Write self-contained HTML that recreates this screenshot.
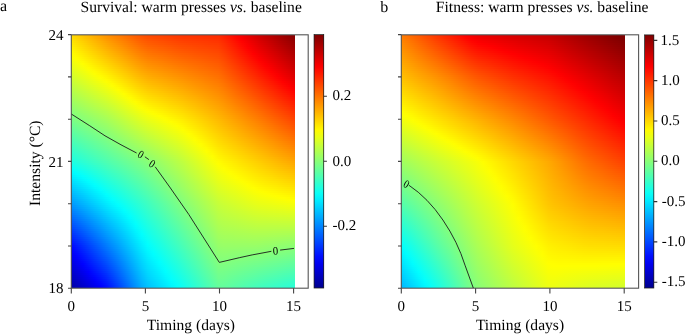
<!DOCTYPE html>
<html><head><meta charset="utf-8">
<style>
html,body{margin:0;padding:0;background:#fff;}
body{width:685px;height:334px;overflow:hidden;position:relative;font-family:"Liberation Serif",serif;}
.hm{position:absolute;overflow:hidden;}
.hm i{display:block;height:2px;}
.cb{position:absolute;background:linear-gradient(180deg,#800000 0.00%,#9f0000 3.12%,#be0000 6.25%,#de0000 9.38%,#fd0000 12.50%,#ff1d00 15.62%,#ff3d00 18.75%,#ff5c00 21.88%,#ff7c00 25.00%,#ff9b00 28.12%,#ffba00 31.25%,#ffda00 34.38%,#fff900 37.50%,#e6ff19 40.62%,#c6ff39 43.75%,#a7ff58 46.88%,#87ff78 50.00%,#68ff97 53.12%,#49ffb6 56.25%,#29ffd6 59.38%,#0afff5 62.50%,#00eaff 65.62%,#00caff 68.75%,#00abff 71.88%,#008bff 75.00%,#006cff 78.12%,#004dff 81.25%,#002dff 84.38%,#000eff 87.50%,#0000ee 90.62%,#0000ce 93.75%,#0000ae 96.88%,#00008f 100.00%);}
svg{position:absolute;left:0;top:0;will-change:transform;}
svg text{font-family:"Liberation Serif",serif;fill:#000;text-rendering:geometricPrecision;}
</style></head><body>
<div class="hm" style="left:71.30px;top:34.50px;width:223.70px;height:253.50px">
<i style="background:linear-gradient(90deg,#ffdc00 0.0%,#ffd000 2.6%,#ffc400 5.3%,#ffb800 7.9%,#ffac00 10.5%,#ffa000 13.2%,#ff9400 15.8%,#ff8800 18.4%,#ff7e00 21.1%,#ff7300 23.7%,#ff6800 26.3%,#ff5e00 28.9%,#ff5300 31.6%,#ff4b00 34.2%,#ff4700 36.8%,#ff4400 39.5%,#ff4000 42.1%,#ff3c00 44.7%,#ff3900 47.4%,#ff3500 50.0%,#ff3300 52.6%,#ff3200 55.3%,#ff3000 57.9%,#ff2e00 60.5%,#ff2d00 63.2%,#ff2b00 65.8%,#ff2000 68.4%,#ff1200 71.1%,#ff0500 73.7%,#f70000 76.3%,#e90000 78.9%,#dc0000 81.6%,#cf0000 84.2%,#c30000 86.8%,#b80000 89.5%,#ac0000 92.1%,#a00000 94.7%,#940000 97.4%,#880000 100.0%)"></i>
<i style="background:linear-gradient(90deg,#ffe000 0.0%,#ffd400 2.6%,#ffc800 5.3%,#ffbc00 7.9%,#ffb000 10.5%,#ffa400 13.2%,#ff9800 15.8%,#ff8d00 18.4%,#ff8300 21.1%,#ff7800 23.7%,#ff6d00 26.3%,#ff6200 28.9%,#ff5800 31.6%,#ff5000 34.2%,#ff4c00 36.8%,#ff4800 39.5%,#ff4500 42.1%,#ff4100 44.7%,#ff3d00 47.4%,#ff3900 50.0%,#ff3800 52.6%,#ff3600 55.3%,#ff3400 57.9%,#ff3200 60.5%,#ff3000 63.2%,#ff2f00 65.8%,#ff2300 68.4%,#ff1600 71.1%,#ff0900 73.7%,#fa0000 76.3%,#ed0000 78.9%,#e00000 81.6%,#d30000 84.2%,#c70000 86.8%,#bc0000 89.5%,#b00000 92.1%,#a40000 94.7%,#980000 97.4%,#8c0000 100.0%)"></i>
<i style="background:linear-gradient(90deg,#ffe400 0.0%,#ffd800 2.6%,#ffcc00 5.3%,#ffc100 7.9%,#ffb500 10.5%,#ffa900 13.2%,#ff9d00 15.8%,#ff9200 18.4%,#ff8700 21.1%,#ff7d00 23.7%,#ff7200 26.3%,#ff6700 28.9%,#ff5d00 31.6%,#ff5500 34.2%,#ff5100 36.8%,#ff4d00 39.5%,#ff4900 42.1%,#ff4500 44.7%,#ff4100 47.4%,#ff3e00 50.0%,#ff3c00 52.6%,#ff3a00 55.3%,#ff3800 57.9%,#ff3600 60.5%,#ff3400 63.2%,#ff3200 65.8%,#ff2700 68.4%,#ff1a00 71.1%,#ff0c00 73.7%,#fe0000 76.3%,#f10000 78.9%,#e40000 81.6%,#d70000 84.2%,#cb0000 86.8%,#c00000 89.5%,#b40000 92.1%,#a80000 94.7%,#9c0000 97.4%,#910000 100.0%)"></i>
<i style="background:linear-gradient(90deg,#ffe800 0.0%,#ffdc00 2.6%,#ffd100 5.3%,#ffc500 7.9%,#ffb900 10.5%,#ffae00 13.2%,#ffa200 15.8%,#ff9700 18.4%,#ff8c00 21.1%,#ff8200 23.7%,#ff7700 26.3%,#ff6c00 28.9%,#ff6100 31.6%,#ff5a00 34.2%,#ff5600 36.8%,#ff5200 39.5%,#ff4e00 42.1%,#ff4a00 44.7%,#ff4600 47.4%,#ff4200 50.0%,#ff4000 52.6%,#ff3e00 55.3%,#ff3c00 57.9%,#ff3a00 60.5%,#ff3700 63.2%,#ff3500 65.8%,#ff2a00 68.4%,#ff1d00 71.1%,#ff1000 73.7%,#ff0300 76.3%,#f50000 78.9%,#e80000 81.6%,#db0000 84.2%,#d00000 86.8%,#c40000 89.5%,#b80000 92.1%,#ac0000 94.7%,#a10000 97.4%,#950000 100.0%)"></i>
<i style="background:linear-gradient(90deg,#ffec00 0.0%,#ffe000 2.6%,#ffd500 5.3%,#ffc900 7.9%,#ffbe00 10.5%,#ffb200 13.2%,#ffa700 15.8%,#ff9c00 18.4%,#ff9100 21.1%,#ff8600 23.7%,#ff7c00 26.3%,#ff7100 28.9%,#ff6600 31.6%,#ff5e00 34.2%,#ff5a00 36.8%,#ff5600 39.5%,#ff5200 42.1%,#ff4e00 44.7%,#ff4a00 47.4%,#ff4700 50.0%,#ff4400 52.6%,#ff4200 55.3%,#ff4000 57.9%,#ff3d00 60.5%,#ff3b00 63.2%,#ff3900 65.8%,#ff2e00 68.4%,#ff2100 71.1%,#ff1400 73.7%,#ff0700 76.3%,#f90000 78.9%,#ec0000 81.6%,#df0000 84.2%,#d40000 86.8%,#c80000 89.5%,#bc0000 92.1%,#b00000 94.7%,#a50000 97.4%,#990000 100.0%)"></i>
<i style="background:linear-gradient(90deg,#fff000 0.0%,#ffe400 2.6%,#ffd900 5.3%,#ffce00 7.9%,#ffc200 10.5%,#ffb700 13.2%,#ffab00 15.8%,#ffa000 18.4%,#ff9600 21.1%,#ff8b00 23.7%,#ff8000 26.3%,#ff7600 28.9%,#ff6b00 31.6%,#ff6300 34.2%,#ff5f00 36.8%,#ff5b00 39.5%,#ff5700 42.1%,#ff5300 44.7%,#ff4f00 47.4%,#ff4b00 50.0%,#ff4900 52.6%,#ff4600 55.3%,#ff4400 57.9%,#ff4100 60.5%,#ff3f00 63.2%,#ff3c00 65.8%,#ff3100 68.4%,#ff2400 71.1%,#ff1700 73.7%,#ff0a00 76.3%,#fc0000 78.9%,#f00000 81.6%,#e30000 84.2%,#d80000 86.8%,#cc0000 89.5%,#c00000 92.1%,#b50000 94.7%,#a90000 97.4%,#9d0000 100.0%)"></i>
<i style="background:linear-gradient(90deg,#fff400 0.0%,#ffe900 2.6%,#ffdd00 5.3%,#ffd200 7.9%,#ffc700 10.5%,#ffbb00 13.2%,#ffb000 15.8%,#ffa500 18.4%,#ff9b00 21.1%,#ff9000 23.7%,#ff8500 26.3%,#ff7b00 28.9%,#ff7000 31.6%,#ff6800 34.2%,#ff6400 36.8%,#ff6000 39.5%,#ff5c00 42.1%,#ff5800 44.7%,#ff5300 47.4%,#ff4f00 50.0%,#ff4d00 52.6%,#ff4a00 55.3%,#ff4700 57.9%,#ff4500 60.5%,#ff4200 63.2%,#ff3f00 65.8%,#ff3400 68.4%,#ff2800 71.1%,#ff1b00 73.7%,#ff0e00 76.3%,#ff0100 78.9%,#f40000 81.6%,#e70000 84.2%,#dc0000 86.8%,#d00000 89.5%,#c40000 92.1%,#b90000 94.7%,#ad0000 97.4%,#a10000 100.0%)"></i>
<i style="background:linear-gradient(90deg,#fff800 0.0%,#ffed00 2.6%,#ffe100 5.3%,#ffd600 7.9%,#ffcb00 10.5%,#ffc000 13.2%,#ffb500 15.8%,#ffaa00 18.4%,#ff9f00 21.1%,#ff9500 23.7%,#ff8a00 26.3%,#ff8000 28.9%,#ff7500 31.6%,#ff6d00 34.2%,#ff6900 36.8%,#ff6400 39.5%,#ff6000 42.1%,#ff5c00 44.7%,#ff5800 47.4%,#ff5400 50.0%,#ff5100 52.6%,#ff4e00 55.3%,#ff4b00 57.9%,#ff4900 60.5%,#ff4600 63.2%,#ff4300 65.8%,#ff3800 68.4%,#ff2b00 71.1%,#ff1f00 73.7%,#ff1200 76.3%,#ff0500 78.9%,#f70000 81.6%,#eb0000 84.2%,#e00000 86.8%,#d40000 89.5%,#c80000 92.1%,#bd0000 94.7%,#b10000 97.4%,#a60000 100.0%)"></i>
<i style="background:linear-gradient(90deg,#fffc00 0.0%,#fff100 2.6%,#ffe600 5.3%,#ffdb00 7.9%,#ffd000 10.5%,#ffc500 13.2%,#ffba00 15.8%,#ffaf00 18.4%,#ffa400 21.1%,#ff9a00 23.7%,#ff8f00 26.3%,#ff8400 28.9%,#ff7a00 31.6%,#ff7200 34.2%,#ff6d00 36.8%,#ff6900 39.5%,#ff6500 42.1%,#ff6100 44.7%,#ff5c00 47.4%,#ff5800 50.0%,#ff5500 52.6%,#ff5200 55.3%,#ff4f00 57.9%,#ff4c00 60.5%,#ff4900 63.2%,#ff4600 65.8%,#ff3b00 68.4%,#ff2f00 71.1%,#ff2200 73.7%,#ff1600 76.3%,#ff0900 78.9%,#fb0000 81.6%,#ef0000 84.2%,#e40000 86.8%,#d80000 89.5%,#cd0000 92.1%,#c10000 94.7%,#b50000 97.4%,#aa0000 100.0%)"></i>
<i style="background:linear-gradient(90deg,#feff01 0.0%,#fff500 2.6%,#ffea00 5.3%,#ffdf00 7.9%,#ffd400 10.5%,#ffc900 13.2%,#ffbe00 15.8%,#ffb400 18.4%,#ffa900 21.1%,#ff9e00 23.7%,#ff9400 26.3%,#ff8900 28.9%,#ff7f00 31.6%,#ff7700 34.2%,#ff7200 36.8%,#ff6e00 39.5%,#ff6a00 42.1%,#ff6500 44.7%,#ff6100 47.4%,#ff5d00 50.0%,#ff5a00 52.6%,#ff5600 55.3%,#ff5300 57.9%,#ff5000 60.5%,#ff4d00 63.2%,#ff4a00 65.8%,#ff3f00 68.4%,#ff3200 71.1%,#ff2600 73.7%,#ff1900 76.3%,#ff0d00 78.9%,#ff0000 81.6%,#f30000 84.2%,#e80000 86.8%,#dc0000 89.5%,#d10000 92.1%,#c50000 94.7%,#b90000 97.4%,#ae0000 100.0%)"></i>
<i style="background:linear-gradient(90deg,#fbff04 0.0%,#fff900 2.6%,#ffee00 5.3%,#ffe300 7.9%,#ffd900 10.5%,#ffce00 13.2%,#ffc300 15.8%,#ffb800 18.4%,#ffae00 21.1%,#ffa300 23.7%,#ff9900 26.3%,#ff8e00 28.9%,#ff8300 31.6%,#ff7b00 34.2%,#ff7700 36.8%,#ff7300 39.5%,#ff6e00 42.1%,#ff6a00 44.7%,#ff6500 47.4%,#ff6100 50.0%,#ff5e00 52.6%,#ff5a00 55.3%,#ff5700 57.9%,#ff5400 60.5%,#ff5000 63.2%,#ff4d00 65.8%,#ff4200 68.4%,#ff3600 71.1%,#ff2900 73.7%,#ff1d00 76.3%,#ff1100 78.9%,#ff0400 81.6%,#f70000 84.2%,#ec0000 86.8%,#e00000 89.5%,#d50000 92.1%,#c90000 94.7%,#be0000 97.4%,#b20000 100.0%)"></i>
<i style="background:linear-gradient(90deg,#f7ff08 0.0%,#fffd00 2.6%,#fff200 5.3%,#ffe800 7.9%,#ffdd00 10.5%,#ffd200 13.2%,#ffc800 15.8%,#ffbd00 18.4%,#ffb300 21.1%,#ffa800 23.7%,#ff9d00 26.3%,#ff9300 28.9%,#ff8800 31.6%,#ff8000 34.2%,#ff7c00 36.8%,#ff7700 39.5%,#ff7300 42.1%,#ff6e00 44.7%,#ff6a00 47.4%,#ff6500 50.0%,#ff6200 52.6%,#ff5e00 55.3%,#ff5b00 57.9%,#ff5700 60.5%,#ff5400 63.2%,#ff5000 65.8%,#ff4600 68.4%,#ff3900 71.1%,#ff2d00 73.7%,#ff2100 76.3%,#ff1500 78.9%,#ff0800 81.6%,#fb0000 84.2%,#f00000 86.8%,#e40000 89.5%,#d90000 92.1%,#cd0000 94.7%,#c20000 97.4%,#b60000 100.0%)"></i>
<i style="background:linear-gradient(90deg,#f3ff0c 0.0%,#fdff02 2.6%,#fff600 5.3%,#ffec00 7.9%,#ffe200 10.5%,#ffd700 13.2%,#ffcd00 15.8%,#ffc200 18.4%,#ffb700 21.1%,#ffad00 23.7%,#ffa200 26.3%,#ff9800 28.9%,#ff8d00 31.6%,#ff8500 34.2%,#ff8000 36.8%,#ff7c00 39.5%,#ff7700 42.1%,#ff7300 44.7%,#ff6e00 47.4%,#ff6a00 50.0%,#ff6600 52.6%,#ff6300 55.3%,#ff5f00 57.9%,#ff5b00 60.5%,#ff5700 63.2%,#ff5400 65.8%,#ff4900 68.4%,#ff3d00 71.1%,#ff3100 73.7%,#ff2500 76.3%,#ff1800 78.9%,#ff0c00 81.6%,#ff0000 84.2%,#f40000 86.8%,#e80000 89.5%,#dd0000 92.1%,#d10000 94.7%,#c60000 97.4%,#ba0000 100.0%)"></i>
<i style="background:linear-gradient(90deg,#efff10 0.0%,#f9ff06 2.6%,#fffb00 5.3%,#fff000 7.9%,#ffe600 10.5%,#ffdc00 13.2%,#ffd100 15.8%,#ffc700 18.4%,#ffbc00 21.1%,#ffb200 23.7%,#ffa700 26.3%,#ff9d00 28.9%,#ff9200 31.6%,#ff8a00 34.2%,#ff8500 36.8%,#ff8100 39.5%,#ff7c00 42.1%,#ff7700 44.7%,#ff7300 47.4%,#ff6e00 50.0%,#ff6a00 52.6%,#ff6700 55.3%,#ff6300 57.9%,#ff5f00 60.5%,#ff5b00 63.2%,#ff5700 65.8%,#ff4d00 68.4%,#ff4000 71.1%,#ff3400 73.7%,#ff2800 76.3%,#ff1c00 78.9%,#ff1000 81.6%,#ff0400 84.2%,#f80000 86.8%,#ec0000 89.5%,#e10000 92.1%,#d60000 94.7%,#ca0000 97.4%,#bf0000 100.0%)"></i>
<i style="background:linear-gradient(90deg,#ebff14 0.0%,#f5ff0a 2.6%,#ffff00 5.3%,#fff500 7.9%,#ffea00 10.5%,#ffe000 13.2%,#ffd600 15.8%,#ffcc00 18.4%,#ffc100 21.1%,#ffb700 23.7%,#ffac00 26.3%,#ffa100 28.9%,#ff9700 31.6%,#ff8f00 34.2%,#ff8a00 36.8%,#ff8500 39.5%,#ff8100 42.1%,#ff7c00 44.7%,#ff7700 47.4%,#ff7300 50.0%,#ff6f00 52.6%,#ff6b00 55.3%,#ff6700 57.9%,#ff6300 60.5%,#ff5f00 63.2%,#ff5b00 65.8%,#ff5000 68.4%,#ff4400 71.1%,#ff3800 73.7%,#ff2c00 76.3%,#ff2000 78.9%,#ff1400 81.6%,#ff0800 84.2%,#fc0000 86.8%,#f10000 89.5%,#e50000 92.1%,#da0000 94.7%,#ce0000 97.4%,#c30000 100.0%)"></i>
<i style="background:linear-gradient(90deg,#e7ff18 0.0%,#f1ff0e 2.6%,#fbff04 5.3%,#fff900 7.9%,#ffef00 10.5%,#ffe500 13.2%,#ffdb00 15.8%,#ffd100 18.4%,#ffc600 21.1%,#ffbb00 23.7%,#ffb100 26.3%,#ffa600 28.9%,#ff9c00 31.6%,#ff9300 34.2%,#ff8f00 36.8%,#ff8a00 39.5%,#ff8500 42.1%,#ff8100 44.7%,#ff7c00 47.4%,#ff7700 50.0%,#ff7300 52.6%,#ff6f00 55.3%,#ff6b00 57.9%,#ff6600 60.5%,#ff6200 63.2%,#ff5e00 65.8%,#ff5300 68.4%,#ff4800 71.1%,#ff3c00 73.7%,#ff3000 76.3%,#ff2400 78.9%,#ff1800 81.6%,#ff0c00 84.2%,#ff0100 86.8%,#f50000 89.5%,#e90000 92.1%,#de0000 94.7%,#d20000 97.4%,#c70000 100.0%)"></i>
<i style="background:linear-gradient(90deg,#e3ff1c 0.0%,#edff12 2.6%,#f7ff08 5.3%,#fffd00 7.9%,#fff300 10.5%,#ffea00 13.2%,#ffe000 15.8%,#ffd500 18.4%,#ffcb00 21.1%,#ffc000 23.7%,#ffb600 26.3%,#ffab00 28.9%,#ffa000 31.6%,#ff9800 34.2%,#ff9300 36.8%,#ff8f00 39.5%,#ff8a00 42.1%,#ff8500 44.7%,#ff8000 47.4%,#ff7c00 50.0%,#ff7700 52.6%,#ff7300 55.3%,#ff6e00 57.9%,#ff6a00 60.5%,#ff6600 63.2%,#ff6100 65.8%,#ff5700 68.4%,#ff4b00 71.1%,#ff3f00 73.7%,#ff3400 76.3%,#ff2800 78.9%,#ff1c00 81.6%,#ff1000 84.2%,#ff0500 86.8%,#f90000 89.5%,#ed0000 92.1%,#e20000 94.7%,#d60000 97.4%,#cb0000 100.0%)"></i>
<i style="background:linear-gradient(90deg,#dfff20 0.0%,#e9ff16 2.6%,#f3ff0c 5.3%,#fcff03 7.9%,#fff800 10.5%,#ffee00 13.2%,#ffe400 15.8%,#ffda00 18.4%,#ffd000 21.1%,#ffc500 23.7%,#ffba00 26.3%,#ffb000 28.9%,#ffa500 31.6%,#ff9d00 34.2%,#ff9800 36.8%,#ff9300 39.5%,#ff8e00 42.1%,#ff8a00 44.7%,#ff8500 47.4%,#ff8000 50.0%,#ff7b00 52.6%,#ff7700 55.3%,#ff7200 57.9%,#ff6e00 60.5%,#ff6900 63.2%,#ff6500 65.8%,#ff5a00 68.4%,#ff4f00 71.1%,#ff4300 73.7%,#ff3700 76.3%,#ff2c00 78.9%,#ff2000 81.6%,#ff1400 84.2%,#ff0900 86.8%,#fd0000 89.5%,#f10000 92.1%,#e60000 94.7%,#db0000 97.4%,#cf0000 100.0%)"></i>
<i style="background:linear-gradient(90deg,#dbff24 0.0%,#e5ff1a 2.6%,#eeff11 5.3%,#f8ff07 7.9%,#fffc00 10.5%,#fff300 13.2%,#ffe900 15.8%,#ffdf00 18.4%,#ffd400 21.1%,#ffca00 23.7%,#ffbf00 26.3%,#ffb500 28.9%,#ffaa00 31.6%,#ffa200 34.2%,#ff9d00 36.8%,#ff9800 39.5%,#ff9300 42.1%,#ff8e00 44.7%,#ff8900 47.4%,#ff8400 50.0%,#ff8000 52.6%,#ff7b00 55.3%,#ff7600 57.9%,#ff7200 60.5%,#ff6d00 63.2%,#ff6800 65.8%,#ff5e00 68.4%,#ff5200 71.1%,#ff4700 73.7%,#ff3b00 76.3%,#ff2f00 78.9%,#ff2400 81.6%,#ff1800 84.2%,#ff0d00 86.8%,#ff0200 89.5%,#f50000 92.1%,#ea0000 94.7%,#df0000 97.4%,#d30000 100.0%)"></i>
<i style="background:linear-gradient(90deg,#d7ff28 0.0%,#e1ff1e 2.6%,#eaff15 5.3%,#f4ff0b 7.9%,#fdff02 10.5%,#fff700 13.2%,#ffee00 15.8%,#ffe400 18.4%,#ffd900 21.1%,#ffcf00 23.7%,#ffc400 26.3%,#ffba00 28.9%,#ffaf00 31.6%,#ffa700 34.2%,#ffa200 36.8%,#ff9d00 39.5%,#ff9800 42.1%,#ff9300 44.7%,#ff8e00 47.4%,#ff8900 50.0%,#ff8400 52.6%,#ff7f00 55.3%,#ff7a00 57.9%,#ff7500 60.5%,#ff7000 63.2%,#ff6c00 65.8%,#ff6100 68.4%,#ff5600 71.1%,#ff4a00 73.7%,#ff3f00 76.3%,#ff3300 78.9%,#ff2800 81.6%,#ff1c00 84.2%,#ff1100 86.8%,#ff0600 89.5%,#fa0000 92.1%,#ee0000 94.7%,#e30000 97.4%,#d80000 100.0%)"></i>
<i style="background:linear-gradient(90deg,#d3ff2c 0.0%,#ddff22 2.6%,#e6ff19 5.3%,#efff10 7.9%,#f9ff06 10.5%,#fffc00 13.2%,#fff300 15.8%,#ffe900 18.4%,#ffde00 21.1%,#ffd300 23.7%,#ffc900 26.3%,#ffbe00 28.9%,#ffb400 31.6%,#ffac00 34.2%,#ffa600 36.8%,#ffa100 39.5%,#ff9c00 42.1%,#ff9700 44.7%,#ff9200 47.4%,#ff8d00 50.0%,#ff8800 52.6%,#ff8300 55.3%,#ff7e00 57.9%,#ff7900 60.5%,#ff7400 63.2%,#ff6f00 65.8%,#ff6500 68.4%,#ff5900 71.1%,#ff4e00 73.7%,#ff4300 76.3%,#ff3700 78.9%,#ff2c00 81.6%,#ff2000 84.2%,#ff1500 86.8%,#ff0a00 89.5%,#fe0000 92.1%,#f20000 94.7%,#e70000 97.4%,#dc0000 100.0%)"></i>
<i style="background:linear-gradient(90deg,#cfff30 0.0%,#d8ff27 2.6%,#e2ff1d 5.3%,#ebff14 7.9%,#f4ff0b 10.5%,#fdff02 13.2%,#fff700 15.8%,#ffed00 18.4%,#ffe300 21.1%,#ffd800 23.7%,#ffce00 26.3%,#ffc300 28.9%,#ffb900 31.6%,#ffb000 34.2%,#ffab00 36.8%,#ffa600 39.5%,#ffa100 42.1%,#ff9c00 44.7%,#ff9700 47.4%,#ff9100 50.0%,#ff8c00 52.6%,#ff8700 55.3%,#ff8200 57.9%,#ff7d00 60.5%,#ff7800 63.2%,#ff7200 65.8%,#ff6800 68.4%,#ff5d00 71.1%,#ff5200 73.7%,#ff4600 76.3%,#ff3b00 78.9%,#ff3000 81.6%,#ff2500 84.2%,#ff1900 86.8%,#ff0e00 89.5%,#ff0300 92.1%,#f70000 94.7%,#eb0000 97.4%,#e00000 100.0%)"></i>
<i style="background:linear-gradient(90deg,#cbff34 0.0%,#d4ff2b 2.6%,#ddff22 5.3%,#e6ff19 7.9%,#f0ff0f 10.5%,#f9ff06 13.2%,#fffc00 15.8%,#fff200 18.4%,#ffe800 21.1%,#ffdd00 23.7%,#ffd300 26.3%,#ffc800 28.9%,#ffbe00 31.6%,#ffb500 34.2%,#ffb000 36.8%,#ffab00 39.5%,#ffa600 42.1%,#ffa000 44.7%,#ff9b00 47.4%,#ff9600 50.0%,#ff9000 52.6%,#ff8b00 55.3%,#ff8600 57.9%,#ff8000 60.5%,#ff7b00 63.2%,#ff7600 65.8%,#ff6c00 68.4%,#ff6000 71.1%,#ff5500 73.7%,#ff4a00 76.3%,#ff3f00 78.9%,#ff3400 81.6%,#ff2900 84.2%,#ff1e00 86.8%,#ff1200 89.5%,#ff0700 92.1%,#fb0000 94.7%,#f00000 97.4%,#e50000 100.0%)"></i>
<i style="background:linear-gradient(90deg,#c7ff38 0.0%,#d0ff2f 2.6%,#d9ff26 5.3%,#e2ff1d 7.9%,#ebff14 10.5%,#f4ff0b 13.2%,#fdff02 15.8%,#fff700 18.4%,#ffec00 21.1%,#ffe200 23.7%,#ffd700 26.3%,#ffcd00 28.9%,#ffc200 31.6%,#ffba00 34.2%,#ffb500 36.8%,#ffaf00 39.5%,#ffaa00 42.1%,#ffa500 44.7%,#ffa000 47.4%,#ff9a00 50.0%,#ff9500 52.6%,#ff8f00 55.3%,#ff8a00 57.9%,#ff8400 60.5%,#ff7f00 63.2%,#ff7900 65.8%,#ff6f00 68.4%,#ff6400 71.1%,#ff5900 73.7%,#ff4e00 76.3%,#ff4300 78.9%,#ff3800 81.6%,#ff2d00 84.2%,#ff2200 86.8%,#ff1700 89.5%,#ff0c00 92.1%,#ff0100 94.7%,#f50000 97.4%,#ea0000 100.0%)"></i>
<i style="background:linear-gradient(90deg,#c3ff3c 0.0%,#ccff33 2.6%,#d5ff2a 5.3%,#deff21 7.9%,#e7ff18 10.5%,#efff10 13.2%,#f8ff07 15.8%,#fffc00 18.4%,#fff100 21.1%,#ffe700 23.7%,#ffdc00 26.3%,#ffd200 28.9%,#ffc700 31.6%,#ffbf00 34.2%,#ffb900 36.8%,#ffb400 39.5%,#ffaf00 42.1%,#ffa900 44.7%,#ffa400 47.4%,#ff9f00 50.0%,#ff9900 52.6%,#ff9300 55.3%,#ff8e00 57.9%,#ff8800 60.5%,#ff8200 63.2%,#ff7d00 65.8%,#ff7300 68.4%,#ff6800 71.1%,#ff5d00 73.7%,#ff5200 76.3%,#ff4700 78.9%,#ff3c00 81.6%,#ff3100 84.2%,#ff2600 86.8%,#ff1b00 89.5%,#ff1000 92.1%,#ff0500 94.7%,#f90000 97.4%,#ee0000 100.0%)"></i>
<i style="background:linear-gradient(90deg,#bfff40 0.0%,#c7ff38 2.6%,#d0ff2f 5.3%,#d9ff26 7.9%,#e2ff1d 10.5%,#ebff14 13.2%,#f4ff0b 15.8%,#feff01 18.4%,#fff600 21.1%,#ffeb00 23.7%,#ffe100 26.3%,#ffd600 28.9%,#ffcc00 31.6%,#ffc400 34.2%,#ffbe00 36.8%,#ffb900 39.5%,#ffb300 42.1%,#ffae00 44.7%,#ffa800 47.4%,#ffa300 50.0%,#ff9d00 52.6%,#ff9700 55.3%,#ff9100 57.9%,#ff8c00 60.5%,#ff8600 63.2%,#ff8000 65.8%,#ff7600 68.4%,#ff6b00 71.1%,#ff6100 73.7%,#ff5600 76.3%,#ff4b00 78.9%,#ff4000 81.6%,#ff3500 84.2%,#ff2a00 86.8%,#ff2000 89.5%,#ff1500 92.1%,#ff0a00 94.7%,#fe0000 97.4%,#f30000 100.0%)"></i>
<i style="background:linear-gradient(90deg,#baff45 0.0%,#c3ff3c 2.6%,#ccff33 5.3%,#d5ff2a 7.9%,#ddff22 10.5%,#e6ff19 13.2%,#efff10 15.8%,#f9ff06 18.4%,#fffb00 21.1%,#fff000 23.7%,#ffe600 26.3%,#ffdb00 28.9%,#ffd100 31.6%,#ffc800 34.2%,#ffc300 36.8%,#ffbd00 39.5%,#ffb800 42.1%,#ffb200 44.7%,#ffad00 47.4%,#ffa700 50.0%,#ffa100 52.6%,#ff9b00 55.3%,#ff9500 57.9%,#ff8f00 60.5%,#ff8900 63.2%,#ff8400 65.8%,#ff7a00 68.4%,#ff6f00 71.1%,#ff6400 73.7%,#ff5a00 76.3%,#ff4f00 78.9%,#ff4400 81.6%,#ff3900 84.2%,#ff2f00 86.8%,#ff2400 89.5%,#ff1900 92.1%,#ff0e00 94.7%,#ff0400 97.4%,#f80000 100.0%)"></i>
<i style="background:linear-gradient(90deg,#b6ff49 0.0%,#bfff40 2.6%,#c8ff37 5.3%,#d0ff2f 7.9%,#d9ff26 10.5%,#e2ff1d 13.2%,#eaff15 15.8%,#f4ff0b 18.4%,#ffff00 21.1%,#fff500 23.7%,#ffeb00 26.3%,#ffe000 28.9%,#ffd600 31.6%,#ffcd00 34.2%,#ffc800 36.8%,#ffc200 39.5%,#ffbc00 42.1%,#ffb700 44.7%,#ffb100 47.4%,#ffac00 50.0%,#ffa500 52.6%,#ff9f00 55.3%,#ff9900 57.9%,#ff9300 60.5%,#ff8d00 63.2%,#ff8700 65.8%,#ff7d00 68.4%,#ff7300 71.1%,#ff6800 73.7%,#ff5d00 76.3%,#ff5300 78.9%,#ff4800 81.6%,#ff3e00 84.2%,#ff3300 86.8%,#ff2800 89.5%,#ff1e00 92.1%,#ff1300 94.7%,#ff0800 97.4%,#fc0000 100.0%)"></i>
<i style="background:linear-gradient(90deg,#b2ff4d 0.0%,#bbff44 2.6%,#c3ff3c 5.3%,#ccff33 7.9%,#d4ff2b 10.5%,#ddff22 13.2%,#e6ff19 15.8%,#efff10 18.4%,#faff05 21.1%,#fffa00 23.7%,#ffef00 26.3%,#ffe500 28.9%,#ffda00 31.6%,#ffd200 34.2%,#ffcc00 36.8%,#ffc700 39.5%,#ffc100 42.1%,#ffbb00 44.7%,#ffb600 47.4%,#ffb000 50.0%,#ffaa00 52.6%,#ffa300 55.3%,#ff9d00 57.9%,#ff9700 60.5%,#ff9100 63.2%,#ff8a00 65.8%,#ff8100 68.4%,#ff7600 71.1%,#ff6c00 73.7%,#ff6100 76.3%,#ff5700 78.9%,#ff4c00 81.6%,#ff4200 84.2%,#ff3700 86.8%,#ff2d00 89.5%,#ff2200 92.1%,#ff1700 94.7%,#ff0d00 97.4%,#ff0200 100.0%)"></i>
<i style="background:linear-gradient(90deg,#aeff51 0.0%,#b6ff49 2.6%,#bfff40 5.3%,#c7ff38 7.9%,#d0ff2f 10.5%,#d8ff27 13.2%,#e1ff1e 15.8%,#ebff14 18.4%,#f5ff0a 21.1%,#ffff00 23.7%,#fff400 26.3%,#ffea00 28.9%,#ffdf00 31.6%,#ffd700 34.2%,#ffd100 36.8%,#ffcb00 39.5%,#ffc600 42.1%,#ffc000 44.7%,#ffba00 47.4%,#ffb400 50.0%,#ffae00 52.6%,#ffa700 55.3%,#ffa100 57.9%,#ff9b00 60.5%,#ff9400 63.2%,#ff8e00 65.8%,#ff8400 68.4%,#ff7a00 71.1%,#ff6f00 73.7%,#ff6500 76.3%,#ff5b00 78.9%,#ff5000 81.6%,#ff4600 84.2%,#ff3b00 86.8%,#ff3100 89.5%,#ff2600 92.1%,#ff1c00 94.7%,#ff1100 97.4%,#ff0700 100.0%)"></i>
<i style="background:linear-gradient(90deg,#aaff55 0.0%,#b2ff4d 2.6%,#bbff44 5.3%,#c3ff3c 7.9%,#cbff34 10.5%,#d4ff2b 13.2%,#dcff23 15.8%,#e6ff19 18.4%,#f0ff0f 21.1%,#fbff04 23.7%,#fff900 26.3%,#ffef00 28.9%,#ffe400 31.6%,#ffdc00 34.2%,#ffd600 36.8%,#ffd000 39.5%,#ffca00 42.1%,#ffc400 44.7%,#ffbf00 47.4%,#ffb900 50.0%,#ffb200 52.6%,#ffac00 55.3%,#ffa500 57.9%,#ff9e00 60.5%,#ff9800 63.2%,#ff9100 65.8%,#ff8800 68.4%,#ff7d00 71.1%,#ff7300 73.7%,#ff6900 76.3%,#ff5f00 78.9%,#ff5400 81.6%,#ff4a00 84.2%,#ff4000 86.8%,#ff3500 89.5%,#ff2b00 92.1%,#ff2000 94.7%,#ff1600 97.4%,#ff0c00 100.0%)"></i>
<i style="background:linear-gradient(90deg,#a6ff59 0.0%,#aeff51 2.6%,#b6ff49 5.3%,#beff41 7.9%,#c7ff38 10.5%,#cfff30 13.2%,#d7ff28 15.8%,#e1ff1e 18.4%,#ecff13 21.1%,#f6ff09 23.7%,#fffe00 26.3%,#fff300 28.9%,#ffe900 31.6%,#ffe000 34.2%,#ffdb00 36.8%,#ffd500 39.5%,#ffcf00 42.1%,#ffc900 44.7%,#ffc300 47.4%,#ffbd00 50.0%,#ffb600 52.6%,#ffb000 55.3%,#ffa900 57.9%,#ffa200 60.5%,#ff9b00 63.2%,#ff9500 65.8%,#ff8b00 68.4%,#ff8100 71.1%,#ff7700 73.7%,#ff6d00 76.3%,#ff6300 78.9%,#ff5900 81.6%,#ff4e00 84.2%,#ff4400 86.8%,#ff3a00 89.5%,#ff2f00 92.1%,#ff2500 94.7%,#ff1b00 97.4%,#ff1000 100.0%)"></i>
<i style="background:linear-gradient(90deg,#a1ff5e 0.0%,#aaff55 2.6%,#b2ff4d 5.3%,#baff45 7.9%,#c2ff3d 10.5%,#caff35 13.2%,#d3ff2c 15.8%,#dcff23 18.4%,#e7ff18 21.1%,#f1ff0e 23.7%,#fbff04 26.3%,#fff800 28.9%,#ffee00 31.6%,#ffe500 34.2%,#ffdf00 36.8%,#ffd900 39.5%,#ffd300 42.1%,#ffcd00 44.7%,#ffc700 47.4%,#ffc100 50.0%,#ffba00 52.6%,#ffb400 55.3%,#ffad00 57.9%,#ffa600 60.5%,#ff9f00 63.2%,#ff9800 65.8%,#ff8f00 68.4%,#ff8500 71.1%,#ff7b00 73.7%,#ff7100 76.3%,#ff6700 78.9%,#ff5d00 81.6%,#ff5200 84.2%,#ff4800 86.8%,#ff3e00 89.5%,#ff3400 92.1%,#ff2900 94.7%,#ff1f00 97.4%,#ff1500 100.0%)"></i>
<i style="background:linear-gradient(90deg,#9dff62 0.0%,#a5ff5a 2.6%,#adff52 5.3%,#b6ff49 7.9%,#beff41 10.5%,#c6ff39 13.2%,#ceff31 15.8%,#d8ff27 18.4%,#e2ff1d 21.1%,#ecff13 23.7%,#f7ff08 26.3%,#fffd00 28.9%,#fff300 31.6%,#ffea00 34.2%,#ffe400 36.8%,#ffde00 39.5%,#ffd800 42.1%,#ffd200 44.7%,#ffcc00 47.4%,#ffc600 50.0%,#ffbf00 52.6%,#ffb800 55.3%,#ffb100 57.9%,#ffaa00 60.5%,#ffa300 63.2%,#ff9c00 65.8%,#ff9200 68.4%,#ff8800 71.1%,#ff7e00 73.7%,#ff7500 76.3%,#ff6b00 78.9%,#ff6100 81.6%,#ff5700 84.2%,#ff4c00 86.8%,#ff4200 89.5%,#ff3800 92.1%,#ff2e00 94.7%,#ff2400 97.4%,#ff1a00 100.0%)"></i>
<i style="background:linear-gradient(90deg,#99ff66 0.0%,#a1ff5e 2.6%,#a9ff56 5.3%,#b1ff4e 7.9%,#b9ff46 10.5%,#c1ff3e 13.2%,#c9ff36 15.8%,#d3ff2c 18.4%,#ddff22 21.1%,#e8ff17 23.7%,#f2ff0d 26.3%,#fcff03 28.9%,#fff700 31.6%,#ffef00 34.2%,#ffe900 36.8%,#ffe300 39.5%,#ffdd00 42.1%,#ffd600 44.7%,#ffd000 47.4%,#ffca00 50.0%,#ffc300 52.6%,#ffbc00 55.3%,#ffb500 57.9%,#ffad00 60.5%,#ffa600 63.2%,#ff9f00 65.8%,#ff9600 68.4%,#ff8c00 71.1%,#ff8200 73.7%,#ff7800 76.3%,#ff6f00 78.9%,#ff6500 81.6%,#ff5b00 84.2%,#ff5100 86.8%,#ff4700 89.5%,#ff3d00 92.1%,#ff3200 94.7%,#ff2800 97.4%,#ff1e00 100.0%)"></i>
<i style="background:linear-gradient(90deg,#95ff6a 0.0%,#9dff62 2.6%,#a5ff5a 5.3%,#adff52 7.9%,#b5ff4a 10.5%,#bdff42 13.2%,#c5ff3a 15.8%,#ceff31 18.4%,#d8ff27 21.1%,#e3ff1c 23.7%,#edff12 26.3%,#f7ff08 28.9%,#fffc00 31.6%,#fff400 34.2%,#ffed00 36.8%,#ffe700 39.5%,#ffe100 42.1%,#ffdb00 44.7%,#ffd500 47.4%,#ffce00 50.0%,#ffc700 52.6%,#ffc000 55.3%,#ffb800 57.9%,#ffb100 60.5%,#ffaa00 63.2%,#ffa300 65.8%,#ff9900 68.4%,#ff9000 71.1%,#ff8600 73.7%,#ff7c00 76.3%,#ff7300 78.9%,#ff6900 81.6%,#ff5f00 84.2%,#ff5500 86.8%,#ff4b00 89.5%,#ff4100 92.1%,#ff3700 94.7%,#ff2d00 97.4%,#ff2300 100.0%)"></i>
<i style="background:linear-gradient(90deg,#91ff6e 0.0%,#99ff66 2.6%,#a0ff5f 5.3%,#a8ff57 7.9%,#b0ff4f 10.5%,#b8ff47 13.2%,#c0ff3f 15.8%,#c9ff36 18.4%,#d4ff2b 21.1%,#deff21 23.7%,#e8ff17 26.3%,#f3ff0c 28.9%,#fdff02 31.6%,#fff900 34.2%,#fff200 36.8%,#ffec00 39.5%,#ffe600 42.1%,#ffdf00 44.7%,#ffd900 47.4%,#ffd300 50.0%,#ffcb00 52.6%,#ffc400 55.3%,#ffbc00 57.9%,#ffb500 60.5%,#ffad00 63.2%,#ffa600 65.8%,#ff9d00 68.4%,#ff9300 71.1%,#ff8a00 73.7%,#ff8000 76.3%,#ff7700 78.9%,#ff6d00 81.6%,#ff6300 84.2%,#ff5900 86.8%,#ff4f00 89.5%,#ff4500 92.1%,#ff3c00 94.7%,#ff3200 97.4%,#ff2800 100.0%)"></i>
<i style="background:linear-gradient(90deg,#8dff72 0.0%,#94ff6b 2.6%,#9cff63 5.3%,#a4ff5b 7.9%,#acff53 10.5%,#b3ff4c 13.2%,#bbff44 15.8%,#c5ff3a 18.4%,#cfff30 21.1%,#d9ff26 23.7%,#e3ff1c 26.3%,#eeff11 28.9%,#f8ff07 31.6%,#fffd00 34.2%,#fff700 36.8%,#fff100 39.5%,#ffea00 42.1%,#ffe400 44.7%,#ffde00 47.4%,#ffd700 50.0%,#ffcf00 52.6%,#ffc800 55.3%,#ffc000 57.9%,#ffb900 60.5%,#ffb100 63.2%,#ffa900 65.8%,#ffa000 68.4%,#ff9700 71.1%,#ff8d00 73.7%,#ff8400 76.3%,#ff7a00 78.9%,#ff7100 81.6%,#ff6700 84.2%,#ff5e00 86.8%,#ff5400 89.5%,#ff4a00 92.1%,#ff4000 94.7%,#ff3600 97.4%,#ff2c00 100.0%)"></i>
<i style="background:linear-gradient(90deg,#88ff77 0.0%,#90ff6f 2.6%,#98ff67 5.3%,#9fff60 7.9%,#a7ff58 10.5%,#afff50 13.2%,#b6ff49 15.8%,#c0ff3f 18.4%,#caff35 21.1%,#d4ff2b 23.7%,#dfff20 26.3%,#e9ff16 28.9%,#f3ff0c 31.6%,#fcff03 34.2%,#fffc00 36.8%,#fff500 39.5%,#ffef00 42.1%,#ffe800 44.7%,#ffe200 47.4%,#ffdb00 50.0%,#ffd400 52.6%,#ffcc00 55.3%,#ffc400 57.9%,#ffbc00 60.5%,#ffb500 63.2%,#ffad00 65.8%,#ffa400 68.4%,#ff9a00 71.1%,#ff9100 73.7%,#ff8800 76.3%,#ff7e00 78.9%,#ff7500 81.6%,#ff6c00 84.2%,#ff6200 86.8%,#ff5800 89.5%,#ff4e00 92.1%,#ff4500 94.7%,#ff3b00 97.4%,#ff3100 100.0%)"></i>
<i style="background:linear-gradient(90deg,#84ff7b 0.0%,#8cff73 2.6%,#93ff6c 5.3%,#9bff64 7.9%,#a2ff5d 10.5%,#aaff55 13.2%,#b2ff4d 15.8%,#bbff44 18.4%,#c5ff3a 21.1%,#d0ff2f 23.7%,#daff25 26.3%,#e4ff1b 28.9%,#eeff11 31.6%,#f7ff08 34.2%,#feff01 36.8%,#fffa00 39.5%,#fff300 42.1%,#ffed00 44.7%,#ffe600 47.4%,#ffe000 50.0%,#ffd800 52.6%,#ffd000 55.3%,#ffc800 57.9%,#ffc000 60.5%,#ffb800 63.2%,#ffb000 65.8%,#ffa700 68.4%,#ff9e00 71.1%,#ff9500 73.7%,#ff8c00 76.3%,#ff8200 78.9%,#ff7900 81.6%,#ff7000 84.2%,#ff6600 86.8%,#ff5c00 89.5%,#ff5300 92.1%,#ff4900 94.7%,#ff3f00 97.4%,#ff3600 100.0%)"></i>
<i style="background:linear-gradient(90deg,#80ff7f 0.0%,#87ff78 2.6%,#8fff70 5.3%,#96ff69 7.9%,#9eff61 10.5%,#a5ff5a 13.2%,#adff52 15.8%,#b6ff49 18.4%,#c1ff3e 21.1%,#cbff34 23.7%,#d5ff2a 26.3%,#dfff20 28.9%,#eaff15 31.6%,#f2ff0d 34.2%,#f9ff06 36.8%,#ffff00 39.5%,#fff800 42.1%,#fff100 44.7%,#ffeb00 47.4%,#ffe400 50.0%,#ffdc00 52.6%,#ffd400 55.3%,#ffcc00 57.9%,#ffc400 60.5%,#ffbc00 63.2%,#ffb400 65.8%,#ffab00 68.4%,#ffa200 71.1%,#ff9900 73.7%,#ff8f00 76.3%,#ff8600 78.9%,#ff7d00 81.6%,#ff7400 84.2%,#ff6a00 86.8%,#ff6100 89.5%,#ff5700 92.1%,#ff4e00 94.7%,#ff4400 97.4%,#ff3b00 100.0%)"></i>
<i style="background:linear-gradient(90deg,#7cff83 0.0%,#83ff7c 2.6%,#8bff74 5.3%,#92ff6d 7.9%,#99ff66 10.5%,#a1ff5e 13.2%,#a8ff57 15.8%,#b2ff4d 18.4%,#bcff43 21.1%,#c6ff39 23.7%,#d0ff2f 26.3%,#daff25 28.9%,#e5ff1a 31.6%,#edff12 34.2%,#f4ff0b 36.8%,#fbff04 39.5%,#fffd00 42.1%,#fff600 44.7%,#ffef00 47.4%,#ffe800 50.0%,#ffe000 52.6%,#ffd800 55.3%,#ffd000 57.9%,#ffc800 60.5%,#ffbf00 63.2%,#ffb700 65.8%,#ffae00 68.4%,#ffa500 71.1%,#ff9c00 73.7%,#ff9300 76.3%,#ff8a00 78.9%,#ff8100 81.6%,#ff7800 84.2%,#ff6f00 86.8%,#ff6500 89.5%,#ff5c00 92.1%,#ff5200 94.7%,#ff4900 97.4%,#ff3f00 100.0%)"></i>
<i style="background:linear-gradient(90deg,#78ff87 0.0%,#7fff80 2.6%,#86ff79 5.3%,#8eff71 7.9%,#95ff6a 10.5%,#9cff63 13.2%,#a4ff5b 15.8%,#adff52 18.4%,#b7ff48 21.1%,#c1ff3e 23.7%,#ccff33 26.3%,#d6ff29 28.9%,#e0ff1f 31.6%,#e9ff16 34.2%,#efff10 36.8%,#f6ff09 39.5%,#fdff02 42.1%,#fffa00 44.7%,#fff400 47.4%,#ffed00 50.0%,#ffe400 52.6%,#ffdc00 55.3%,#ffd400 57.9%,#ffcb00 60.5%,#ffc300 63.2%,#ffbb00 65.8%,#ffb200 68.4%,#ffa900 71.1%,#ffa000 73.7%,#ff9700 76.3%,#ff8e00 78.9%,#ff8500 81.6%,#ff7c00 84.2%,#ff7300 86.8%,#ff6900 89.5%,#ff6000 92.1%,#ff5700 94.7%,#ff4d00 97.4%,#ff4400 100.0%)"></i>
<i style="background:linear-gradient(90deg,#73ff8c 0.0%,#7bff84 2.6%,#82ff7d 5.3%,#89ff76 7.9%,#91ff6e 10.5%,#98ff67 13.2%,#a0ff5f 15.8%,#a9ff56 18.4%,#b3ff4c 21.1%,#bdff42 23.7%,#c7ff38 26.3%,#d1ff2e 28.9%,#dbff24 31.6%,#e4ff1b 34.2%,#ebff14 36.8%,#f2ff0d 39.5%,#f9ff06 42.1%,#fffe00 44.7%,#fff800 47.4%,#fff000 50.0%,#ffe800 52.6%,#ffe000 55.3%,#ffd700 57.9%,#ffcf00 60.5%,#ffc600 63.2%,#ffbe00 65.8%,#ffb500 68.4%,#ffac00 71.1%,#ffa300 73.7%,#ff9b00 76.3%,#ff9200 78.9%,#ff8900 81.6%,#ff8000 84.2%,#ff7700 86.8%,#ff6d00 89.5%,#ff6400 92.1%,#ff5b00 94.7%,#ff5200 97.4%,#ff4900 100.0%)"></i>
<i style="background:linear-gradient(90deg,#6fff90 0.0%,#76ff89 2.6%,#7eff81 5.3%,#85ff7a 7.9%,#8dff72 10.5%,#94ff6b 13.2%,#9bff64 15.8%,#a5ff5a 18.4%,#afff50 21.1%,#b9ff46 23.7%,#c3ff3c 26.3%,#cdff32 28.9%,#d7ff28 31.6%,#dfff20 34.2%,#e6ff19 36.8%,#edff12 39.5%,#f4ff0b 42.1%,#fbff04 44.7%,#fffc00 47.4%,#fff400 50.0%,#ffec00 52.6%,#ffe300 55.3%,#ffdb00 57.9%,#ffd200 60.5%,#ffc900 63.2%,#ffc100 65.8%,#ffb800 68.4%,#ffaf00 71.1%,#ffa700 73.7%,#ff9e00 76.3%,#ff9500 78.9%,#ff8d00 81.6%,#ff8400 84.2%,#ff7b00 86.8%,#ff7200 89.5%,#ff6800 92.1%,#ff5f00 94.7%,#ff5600 97.4%,#ff4d00 100.0%)"></i>
<i style="background:linear-gradient(90deg,#6aff95 0.0%,#72ff8d 2.6%,#79ff86 5.3%,#81ff7e 7.9%,#88ff77 10.5%,#90ff6f 13.2%,#97ff68 15.8%,#a1ff5e 18.4%,#aaff55 21.1%,#b4ff4b 23.7%,#beff41 26.3%,#c8ff37 28.9%,#d2ff2d 31.6%,#dbff24 34.2%,#e2ff1d 36.8%,#e9ff16 39.5%,#f0ff0f 42.1%,#f7ff08 44.7%,#feff01 47.4%,#fff800 50.0%,#ffef00 52.6%,#ffe700 55.3%,#ffde00 57.9%,#ffd500 60.5%,#ffcd00 63.2%,#ffc400 65.8%,#ffbb00 68.4%,#ffb300 71.1%,#ffaa00 73.7%,#ffa200 76.3%,#ff9900 78.9%,#ff9000 81.6%,#ff8800 84.2%,#ff7f00 86.8%,#ff7600 89.5%,#ff6d00 92.1%,#ff6400 94.7%,#ff5b00 97.4%,#ff5200 100.0%)"></i>
<i style="background:linear-gradient(90deg,#66ff99 0.0%,#6dff92 2.6%,#75ff8a 5.3%,#7cff83 7.9%,#84ff7b 10.5%,#8cff73 13.2%,#93ff6c 15.8%,#9cff63 18.4%,#a6ff59 21.1%,#b0ff4f 23.7%,#baff45 26.3%,#c4ff3b 28.9%,#cdff32 31.6%,#d6ff29 34.2%,#ddff22 36.8%,#e5ff1a 39.5%,#ecff13 42.1%,#f3ff0c 44.7%,#faff05 47.4%,#fffc00 50.0%,#fff300 52.6%,#ffea00 55.3%,#ffe200 57.9%,#ffd900 60.5%,#ffd000 63.2%,#ffc700 65.8%,#ffbf00 68.4%,#ffb600 71.1%,#ffae00 73.7%,#ffa500 76.3%,#ff9d00 78.9%,#ff9400 81.6%,#ff8c00 84.2%,#ff8300 86.8%,#ff7a00 89.5%,#ff7100 92.1%,#ff6800 94.7%,#ff5f00 97.4%,#ff5600 100.0%)"></i>
<i style="background:linear-gradient(90deg,#61ff9e 0.0%,#69ff96 2.6%,#71ff8e 5.3%,#78ff87 7.9%,#80ff7f 10.5%,#87ff78 13.2%,#8fff70 15.8%,#98ff67 18.4%,#a2ff5d 21.1%,#acff53 23.7%,#b5ff4a 26.3%,#bfff40 28.9%,#c9ff36 31.6%,#d2ff2d 34.2%,#d9ff26 36.8%,#e0ff1f 39.5%,#e8ff17 42.1%,#efff10 44.7%,#f6ff09 47.4%,#feff01 50.0%,#fff700 52.6%,#ffee00 55.3%,#ffe500 57.9%,#ffdc00 60.5%,#ffd300 63.2%,#ffca00 65.8%,#ffc200 68.4%,#ffb900 71.1%,#ffb100 73.7%,#ffa900 76.3%,#ffa000 78.9%,#ff9800 81.6%,#ff8f00 84.2%,#ff8700 86.8%,#ff7e00 89.5%,#ff7500 92.1%,#ff6c00 94.7%,#ff6400 97.4%,#ff5b00 100.0%)"></i>
<i style="background:linear-gradient(90deg,#5dffa2 0.0%,#65ff9a 2.6%,#6cff93 5.3%,#74ff8b 7.9%,#7cff83 10.5%,#83ff7c 13.2%,#8bff74 15.8%,#94ff6b 18.4%,#9eff61 21.1%,#a7ff58 23.7%,#b1ff4e 26.3%,#baff45 28.9%,#c4ff3b 31.6%,#cdff32 34.2%,#d4ff2b 36.8%,#dcff23 39.5%,#e3ff1c 42.1%,#ebff14 44.7%,#f2ff0d 47.4%,#faff05 50.0%,#fffb00 52.6%,#fff200 55.3%,#ffe900 57.9%,#ffe000 60.5%,#ffd600 63.2%,#ffcd00 65.8%,#ffc500 68.4%,#ffbd00 71.1%,#ffb500 73.7%,#ffac00 76.3%,#ffa400 78.9%,#ff9c00 81.6%,#ff9300 84.2%,#ff8b00 86.8%,#ff8200 89.5%,#ff7900 92.1%,#ff7100 94.7%,#ff6800 97.4%,#ff6000 100.0%)"></i>
<i style="background:linear-gradient(90deg,#58ffa7 0.0%,#60ff9f 2.6%,#68ff97 5.3%,#70ff8f 7.9%,#77ff88 10.5%,#7fff80 13.2%,#87ff78 15.8%,#90ff6f 18.4%,#99ff66 21.1%,#a3ff5c 23.7%,#acff53 26.3%,#b6ff49 28.9%,#bfff40 31.6%,#c8ff37 34.2%,#d0ff2f 36.8%,#d8ff27 39.5%,#dfff20 42.1%,#e7ff18 44.7%,#eeff11 47.4%,#f6ff09 50.0%,#ffff00 52.6%,#fff500 55.3%,#ffec00 57.9%,#ffe300 60.5%,#ffda00 63.2%,#ffd100 65.8%,#ffc800 68.4%,#ffc000 71.1%,#ffb800 73.7%,#ffb000 76.3%,#ffa800 78.9%,#ff9f00 81.6%,#ff9700 84.2%,#ff8f00 86.8%,#ff8600 89.5%,#ff7e00 92.1%,#ff7500 94.7%,#ff6d00 97.4%,#ff6400 100.0%)"></i>
<i style="background:linear-gradient(90deg,#54ffab 0.0%,#5cffa3 2.6%,#64ff9b 5.3%,#6bff94 7.9%,#73ff8c 10.5%,#7bff84 13.2%,#83ff7c 15.8%,#8cff73 18.4%,#95ff6a 21.1%,#9eff61 23.7%,#a8ff57 26.3%,#b1ff4e 28.9%,#bbff44 31.6%,#c4ff3b 34.2%,#cbff34 36.8%,#d3ff2c 39.5%,#dbff24 42.1%,#e3ff1c 44.7%,#eaff15 47.4%,#f2ff0d 50.0%,#fcff03 52.6%,#fff900 55.3%,#fff000 57.9%,#ffe600 60.5%,#ffdd00 63.2%,#ffd400 65.8%,#ffcb00 68.4%,#ffc300 71.1%,#ffbb00 73.7%,#ffb300 76.3%,#ffab00 78.9%,#ffa300 81.6%,#ff9b00 84.2%,#ff9300 86.8%,#ff8a00 89.5%,#ff8200 92.1%,#ff7a00 94.7%,#ff7100 97.4%,#ff6900 100.0%)"></i>
<i style="background:linear-gradient(90deg,#50ffaf 0.0%,#57ffa8 2.6%,#5fffa0 5.3%,#67ff98 7.9%,#6fff90 10.5%,#77ff88 13.2%,#7eff81 15.8%,#87ff78 18.4%,#91ff6e 21.1%,#9aff65 23.7%,#a3ff5c 26.3%,#adff52 28.9%,#b6ff49 31.6%,#bfff40 34.2%,#c7ff38 36.8%,#cfff30 39.5%,#d7ff28 42.1%,#dfff20 44.7%,#e6ff19 47.4%,#efff10 50.0%,#f8ff07 52.6%,#fffd00 55.3%,#fff300 57.9%,#ffea00 60.5%,#ffe000 63.2%,#ffd700 65.8%,#ffcf00 68.4%,#ffc700 71.1%,#ffbf00 73.7%,#ffb700 76.3%,#ffaf00 78.9%,#ffa700 81.6%,#ff9f00 84.2%,#ff9700 86.8%,#ff8e00 89.5%,#ff8600 92.1%,#ff7e00 94.7%,#ff7600 97.4%,#ff6e00 100.0%)"></i>
<i style="background:linear-gradient(90deg,#4bffb4 0.0%,#53ffac 2.6%,#5bffa4 5.3%,#63ff9c 7.9%,#6bff94 10.5%,#72ff8d 13.2%,#7aff85 15.8%,#83ff7c 18.4%,#8cff73 21.1%,#96ff69 23.7%,#9fff60 26.3%,#a8ff57 28.9%,#b2ff4d 31.6%,#baff45 34.2%,#c2ff3d 36.8%,#caff35 39.5%,#d2ff2d 42.1%,#daff25 44.7%,#e2ff1d 47.4%,#ebff14 50.0%,#f4ff0b 52.6%,#feff01 55.3%,#fff700 57.9%,#ffed00 60.5%,#ffe400 63.2%,#ffda00 65.8%,#ffd200 68.4%,#ffca00 71.1%,#ffc200 73.7%,#ffba00 76.3%,#ffb300 78.9%,#ffab00 81.6%,#ffa300 84.2%,#ff9b00 86.8%,#ff9300 89.5%,#ff8a00 92.1%,#ff8200 94.7%,#ff7a00 97.4%,#ff7200 100.0%)"></i>
<i style="background:linear-gradient(90deg,#47ffb8 0.0%,#4fffb0 2.6%,#57ffa8 5.3%,#5effa1 7.9%,#66ff99 10.5%,#6eff91 13.2%,#76ff89 15.8%,#7fff80 18.4%,#88ff77 21.1%,#91ff6e 23.7%,#9bff64 26.3%,#a4ff5b 28.9%,#adff52 31.6%,#b6ff49 34.2%,#beff41 36.8%,#c6ff39 39.5%,#ceff31 42.1%,#d6ff29 44.7%,#deff21 47.4%,#e7ff18 50.0%,#f0ff0f 52.6%,#faff05 55.3%,#fffa00 57.9%,#fff100 60.5%,#ffe700 63.2%,#ffdd00 65.8%,#ffd500 68.4%,#ffcd00 71.1%,#ffc600 73.7%,#ffbe00 76.3%,#ffb600 78.9%,#ffae00 81.6%,#ffa700 84.2%,#ff9f00 86.8%,#ff9700 89.5%,#ff8f00 92.1%,#ff8700 94.7%,#ff7f00 97.4%,#ff7700 100.0%)"></i>
<i style="background:linear-gradient(90deg,#42ffbd 0.0%,#4affb5 2.6%,#52ffad 5.3%,#5affa5 7.9%,#62ff9d 10.5%,#6aff95 13.2%,#72ff8d 15.8%,#7bff84 18.4%,#84ff7b 21.1%,#8dff72 23.7%,#96ff69 26.3%,#9fff60 28.9%,#a8ff57 31.6%,#b1ff4e 34.2%,#b9ff46 36.8%,#c2ff3d 39.5%,#caff35 42.1%,#d2ff2d 44.7%,#daff25 47.4%,#e3ff1c 50.0%,#edff12 52.6%,#f7ff08 55.3%,#fffe00 57.9%,#fff400 60.5%,#ffea00 63.2%,#ffe000 65.8%,#ffd800 68.4%,#ffd100 71.1%,#ffc900 73.7%,#ffc100 76.3%,#ffba00 78.9%,#ffb200 81.6%,#ffaa00 84.2%,#ffa300 86.8%,#ff9b00 89.5%,#ff9300 92.1%,#ff8b00 94.7%,#ff8300 97.4%,#ff7b00 100.0%)"></i>
<i style="background:linear-gradient(90deg,#3effc1 0.0%,#46ffb9 2.6%,#4effb1 5.3%,#56ffa9 7.9%,#5effa1 10.5%,#66ff99 13.2%,#6eff91 15.8%,#77ff88 18.4%,#80ff7f 21.1%,#89ff76 23.7%,#92ff6d 26.3%,#9bff64 28.9%,#a4ff5b 31.6%,#acff53 34.2%,#b5ff4a 36.8%,#bdff42 39.5%,#c6ff39 42.1%,#ceff31 44.7%,#d6ff29 47.4%,#dfff20 50.0%,#e9ff16 52.6%,#f3ff0c 55.3%,#fdff02 57.9%,#fff700 60.5%,#ffed00 63.2%,#ffe300 65.8%,#ffdc00 68.4%,#ffd400 71.1%,#ffcd00 73.7%,#ffc500 76.3%,#ffbd00 78.9%,#ffb600 81.6%,#ffae00 84.2%,#ffa700 86.8%,#ff9f00 89.5%,#ff9700 92.1%,#ff8f00 94.7%,#ff8800 97.4%,#ff8000 100.0%)"></i>
<i style="background:linear-gradient(90deg,#39ffc6 0.0%,#41ffbe 2.6%,#4affb5 5.3%,#52ffad 7.9%,#5affa5 10.5%,#62ff9d 13.2%,#6aff95 15.8%,#72ff8d 18.4%,#7bff84 21.1%,#84ff7b 23.7%,#8dff72 26.3%,#96ff69 28.9%,#9fff60 31.6%,#a8ff57 34.2%,#b0ff4f 36.8%,#b9ff46 39.5%,#c1ff3e 42.1%,#caff35 44.7%,#d2ff2d 47.4%,#dbff24 50.0%,#e5ff1a 52.6%,#efff10 55.3%,#f9ff06 57.9%,#fffb00 60.5%,#fff100 63.2%,#ffe700 65.8%,#ffdf00 68.4%,#ffd700 71.1%,#ffd000 73.7%,#ffc900 76.3%,#ffc100 78.9%,#ffba00 81.6%,#ffb200 84.2%,#ffab00 86.8%,#ffa300 89.5%,#ff9b00 92.1%,#ff9400 94.7%,#ff8c00 97.4%,#ff8500 100.0%)"></i>
<i style="background:linear-gradient(90deg,#35ffca 0.0%,#3dffc2 2.6%,#45ffba 5.3%,#4dffb2 7.9%,#55ffaa 10.5%,#5effa1 13.2%,#66ff99 15.8%,#6eff91 18.4%,#77ff88 21.1%,#80ff7f 23.7%,#89ff76 26.3%,#91ff6e 28.9%,#9aff65 31.6%,#a3ff5c 34.2%,#acff53 36.8%,#b4ff4b 39.5%,#bdff42 42.1%,#c6ff39 44.7%,#ceff31 47.4%,#d7ff28 50.0%,#e1ff1e 52.6%,#ecff13 55.3%,#f6ff09 57.9%,#fffe00 60.5%,#fff400 63.2%,#ffea00 65.8%,#ffe200 68.4%,#ffdb00 71.1%,#ffd300 73.7%,#ffcc00 76.3%,#ffc500 78.9%,#ffbd00 81.6%,#ffb600 84.2%,#ffaf00 86.8%,#ffa700 89.5%,#ffa000 92.1%,#ff9800 94.7%,#ff9100 97.4%,#ff8900 100.0%)"></i>
<i style="background:linear-gradient(90deg,#31ffce 0.0%,#39ffc6 2.6%,#41ffbe 5.3%,#49ffb6 7.9%,#51ffae 10.5%,#59ffa6 13.2%,#61ff9e 15.8%,#6aff95 18.4%,#73ff8c 21.1%,#7bff84 23.7%,#84ff7b 26.3%,#8dff72 28.9%,#96ff69 31.6%,#9eff61 34.2%,#a7ff58 36.8%,#b0ff4f 39.5%,#b9ff46 42.1%,#c2ff3d 44.7%,#caff35 47.4%,#d3ff2c 50.0%,#deff21 52.6%,#e8ff17 55.3%,#f2ff0d 57.9%,#fdff02 60.5%,#fff700 63.2%,#ffed00 65.8%,#ffe500 68.4%,#ffde00 71.1%,#ffd700 73.7%,#ffd000 76.3%,#ffc800 78.9%,#ffc100 81.6%,#ffba00 84.2%,#ffb300 86.8%,#ffab00 89.5%,#ffa400 92.1%,#ff9d00 94.7%,#ff9500 97.4%,#ff8e00 100.0%)"></i>
<i style="background:linear-gradient(90deg,#2cffd3 0.0%,#34ffcb 2.6%,#3cffc3 5.3%,#45ffba 7.9%,#4dffb2 10.5%,#55ffaa 13.2%,#5dffa2 15.8%,#66ff99 18.4%,#6eff91 21.1%,#77ff88 23.7%,#80ff7f 26.3%,#88ff77 28.9%,#91ff6e 31.6%,#9aff65 34.2%,#a3ff5c 36.8%,#acff53 39.5%,#b5ff4a 42.1%,#beff41 44.7%,#c6ff39 47.4%,#d0ff2f 50.0%,#daff25 52.6%,#e4ff1b 55.3%,#efff10 57.9%,#f9ff06 60.5%,#fffa00 63.2%,#fff000 65.8%,#ffe800 68.4%,#ffe100 71.1%,#ffda00 73.7%,#ffd300 76.3%,#ffcc00 78.9%,#ffc500 81.6%,#ffbe00 84.2%,#ffb700 86.8%,#ffaf00 89.5%,#ffa800 92.1%,#ffa100 94.7%,#ff9a00 97.4%,#ff9300 100.0%)"></i>
<i style="background:linear-gradient(90deg,#28ffd7 0.0%,#30ffcf 2.6%,#38ffc7 5.3%,#40ffbf 7.9%,#49ffb6 10.5%,#51ffae 13.2%,#59ffa6 15.8%,#62ff9d 18.4%,#6aff95 21.1%,#73ff8c 23.7%,#7bff84 26.3%,#84ff7b 28.9%,#8cff73 31.6%,#95ff6a 34.2%,#9eff61 36.8%,#a7ff58 39.5%,#b0ff4f 42.1%,#b9ff46 44.7%,#c2ff3d 47.4%,#ccff33 50.0%,#d6ff29 52.6%,#e1ff1e 55.3%,#ebff14 57.9%,#f6ff09 60.5%,#fffe00 63.2%,#fff300 65.8%,#ffec00 68.4%,#ffe500 71.1%,#ffde00 73.7%,#ffd700 76.3%,#ffd000 78.9%,#ffc900 81.6%,#ffc200 84.2%,#ffbb00 86.8%,#ffb300 89.5%,#ffac00 92.1%,#ffa500 94.7%,#ff9e00 97.4%,#ff9700 100.0%)"></i>
<i style="background:linear-gradient(90deg,#23ffdc 0.0%,#2cffd3 2.6%,#34ffcb 5.3%,#3cffc3 7.9%,#44ffbb 10.5%,#4dffb2 13.2%,#55ffaa 15.8%,#5dffa2 18.4%,#66ff99 21.1%,#6eff91 23.7%,#77ff88 26.3%,#7fff80 28.9%,#88ff77 31.6%,#90ff6f 34.2%,#9aff65 36.8%,#a3ff5c 39.5%,#acff53 42.1%,#b5ff4a 44.7%,#beff41 47.4%,#c8ff37 50.0%,#d2ff2d 52.6%,#ddff22 55.3%,#e8ff17 57.9%,#f2ff0d 60.5%,#fdff02 63.2%,#fff600 65.8%,#ffef00 68.4%,#ffe800 71.1%,#ffe100 73.7%,#ffda00 76.3%,#ffd300 78.9%,#ffcc00 81.6%,#ffc500 84.2%,#ffbf00 86.8%,#ffb800 89.5%,#ffb100 92.1%,#ffaa00 94.7%,#ffa300 97.4%,#ff9c00 100.0%)"></i>
<i style="background:linear-gradient(90deg,#1fffe0 0.0%,#27ffd8 2.6%,#2fffd0 5.3%,#38ffc7 7.9%,#40ffbf 10.5%,#49ffb6 13.2%,#51ffae 15.8%,#59ffa6 18.4%,#62ff9d 21.1%,#6aff95 23.7%,#72ff8d 26.3%,#7bff84 28.9%,#83ff7c 31.6%,#8cff73 34.2%,#95ff6a 36.8%,#9eff61 39.5%,#a8ff57 42.1%,#b1ff4e 44.7%,#baff45 47.4%,#c4ff3b 50.0%,#cfff30 52.6%,#d9ff26 55.3%,#e4ff1b 57.9%,#efff10 60.5%,#faff05 63.2%,#fffa00 65.8%,#fff200 68.4%,#ffeb00 71.1%,#ffe500 73.7%,#ffde00 76.3%,#ffd700 78.9%,#ffd000 81.6%,#ffc900 84.2%,#ffc300 86.8%,#ffbc00 89.5%,#ffb500 92.1%,#ffae00 94.7%,#ffa700 97.4%,#ffa000 100.0%)"></i>
<i style="background:linear-gradient(90deg,#1affe5 0.0%,#22ffdd 2.6%,#2bffd4 5.3%,#33ffcc 7.9%,#3cffc3 10.5%,#44ffbb 13.2%,#4dffb2 15.8%,#55ffaa 18.4%,#5dffa2 21.1%,#66ff99 23.7%,#6eff91 26.3%,#76ff89 28.9%,#7fff80 31.6%,#87ff78 34.2%,#91ff6e 36.8%,#9aff65 39.5%,#a4ff5b 42.1%,#adff52 44.7%,#b7ff48 47.4%,#c0ff3f 50.0%,#cbff34 52.6%,#d6ff29 55.3%,#e1ff1e 57.9%,#ecff13 60.5%,#f7ff08 63.2%,#fffd00 65.8%,#fff500 68.4%,#ffef00 71.1%,#ffe800 73.7%,#ffe100 76.3%,#ffda00 78.9%,#ffd400 81.6%,#ffcd00 84.2%,#ffc600 86.8%,#ffc000 89.5%,#ffb900 92.1%,#ffb200 94.7%,#ffac00 97.4%,#ffa500 100.0%)"></i>
<i style="background:linear-gradient(90deg,#14ffeb 0.0%,#1cffe3 2.6%,#25ffda 5.3%,#2effd1 7.9%,#37ffc8 10.5%,#3fffc0 13.2%,#48ffb7 15.8%,#51ffae 18.4%,#59ffa6 21.1%,#62ff9d 23.7%,#6aff95 26.3%,#72ff8d 28.9%,#7bff84 31.6%,#84ff7b 34.2%,#8dff72 36.8%,#97ff68 39.5%,#a1ff5e 42.1%,#aaff55 44.7%,#b4ff4b 47.4%,#bdff42 50.0%,#c8ff37 52.6%,#d3ff2c 55.3%,#deff21 57.9%,#e9ff16 60.5%,#f4ff0b 63.2%,#ffff00 65.8%,#fff800 68.4%,#fff200 71.1%,#ffeb00 73.7%,#ffe400 76.3%,#ffde00 78.9%,#ffd700 81.6%,#ffd100 84.2%,#ffca00 86.8%,#ffc400 89.5%,#ffbd00 92.1%,#ffb700 94.7%,#ffb000 97.4%,#ffaa00 100.0%)"></i>
<i style="background:linear-gradient(90deg,#0efff1 0.0%,#17ffe8 2.6%,#1fffe0 5.3%,#28ffd7 7.9%,#31ffce 10.5%,#3affc5 13.2%,#43ffbc 15.8%,#4cffb3 18.4%,#55ffaa 21.1%,#5dffa2 23.7%,#66ff99 26.3%,#6fff90 28.9%,#77ff88 31.6%,#80ff7f 34.2%,#8aff75 36.8%,#94ff6b 39.5%,#9dff62 42.1%,#a7ff58 44.7%,#b1ff4e 47.4%,#baff45 50.0%,#c5ff3a 52.6%,#d0ff2f 55.3%,#dbff24 57.9%,#e6ff19 60.5%,#f1ff0e 63.2%,#fcff03 65.8%,#fffb00 68.4%,#fff400 71.1%,#ffee00 73.7%,#ffe700 76.3%,#ffe100 78.9%,#ffda00 81.6%,#ffd400 84.2%,#ffce00 86.8%,#ffc700 89.5%,#ffc100 92.1%,#ffbb00 94.7%,#ffb500 97.4%,#ffae00 100.0%)"></i>
<i style="background:linear-gradient(90deg,#07fff8 0.0%,#11ffee 2.6%,#1affe5 5.3%,#23ffdc 7.9%,#2cffd3 10.5%,#35ffca 13.2%,#3fffc0 15.8%,#48ffb7 18.4%,#50ffaf 21.1%,#59ffa6 23.7%,#62ff9d 26.3%,#6bff94 28.9%,#74ff8b 31.6%,#7dff82 34.2%,#87ff78 36.8%,#90ff6f 39.5%,#9aff65 42.1%,#a4ff5b 44.7%,#aeff51 47.4%,#b8ff47 50.0%,#c2ff3d 52.6%,#cdff32 55.3%,#d8ff27 57.9%,#e3ff1c 60.5%,#eeff11 63.2%,#f9ff06 65.8%,#fffe00 68.4%,#fff700 71.1%,#fff100 73.7%,#ffeb00 76.3%,#ffe400 78.9%,#ffde00 81.6%,#ffd700 84.2%,#ffd100 86.8%,#ffcb00 89.5%,#ffc500 92.1%,#ffbf00 94.7%,#ffb900 97.4%,#ffb300 100.0%)"></i>
<i style="background:linear-gradient(90deg,#01fffe 0.0%,#0bfff4 2.6%,#14ffeb 5.3%,#1effe1 7.9%,#27ffd8 10.5%,#30ffcf 13.2%,#3affc5 15.8%,#43ffbc 18.4%,#4cffb3 21.1%,#55ffaa 23.7%,#5effa1 26.3%,#67ff98 28.9%,#70ff8f 31.6%,#79ff86 34.2%,#83ff7c 36.8%,#8dff72 39.5%,#97ff68 42.1%,#a1ff5e 44.7%,#abff54 47.4%,#b5ff4a 50.0%,#c0ff3f 52.6%,#caff35 55.3%,#d5ff2a 57.9%,#e0ff1f 60.5%,#ebff14 63.2%,#f6ff09 65.8%,#fdff02 68.4%,#fffa00 71.1%,#fff400 73.7%,#ffee00 76.3%,#ffe700 78.9%,#ffe100 81.6%,#ffdb00 84.2%,#ffd500 86.8%,#ffcf00 89.5%,#ffc900 92.1%,#ffc300 94.7%,#ffbe00 97.4%,#ffb800 100.0%)"></i>
<i style="background:linear-gradient(90deg,#00faff 0.0%,#05fffa 2.6%,#0efff1 5.3%,#18ffe7 7.9%,#22ffdd 10.5%,#2cffd3 13.2%,#35ffca 15.8%,#3fffc0 18.4%,#48ffb7 21.1%,#51ffae 23.7%,#5affa5 26.3%,#63ff9c 28.9%,#6cff93 31.6%,#76ff89 34.2%,#80ff7f 36.8%,#8aff75 39.5%,#94ff6b 42.1%,#9eff61 44.7%,#a8ff57 47.4%,#b2ff4d 50.0%,#bdff42 52.6%,#c8ff37 55.3%,#d2ff2d 57.9%,#ddff22 60.5%,#e8ff17 63.2%,#f3ff0c 65.8%,#faff05 68.4%,#fffd00 71.1%,#fff700 73.7%,#fff100 76.3%,#ffeb00 78.9%,#ffe400 81.6%,#ffde00 84.2%,#ffd900 86.8%,#ffd300 89.5%,#ffcd00 92.1%,#ffc800 94.7%,#ffc200 97.4%,#ffbc00 100.0%)"></i>
<i style="background:linear-gradient(90deg,#00f4ff 0.0%,#00feff 2.6%,#09fff6 5.3%,#13ffec 7.9%,#1dffe2 10.5%,#27ffd8 13.2%,#31ffce 15.8%,#3affc5 18.4%,#43ffbc 21.1%,#4dffb2 23.7%,#56ffa9 26.3%,#5fffa0 28.9%,#68ff97 31.6%,#72ff8d 34.2%,#7cff83 36.8%,#86ff79 39.5%,#90ff6f 42.1%,#9bff64 44.7%,#a5ff5a 47.4%,#afff50 50.0%,#baff45 52.6%,#c5ff3a 55.3%,#d0ff2f 57.9%,#dbff24 60.5%,#e5ff1a 63.2%,#f0ff0f 65.8%,#f7ff08 68.4%,#feff01 71.1%,#fffa00 73.7%,#fff400 76.3%,#ffee00 78.9%,#ffe800 81.6%,#ffe200 84.2%,#ffdc00 86.8%,#ffd700 89.5%,#ffd100 92.1%,#ffcc00 94.7%,#ffc700 97.4%,#ffc100 100.0%)"></i>
<i style="background:linear-gradient(90deg,#00eeff 0.0%,#00f8ff 2.6%,#03fffc 5.3%,#0dfff2 7.9%,#18ffe7 10.5%,#22ffdd 13.2%,#2cffd3 15.8%,#36ffc9 18.4%,#3fffc0 21.1%,#48ffb7 23.7%,#52ffad 26.3%,#5bffa4 28.9%,#65ff9a 31.6%,#6fff90 34.2%,#79ff86 36.8%,#83ff7c 39.5%,#8dff72 42.1%,#97ff68 44.7%,#a2ff5d 47.4%,#acff53 50.0%,#b7ff48 52.6%,#c2ff3d 55.3%,#cdff32 57.9%,#d8ff27 60.5%,#e3ff1c 63.2%,#edff12 65.8%,#f4ff0b 68.4%,#fbff04 71.1%,#fffd00 73.7%,#fff700 76.3%,#fff100 78.9%,#ffeb00 81.6%,#ffe500 84.2%,#ffe000 86.8%,#ffdb00 89.5%,#ffd500 92.1%,#ffd000 94.7%,#ffcb00 97.4%,#ffc600 100.0%)"></i>
<i style="background:linear-gradient(90deg,#00e8ff 0.0%,#00f2ff 2.6%,#00fcff 5.3%,#08fff7 7.9%,#12ffed 10.5%,#1dffe2 13.2%,#27ffd8 15.8%,#31ffce 18.4%,#3bffc4 21.1%,#44ffbb 23.7%,#4effb1 26.3%,#57ffa8 28.9%,#61ff9e 31.6%,#6bff94 34.2%,#75ff8a 36.8%,#80ff7f 39.5%,#8aff75 42.1%,#94ff6b 44.7%,#9fff60 47.4%,#a9ff56 50.0%,#b4ff4b 52.6%,#bfff40 55.3%,#caff35 57.9%,#d5ff2a 60.5%,#e0ff1f 63.2%,#ebff14 65.8%,#f2ff0d 68.4%,#f8ff07 71.1%,#feff01 73.7%,#fffa00 76.3%,#fff400 78.9%,#ffee00 81.6%,#ffe900 84.2%,#ffe400 86.8%,#ffdf00 89.5%,#ffd900 92.1%,#ffd400 94.7%,#ffcf00 97.4%,#ffca00 100.0%)"></i>
<i style="background:linear-gradient(90deg,#00e1ff 0.0%,#00ecff 2.6%,#00f7ff 5.3%,#02fffd 7.9%,#0dfff2 10.5%,#18ffe7 13.2%,#23ffdc 15.8%,#2dffd2 18.4%,#36ffc9 21.1%,#40ffbf 23.7%,#4affb5 26.3%,#54ffab 28.9%,#5dffa2 31.6%,#67ff98 34.2%,#72ff8d 36.8%,#7cff83 39.5%,#87ff78 42.1%,#91ff6e 44.7%,#9cff63 47.4%,#a6ff59 50.0%,#b1ff4e 52.6%,#bcff43 55.3%,#c7ff38 57.9%,#d2ff2d 60.5%,#ddff22 63.2%,#e8ff17 65.8%,#efff10 68.4%,#f5ff0a 71.1%,#fbff04 73.7%,#fffd00 76.3%,#fff700 78.9%,#fff100 81.6%,#ffec00 84.2%,#ffe700 86.8%,#ffe200 89.5%,#ffde00 92.1%,#ffd900 94.7%,#ffd400 97.4%,#ffcf00 100.0%)"></i>
<i style="background:linear-gradient(90deg,#00dbff 0.0%,#00e6ff 2.6%,#00f1ff 5.3%,#00fcff 7.9%,#08fff7 10.5%,#13ffec 13.2%,#1effe1 15.8%,#28ffd7 18.4%,#32ffcd 21.1%,#3cffc3 23.7%,#46ffb9 26.3%,#50ffaf 28.9%,#5affa5 31.6%,#64ff9b 34.2%,#6eff91 36.8%,#79ff86 39.5%,#84ff7b 42.1%,#8eff71 44.7%,#99ff66 47.4%,#a3ff5c 50.0%,#aeff51 52.6%,#b9ff46 55.3%,#c4ff3b 57.9%,#cfff30 60.5%,#daff25 63.2%,#e5ff1a 65.8%,#ecff13 68.4%,#f2ff0d 71.1%,#f8ff07 73.7%,#fdff02 76.3%,#fffb00 78.9%,#fff500 81.6%,#ffef00 84.2%,#ffeb00 86.8%,#ffe600 89.5%,#ffe200 92.1%,#ffdd00 94.7%,#ffd800 97.4%,#ffd400 100.0%)"></i>
<i style="background:linear-gradient(90deg,#00d5ff 0.0%,#00e0ff 2.6%,#00ebff 5.3%,#00f7ff 7.9%,#03fffc 10.5%,#0efff1 13.2%,#19ffe6 15.8%,#24ffdb 18.4%,#2effd1 21.1%,#38ffc7 23.7%,#42ffbd 26.3%,#4cffb3 28.9%,#56ffa9 31.6%,#60ff9f 34.2%,#6bff94 36.8%,#76ff89 39.5%,#80ff7f 42.1%,#8bff74 44.7%,#96ff69 47.4%,#a0ff5f 50.0%,#abff54 52.6%,#b6ff49 55.3%,#c1ff3e 57.9%,#ccff33 60.5%,#d7ff28 63.2%,#e2ff1d 65.8%,#e9ff16 68.4%,#efff10 71.1%,#f5ff0a 73.7%,#faff05 76.3%,#fffe00 78.9%,#fff800 81.6%,#fff300 84.2%,#ffee00 86.8%,#ffea00 89.5%,#ffe600 92.1%,#ffe100 94.7%,#ffdd00 97.4%,#ffd800 100.0%)"></i>
<i style="background:linear-gradient(90deg,#00cfff 0.0%,#00daff 2.6%,#00e6ff 5.3%,#00f1ff 7.9%,#00fdff 10.5%,#09fff6 13.2%,#15ffea 15.8%,#1fffe0 18.4%,#29ffd6 21.1%,#34ffcb 23.7%,#3effc1 26.3%,#48ffb7 28.9%,#52ffad 31.6%,#5dffa2 34.2%,#68ff97 36.8%,#72ff8d 39.5%,#7dff82 42.1%,#88ff77 44.7%,#93ff6c 47.4%,#9eff61 50.0%,#a9ff56 52.6%,#b3ff4c 55.3%,#beff41 57.9%,#c9ff36 60.5%,#d4ff2b 63.2%,#dfff20 65.8%,#e6ff19 68.4%,#ecff13 71.1%,#f1ff0e 73.7%,#f7ff08 76.3%,#fdff02 78.9%,#fffb00 81.6%,#fff600 84.2%,#fff200 86.8%,#ffee00 89.5%,#ffea00 92.1%,#ffe500 94.7%,#ffe100 97.4%,#ffdd00 100.0%)"></i>
<i style="background:linear-gradient(90deg,#00c9ff 0.0%,#00d4ff 2.6%,#00e0ff 5.3%,#00ecff 7.9%,#00f8ff 10.5%,#04fffb 13.2%,#10ffef 15.8%,#1bffe4 18.4%,#25ffda 21.1%,#2fffd0 23.7%,#3affc5 26.3%,#44ffbb 28.9%,#4fffb0 31.6%,#59ffa6 34.2%,#64ff9b 36.8%,#6fff90 39.5%,#7aff85 42.1%,#85ff7a 44.7%,#90ff6f 47.4%,#9bff64 50.0%,#a6ff59 52.6%,#b1ff4e 55.3%,#bcff43 57.9%,#c6ff39 60.5%,#d1ff2e 63.2%,#dcff23 65.8%,#e3ff1c 68.4%,#e9ff16 71.1%,#eeff11 73.7%,#f4ff0b 76.3%,#faff05 78.9%,#ffff00 81.6%,#fffa00 84.2%,#fff600 86.8%,#fff200 89.5%,#ffee00 92.1%,#ffea00 94.7%,#ffe600 97.4%,#ffe200 100.0%)"></i>
<i style="background:linear-gradient(90deg,#00c3ff 0.0%,#00cfff 2.6%,#00daff 5.3%,#00e6ff 7.9%,#00f2ff 10.5%,#00feff 13.2%,#0bfff4 15.8%,#16ffe9 18.4%,#21ffde 21.1%,#2bffd4 23.7%,#36ffc9 26.3%,#40ffbf 28.9%,#4bffb4 31.6%,#56ffa9 34.2%,#61ff9e 36.8%,#6cff93 39.5%,#77ff88 42.1%,#82ff7d 44.7%,#8dff72 47.4%,#98ff67 50.0%,#a3ff5c 52.6%,#aeff51 55.3%,#b9ff46 57.9%,#c4ff3b 60.5%,#cfff30 63.2%,#daff25 65.8%,#e0ff1f 68.4%,#e6ff19 71.1%,#ebff14 73.7%,#f1ff0e 76.3%,#f7ff08 78.9%,#fcff03 81.6%,#fffd00 84.2%,#fff900 86.8%,#fff600 89.5%,#fff200 92.1%,#ffee00 94.7%,#ffea00 97.4%,#ffe600 100.0%)"></i>
<i style="background:linear-gradient(90deg,#00bcff 0.0%,#00c9ff 2.6%,#00d5ff 5.3%,#00e1ff 7.9%,#00edff 10.5%,#00f9ff 13.2%,#07fff8 15.8%,#12ffed 18.4%,#1cffe3 21.1%,#27ffd8 23.7%,#32ffcd 26.3%,#3cffc3 28.9%,#47ffb8 31.6%,#52ffad 34.2%,#5dffa2 36.8%,#68ff97 39.5%,#73ff8c 42.1%,#7fff80 44.7%,#8aff75 47.4%,#95ff6a 50.0%,#a0ff5f 52.6%,#abff54 55.3%,#b6ff49 57.9%,#c1ff3e 60.5%,#ccff33 63.2%,#d7ff28 65.8%,#ddff22 68.4%,#e3ff1c 71.1%,#e8ff17 73.7%,#eeff11 76.3%,#f3ff0c 78.9%,#f9ff06 81.6%,#fdff02 84.2%,#fffd00 86.8%,#fff900 89.5%,#fff600 92.1%,#fff200 94.7%,#ffef00 97.4%,#ffeb00 100.0%)"></i>
<i style="background:linear-gradient(90deg,#00b6ff 0.0%,#00c3ff 2.6%,#00cfff 5.3%,#00dcff 7.9%,#00e8ff 10.5%,#00f4ff 13.2%,#02fffd 15.8%,#0dfff2 18.4%,#18ffe7 21.1%,#23ffdc 23.7%,#2effd1 26.3%,#39ffc6 28.9%,#44ffbb 31.6%,#4fffb0 34.2%,#5affa5 36.8%,#65ff9a 39.5%,#70ff8f 42.1%,#7cff83 44.7%,#87ff78 47.4%,#92ff6d 50.0%,#9dff62 52.6%,#a8ff57 55.3%,#b3ff4c 57.9%,#beff41 60.5%,#c9ff36 63.2%,#d4ff2b 65.8%,#daff25 68.4%,#e0ff1f 71.1%,#e5ff1a 73.7%,#ebff14 76.3%,#f0ff0f 78.9%,#f6ff09 81.6%,#faff05 84.2%,#fdff02 86.8%,#fffd00 89.5%,#fffa00 92.1%,#fff700 94.7%,#fff300 97.4%,#fff000 100.0%)"></i>
<i style="background:linear-gradient(90deg,#00b0ff 0.0%,#00bdff 2.6%,#00c9ff 5.3%,#00d6ff 7.9%,#00e3ff 10.5%,#00efff 13.2%,#00fcff 15.8%,#09fff6 18.4%,#14ffeb 21.1%,#1fffe0 23.7%,#2affd5 26.3%,#35ffca 28.9%,#40ffbf 31.6%,#4bffb4 34.2%,#56ffa9 36.8%,#62ff9d 39.5%,#6dff92 42.1%,#78ff87 44.7%,#84ff7b 47.4%,#8fff70 50.0%,#9aff65 52.6%,#a5ff5a 55.3%,#b0ff4f 57.9%,#bbff44 60.5%,#c6ff39 63.2%,#d1ff2e 65.8%,#d7ff28 68.4%,#ddff22 71.1%,#e2ff1d 73.7%,#e8ff17 76.3%,#edff12 78.9%,#f2ff0d 81.6%,#f7ff08 84.2%,#faff05 86.8%,#fdff02 89.5%,#fffe00 92.1%,#fffb00 94.7%,#fff800 97.4%,#fff400 100.0%)"></i>
<i style="background:linear-gradient(90deg,#00aaff 0.0%,#00b7ff 2.6%,#00c4ff 5.3%,#00d1ff 7.9%,#00deff 10.5%,#00ebff 13.2%,#00f7ff 15.8%,#04fffb 18.4%,#0ffff0 21.1%,#1bffe4 23.7%,#26ffd9 26.3%,#31ffce 28.9%,#3cffc3 31.6%,#47ffb8 34.2%,#53ffac 36.8%,#5effa1 39.5%,#6aff95 42.1%,#75ff8a 44.7%,#81ff7e 47.4%,#8cff73 50.0%,#97ff68 52.6%,#a2ff5d 55.3%,#adff52 57.9%,#b8ff47 60.5%,#c3ff3c 63.2%,#ceff31 65.8%,#d4ff2b 68.4%,#daff25 71.1%,#dfff20 73.7%,#e4ff1b 76.3%,#eaff15 78.9%,#efff10 81.6%,#f3ff0c 84.2%,#f6ff09 86.8%,#f9ff06 89.5%,#fcff03 92.1%,#ffff00 94.7%,#fffc00 97.4%,#fff900 100.0%)"></i>
<i style="background:linear-gradient(90deg,#00a4ff 0.0%,#00b1ff 2.6%,#00beff 5.3%,#00cbff 7.9%,#00d8ff 10.5%,#00e6ff 13.2%,#00f3ff 15.8%,#00ffff 18.4%,#0bfff4 21.1%,#16ffe9 23.7%,#22ffdd 26.3%,#2dffd2 28.9%,#38ffc7 31.6%,#44ffbb 34.2%,#4fffb0 36.8%,#5bffa4 39.5%,#67ff98 42.1%,#72ff8d 44.7%,#7eff81 47.4%,#89ff76 50.0%,#94ff6b 52.6%,#9fff60 55.3%,#aaff55 57.9%,#b5ff4a 60.5%,#c0ff3f 63.2%,#cbff34 65.8%,#d2ff2d 68.4%,#d7ff28 71.1%,#dcff23 73.7%,#e1ff1e 76.3%,#e7ff18 78.9%,#ecff13 81.6%,#f0ff0f 84.2%,#f2ff0d 86.8%,#f5ff0a 89.5%,#f8ff07 92.1%,#fbff04 94.7%,#fdff02 97.4%,#fffe00 100.0%)"></i>
<i style="background:linear-gradient(90deg,#009eff 0.0%,#00abff 2.6%,#00b8ff 5.3%,#00c6ff 7.9%,#00d3ff 10.5%,#00e1ff 13.2%,#00eeff 15.8%,#00faff 18.4%,#07fff8 21.1%,#12ffed 23.7%,#1effe1 26.3%,#29ffd6 28.9%,#35ffca 31.6%,#40ffbf 34.2%,#4cffb3 36.8%,#58ffa7 39.5%,#63ff9c 42.1%,#6fff90 44.7%,#7bff84 47.4%,#86ff79 50.0%,#91ff6e 52.6%,#9cff63 55.3%,#a7ff58 57.9%,#b2ff4d 60.5%,#bdff42 63.2%,#c8ff37 65.8%,#cfff30 68.4%,#d4ff2b 71.1%,#d9ff26 73.7%,#deff21 76.3%,#e3ff1c 78.9%,#e8ff17 81.6%,#ecff13 84.2%,#efff10 86.8%,#f1ff0e 89.5%,#f4ff0b 92.1%,#f6ff09 94.7%,#f9ff06 97.4%,#fcff03 100.0%)"></i>
<i style="background:linear-gradient(90deg,#0097ff 0.0%,#00a5ff 2.6%,#00b3ff 5.3%,#00c0ff 7.9%,#00ceff 10.5%,#00dcff 13.2%,#00e9ff 15.8%,#00f6ff 18.4%,#02fffd 21.1%,#0efff1 23.7%,#1affe5 26.3%,#25ffda 28.9%,#31ffce 31.6%,#3dffc2 34.2%,#49ffb6 36.8%,#54ffab 39.5%,#60ff9f 42.1%,#6cff93 44.7%,#78ff87 47.4%,#84ff7b 50.0%,#8fff70 52.6%,#9aff65 55.3%,#a5ff5a 57.9%,#b0ff4f 60.5%,#bbff44 63.2%,#c6ff39 65.8%,#ccff33 68.4%,#d1ff2e 71.1%,#d6ff29 73.7%,#dbff24 76.3%,#e0ff1f 78.9%,#e5ff1a 81.6%,#e9ff16 84.2%,#ebff14 86.8%,#edff12 89.5%,#f0ff0f 92.1%,#f2ff0d 94.7%,#f4ff0b 97.4%,#f7ff08 100.0%)"></i>
<i style="background:linear-gradient(90deg,#0090ff 0.0%,#009eff 2.6%,#00acff 5.3%,#00baff 7.9%,#00c8ff 10.5%,#00d6ff 13.2%,#00e4ff 15.8%,#00f1ff 18.4%,#00fdff 21.1%,#0afff5 23.7%,#16ffe9 26.3%,#22ffdd 28.9%,#2effd1 31.6%,#3affc5 34.2%,#46ffb9 36.8%,#52ffad 39.5%,#5dffa2 42.1%,#69ff96 44.7%,#75ff8a 47.4%,#81ff7e 50.0%,#8cff73 52.6%,#97ff68 55.3%,#a2ff5d 57.9%,#adff52 60.5%,#b8ff47 63.2%,#c3ff3c 65.8%,#c9ff36 68.4%,#ceff31 71.1%,#d3ff2c 73.7%,#d8ff27 76.3%,#ddff22 78.9%,#e1ff1e 81.6%,#e5ff1a 84.2%,#e7ff18 86.8%,#e9ff16 89.5%,#ebff14 92.1%,#edff12 94.7%,#f0ff0f 97.4%,#f2ff0d 100.0%)"></i>
<i style="background:linear-gradient(90deg,#008aff 0.0%,#0098ff 2.6%,#00a6ff 5.3%,#00b4ff 7.9%,#00c2ff 10.5%,#00d1ff 13.2%,#00dfff 15.8%,#00ecff 18.4%,#00f8ff 21.1%,#06fff9 23.7%,#12ffed 26.3%,#1effe1 28.9%,#2bffd4 31.6%,#37ffc8 34.2%,#43ffbc 36.8%,#4fffb0 39.5%,#5affa5 42.1%,#66ff99 44.7%,#72ff8d 47.4%,#7eff81 50.0%,#89ff76 52.6%,#94ff6b 55.3%,#a0ff5f 57.9%,#abff54 60.5%,#b6ff49 63.2%,#c1ff3e 65.8%,#c7ff38 68.4%,#cbff34 71.1%,#d0ff2f 73.7%,#d5ff2a 76.3%,#d9ff26 78.9%,#deff21 81.6%,#e1ff1e 84.2%,#e3ff1c 86.8%,#e5ff1a 89.5%,#e7ff18 92.1%,#e9ff16 94.7%,#ebff14 97.4%,#edff12 100.0%)"></i>
<i style="background:linear-gradient(90deg,#0083ff 0.0%,#0091ff 2.6%,#00a0ff 5.3%,#00aeff 7.9%,#00bdff 10.5%,#00cbff 13.2%,#00daff 15.8%,#00e7ff 18.4%,#00f4ff 21.1%,#01fffe 23.7%,#0efff1 26.3%,#1bffe4 28.9%,#27ffd8 31.6%,#34ffcb 34.2%,#40ffbf 36.8%,#4cffb3 39.5%,#58ffa7 42.1%,#64ff9b 44.7%,#6fff90 47.4%,#7bff84 50.0%,#87ff78 52.6%,#92ff6d 55.3%,#9dff62 57.9%,#a8ff57 60.5%,#b4ff4b 63.2%,#bfff40 65.8%,#c4ff3b 68.4%,#c9ff36 71.1%,#cdff32 73.7%,#d1ff2e 76.3%,#d6ff29 78.9%,#daff25 81.6%,#ddff22 84.2%,#dfff20 86.8%,#e1ff1e 89.5%,#e2ff1d 92.1%,#e4ff1b 94.7%,#e6ff19 97.4%,#e8ff17 100.0%)"></i>
<i style="background:linear-gradient(90deg,#007cff 0.0%,#008aff 2.6%,#0099ff 5.3%,#00a8ff 7.9%,#00b7ff 10.5%,#00c5ff 13.2%,#00d4ff 15.8%,#00e2ff 18.4%,#00efff 21.1%,#00fcff 23.7%,#0afff5 26.3%,#17ffe8 28.9%,#24ffdb 31.6%,#31ffce 34.2%,#3dffc2 36.8%,#49ffb6 39.5%,#55ffaa 42.1%,#61ff9e 44.7%,#6dff92 47.4%,#79ff86 50.0%,#84ff7b 52.6%,#8fff70 55.3%,#9bff64 57.9%,#a6ff59 60.5%,#b1ff4e 63.2%,#bcff43 65.8%,#c2ff3d 68.4%,#c6ff39 71.1%,#caff35 73.7%,#ceff31 76.3%,#d2ff2d 78.9%,#d6ff29 81.6%,#d9ff26 84.2%,#dbff24 86.8%,#dcff23 89.5%,#deff21 92.1%,#dfff20 94.7%,#e1ff1e 97.4%,#e2ff1d 100.0%)"></i>
<i style="background:linear-gradient(90deg,#0075ff 0.0%,#0084ff 2.6%,#0093ff 5.3%,#00a2ff 7.9%,#00b1ff 10.5%,#00c0ff 13.2%,#00cfff 15.8%,#00ddff 18.4%,#00eaff 21.1%,#00f8ff 23.7%,#06fff9 26.3%,#14ffeb 28.9%,#21ffde 31.6%,#2effd1 34.2%,#3affc5 36.8%,#46ffb9 39.5%,#52ffad 42.1%,#5effa1 44.7%,#6aff95 47.4%,#76ff89 50.0%,#81ff7e 52.6%,#8dff72 55.3%,#98ff67 57.9%,#a3ff5c 60.5%,#afff50 63.2%,#baff45 65.8%,#bfff40 68.4%,#c3ff3c 71.1%,#c7ff38 73.7%,#cbff34 76.3%,#cfff30 78.9%,#d3ff2c 81.6%,#d5ff2a 84.2%,#d7ff28 86.8%,#d8ff27 89.5%,#d9ff26 92.1%,#dbff24 94.7%,#dcff23 97.4%,#ddff22 100.0%)"></i>
<i style="background:linear-gradient(90deg,#006eff 0.0%,#007dff 2.6%,#008cff 5.3%,#009cff 7.9%,#00abff 10.5%,#00baff 13.2%,#00caff 15.8%,#00d8ff 18.4%,#00e6ff 21.1%,#00f3ff 23.7%,#02fffd 26.3%,#10ffef 28.9%,#1effe1 31.6%,#2bffd4 34.2%,#37ffc8 36.8%,#43ffbc 39.5%,#4fffb0 42.1%,#5bffa4 44.7%,#67ff98 47.4%,#73ff8c 50.0%,#7fff80 52.6%,#8aff75 55.3%,#95ff6a 57.9%,#a1ff5e 60.5%,#acff53 63.2%,#b8ff47 65.8%,#bdff42 68.4%,#c1ff3e 71.1%,#c4ff3b 73.7%,#c8ff37 76.3%,#cbff34 78.9%,#cfff30 81.6%,#d1ff2e 84.2%,#d3ff2c 86.8%,#d4ff2b 89.5%,#d5ff2a 92.1%,#d6ff29 94.7%,#d7ff28 97.4%,#d8ff27 100.0%)"></i>
<i style="background:linear-gradient(90deg,#0067ff 0.0%,#0076ff 2.6%,#0086ff 5.3%,#0096ff 7.9%,#00a5ff 10.5%,#00b5ff 13.2%,#00c4ff 15.8%,#00d3ff 18.4%,#00e1ff 21.1%,#00efff 23.7%,#00fdff 26.3%,#0dfff2 28.9%,#1bffe4 31.6%,#28ffd7 34.2%,#34ffcb 36.8%,#40ffbf 39.5%,#4cffb3 42.1%,#58ffa7 44.7%,#64ff9b 47.4%,#70ff8f 50.0%,#7cff83 52.6%,#87ff78 55.3%,#93ff6c 57.9%,#9fff60 60.5%,#aaff55 63.2%,#b6ff49 65.8%,#baff45 68.4%,#beff41 71.1%,#c1ff3e 73.7%,#c5ff3a 76.3%,#c8ff37 78.9%,#cbff34 81.6%,#cdff32 84.2%,#ceff31 86.8%,#cfff30 89.5%,#d0ff2f 92.1%,#d1ff2e 94.7%,#d2ff2d 97.4%,#d3ff2c 100.0%)"></i>
<i style="background:linear-gradient(90deg,#0060ff 0.0%,#0070ff 2.6%,#0080ff 5.3%,#008fff 7.9%,#009fff 10.5%,#00afff 13.2%,#00bfff 15.8%,#00ceff 18.4%,#00dcff 21.1%,#00ebff 23.7%,#00f9ff 26.3%,#09fff6 28.9%,#17ffe8 31.6%,#25ffda 34.2%,#31ffce 36.8%,#3dffc2 39.5%,#49ffb6 42.1%,#55ffaa 44.7%,#62ff9d 47.4%,#6eff91 50.0%,#79ff86 52.6%,#85ff7a 55.3%,#90ff6f 57.9%,#9cff63 60.5%,#a8ff57 63.2%,#b3ff4c 65.8%,#b8ff47 68.4%,#bbff44 71.1%,#beff41 73.7%,#c1ff3e 76.3%,#c5ff3a 78.9%,#c8ff37 81.6%,#caff35 84.2%,#caff35 86.8%,#cbff34 89.5%,#ccff33 92.1%,#cdff32 94.7%,#cdff32 97.4%,#ceff31 100.0%)"></i>
<i style="background:linear-gradient(90deg,#0059ff 0.0%,#0069ff 2.6%,#0079ff 5.3%,#0089ff 7.9%,#0099ff 10.5%,#00aaff 13.2%,#00baff 15.8%,#00c9ff 18.4%,#00d8ff 21.1%,#00e7ff 23.7%,#00f6ff 26.3%,#05fffa 28.9%,#14ffeb 31.6%,#22ffdd 34.2%,#2effd1 36.8%,#3affc5 39.5%,#46ffb9 42.1%,#53ffac 44.7%,#5fffa0 47.4%,#6bff94 50.0%,#77ff88 52.6%,#82ff7d 55.3%,#8eff71 57.9%,#9aff65 60.5%,#a5ff5a 63.2%,#b1ff4e 65.8%,#b5ff4a 68.4%,#b8ff47 71.1%,#bbff44 73.7%,#beff41 76.3%,#c1ff3e 78.9%,#c4ff3b 81.6%,#c6ff39 84.2%,#c6ff39 86.8%,#c7ff38 89.5%,#c7ff38 92.1%,#c8ff37 94.7%,#c8ff37 97.4%,#c9ff36 100.0%)"></i>
<i style="background:linear-gradient(90deg,#0052ff 0.0%,#0062ff 2.6%,#0073ff 5.3%,#0083ff 7.9%,#0094ff 10.5%,#00a4ff 13.2%,#00b4ff 15.8%,#00c4ff 18.4%,#00d3ff 21.1%,#00e2ff 23.7%,#00f2ff 26.3%,#02fffd 28.9%,#11ffee 31.6%,#1fffe0 34.2%,#2bffd4 36.8%,#37ffc8 39.5%,#44ffbb 42.1%,#50ffaf 44.7%,#5cffa3 47.4%,#68ff97 50.0%,#74ff8b 52.6%,#80ff7f 55.3%,#8bff74 57.9%,#97ff68 60.5%,#a3ff5c 63.2%,#afff50 65.8%,#b3ff4c 68.4%,#b6ff49 71.1%,#b8ff47 73.7%,#bbff44 76.3%,#beff41 78.9%,#c0ff3f 81.6%,#c2ff3d 84.2%,#c2ff3d 86.8%,#c2ff3d 89.5%,#c3ff3c 92.1%,#c3ff3c 94.7%,#c4ff3b 97.4%,#c4ff3b 100.0%)"></i>
<i style="background:linear-gradient(90deg,#004bff 0.0%,#005cff 2.6%,#006cff 5.3%,#007dff 7.9%,#008eff 10.5%,#009eff 13.2%,#00afff 15.8%,#00bfff 18.4%,#00cfff 21.1%,#00deff 23.7%,#00eeff 26.3%,#00fdff 28.9%,#0efff1 31.6%,#1cffe3 34.2%,#28ffd7 36.8%,#35ffca 39.5%,#41ffbe 42.1%,#4dffb2 44.7%,#59ffa6 47.4%,#65ff9a 50.0%,#71ff8e 52.6%,#7dff82 55.3%,#89ff76 57.9%,#95ff6a 60.5%,#a1ff5e 63.2%,#acff53 65.8%,#b1ff4e 68.4%,#b3ff4c 71.1%,#b5ff4a 73.7%,#b8ff47 76.3%,#baff45 78.9%,#bdff42 81.6%,#beff41 84.2%,#beff41 86.8%,#beff41 89.5%,#beff41 92.1%,#bfff40 94.7%,#bfff40 97.4%,#bfff40 100.0%)"></i>
<i style="background:linear-gradient(90deg,#0044ff 0.0%,#0055ff 2.6%,#0066ff 5.3%,#0077ff 7.9%,#0088ff 10.5%,#0099ff 13.2%,#00aaff 15.8%,#00baff 18.4%,#00caff 21.1%,#00daff 23.7%,#00eaff 26.3%,#00faff 28.9%,#0bfff4 31.6%,#19ffe6 34.2%,#25ffda 36.8%,#32ffcd 39.5%,#3effc1 42.1%,#4affb5 44.7%,#56ffa9 47.4%,#63ff9c 50.0%,#6fff90 52.6%,#7aff85 55.3%,#86ff79 57.9%,#92ff6d 60.5%,#9eff61 63.2%,#aaff55 65.8%,#aeff51 68.4%,#b0ff4f 71.1%,#b2ff4d 73.7%,#b5ff4a 76.3%,#b7ff48 78.9%,#b9ff46 81.6%,#baff45 84.2%,#baff45 86.8%,#baff45 89.5%,#baff45 92.1%,#baff45 94.7%,#baff45 97.4%,#baff45 100.0%)"></i>
<i style="background:linear-gradient(90deg,#003dff 0.0%,#004eff 2.6%,#0060ff 5.3%,#0071ff 7.9%,#0082ff 10.5%,#0093ff 13.2%,#00a5ff 15.8%,#00b5ff 18.4%,#00c5ff 21.1%,#00d6ff 23.7%,#00e6ff 26.3%,#00f6ff 28.9%,#07fff8 31.6%,#16ffe9 34.2%,#22ffdd 36.8%,#2fffd0 39.5%,#3bffc4 42.1%,#47ffb8 44.7%,#54ffab 47.4%,#60ff9f 50.0%,#6cff93 52.6%,#78ff87 55.3%,#84ff7b 57.9%,#90ff6f 60.5%,#9cff63 63.2%,#a8ff57 65.8%,#acff53 68.4%,#aeff51 71.1%,#afff50 73.7%,#b1ff4e 76.3%,#b3ff4c 78.9%,#b5ff4a 81.6%,#b6ff49 84.2%,#b6ff49 86.8%,#b6ff49 89.5%,#b5ff4a 92.1%,#b5ff4a 94.7%,#b5ff4a 97.4%,#b5ff4a 100.0%)"></i>
<i style="background:linear-gradient(90deg,#0036ff 0.0%,#0048ff 2.6%,#0059ff 5.3%,#006bff 7.9%,#007cff 10.5%,#008eff 13.2%,#009fff 15.8%,#00b0ff 18.4%,#00c1ff 21.1%,#00d1ff 23.7%,#00e2ff 26.3%,#00f3ff 28.9%,#04fffb 31.6%,#13ffec 34.2%,#1fffe0 36.8%,#2cffd3 39.5%,#38ffc7 42.1%,#45ffba 44.7%,#51ffae 47.4%,#5dffa2 50.0%,#69ff96 52.6%,#75ff8a 55.3%,#81ff7e 57.9%,#8dff72 60.5%,#99ff66 63.2%,#a6ff59 65.8%,#a9ff56 68.4%,#abff54 71.1%,#acff53 73.7%,#aeff51 76.3%,#b0ff4f 78.9%,#b2ff4d 81.6%,#b2ff4d 84.2%,#b2ff4d 86.8%,#b1ff4e 89.5%,#b1ff4e 92.1%,#b0ff4f 94.7%,#b0ff4f 97.4%,#b0ff4f 100.0%)"></i>
<i style="background:linear-gradient(90deg,#002fff 0.0%,#0041ff 2.6%,#0053ff 5.3%,#0065ff 7.9%,#0076ff 10.5%,#0088ff 13.2%,#009aff 15.8%,#00abff 18.4%,#00bcff 21.1%,#00cdff 23.7%,#00deff 26.3%,#00efff 28.9%,#01fffe 31.6%,#10ffef 34.2%,#1dffe2 36.8%,#29ffd6 39.5%,#35ffca 42.1%,#42ffbd 44.7%,#4effb1 47.4%,#5affa5 50.0%,#67ff98 52.6%,#73ff8c 55.3%,#7fff80 57.9%,#8bff74 60.5%,#97ff68 63.2%,#a3ff5c 65.8%,#a7ff58 68.4%,#a8ff57 71.1%,#aaff55 73.7%,#abff54 76.3%,#acff53 78.9%,#aeff51 81.6%,#aeff51 84.2%,#aeff51 86.8%,#adff52 89.5%,#acff53 92.1%,#acff53 94.7%,#abff54 97.4%,#aaff55 100.0%)"></i>
<i style="background:linear-gradient(90deg,#0028ff 0.0%,#003aff 2.6%,#004dff 5.3%,#005fff 7.9%,#0071ff 10.5%,#0083ff 13.2%,#0095ff 15.8%,#00a6ff 18.4%,#00b8ff 21.1%,#00c9ff 23.7%,#00daff 26.3%,#00ecff 28.9%,#00fdff 31.6%,#0dfff2 34.2%,#1affe5 36.8%,#26ffd9 39.5%,#32ffcd 42.1%,#3fffc0 44.7%,#4bffb4 47.4%,#58ffa7 50.0%,#64ff9b 52.6%,#70ff8f 55.3%,#7cff83 57.9%,#89ff76 60.5%,#95ff6a 63.2%,#a1ff5e 65.8%,#a4ff5b 68.4%,#a5ff5a 71.1%,#a7ff58 73.7%,#a8ff57 76.3%,#a9ff56 78.9%,#aaff55 81.6%,#aaff55 84.2%,#aaff55 86.8%,#a9ff56 89.5%,#a8ff57 92.1%,#a7ff58 94.7%,#a6ff59 97.4%,#a5ff5a 100.0%)"></i>
<i style="background:linear-gradient(90deg,#0022ff 0.0%,#0034ff 2.6%,#0046ff 5.3%,#0058ff 7.9%,#006bff 10.5%,#007dff 13.2%,#008fff 15.8%,#00a1ff 18.4%,#00b3ff 21.1%,#00c5ff 23.7%,#00d6ff 26.3%,#00e8ff 28.9%,#00faff 31.6%,#0afff5 34.2%,#17ffe8 36.8%,#23ffdc 39.5%,#30ffcf 42.1%,#3cffc3 44.7%,#48ffb7 47.4%,#55ffaa 50.0%,#61ff9e 52.6%,#6eff91 55.3%,#7aff85 57.9%,#86ff79 60.5%,#92ff6d 63.2%,#9fff60 65.8%,#a2ff5d 68.4%,#a3ff5c 71.1%,#a4ff5b 73.7%,#a5ff5a 76.3%,#a6ff59 78.9%,#a7ff58 81.6%,#a6ff59 84.2%,#a5ff5a 86.8%,#a4ff5b 89.5%,#a3ff5c 92.1%,#a2ff5d 94.7%,#a1ff5e 97.4%,#a0ff5f 100.0%)"></i>
<i style="background:linear-gradient(90deg,#001bff 0.0%,#002dff 2.6%,#0040ff 5.3%,#0052ff 7.9%,#0065ff 10.5%,#0077ff 13.2%,#008aff 15.8%,#009cff 18.4%,#00aeff 21.1%,#00c0ff 23.7%,#00d2ff 26.3%,#00e4ff 28.9%,#00f7ff 31.6%,#07fff8 34.2%,#14ffeb 36.8%,#20ffdf 39.5%,#2dffd2 42.1%,#39ffc6 44.7%,#46ffb9 47.4%,#52ffad 50.0%,#5fffa0 52.6%,#6bff94 55.3%,#77ff88 57.9%,#84ff7b 60.5%,#90ff6f 63.2%,#9cff63 65.8%,#9fff60 68.4%,#a0ff5f 71.1%,#a1ff5e 73.7%,#a1ff5e 76.3%,#a2ff5d 78.9%,#a3ff5c 81.6%,#a3ff5c 84.2%,#a1ff5e 86.8%,#a0ff5f 89.5%,#9fff60 92.1%,#9eff61 94.7%,#9cff63 97.4%,#9bff64 100.0%)"></i>
<i style="background:linear-gradient(90deg,#0014ff 0.0%,#0027ff 2.6%,#0039ff 5.3%,#004cff 7.9%,#005fff 10.5%,#0072ff 13.2%,#0085ff 15.8%,#0097ff 18.4%,#00aaff 21.1%,#00bcff 23.7%,#00cfff 26.3%,#00e1ff 28.9%,#00f3ff 31.6%,#04fffb 34.2%,#11ffee 36.8%,#1dffe2 39.5%,#2affd5 42.1%,#36ffc9 44.7%,#43ffbc 47.4%,#4fffb0 50.0%,#5cffa3 52.6%,#68ff97 55.3%,#75ff8a 57.9%,#81ff7e 60.5%,#8eff71 63.2%,#9aff65 65.8%,#9dff62 68.4%,#9dff62 71.1%,#9eff61 73.7%,#9eff61 76.3%,#9fff60 78.9%,#9fff60 81.6%,#9fff60 84.2%,#9dff62 86.8%,#9cff63 89.5%,#9aff65 92.1%,#99ff66 94.7%,#97ff68 97.4%,#96ff69 100.0%)"></i>
<i style="background:linear-gradient(90deg,#000dff 0.0%,#0020ff 2.6%,#0033ff 5.3%,#0046ff 7.9%,#0059ff 10.5%,#006cff 13.2%,#007fff 15.8%,#0092ff 18.4%,#00a5ff 21.1%,#00b8ff 23.7%,#00cbff 26.3%,#00ddff 28.9%,#00f0ff 31.6%,#01fffe 34.2%,#0efff1 36.8%,#1affe5 39.5%,#27ffd8 42.1%,#34ffcb 44.7%,#40ffbf 47.4%,#4dffb2 50.0%,#59ffa6 52.6%,#66ff99 55.3%,#72ff8d 57.9%,#7fff80 60.5%,#8bff74 63.2%,#98ff67 65.8%,#9aff65 68.4%,#9aff65 71.1%,#9bff64 73.7%,#9bff64 76.3%,#9bff64 78.9%,#9cff63 81.6%,#9bff64 84.2%,#99ff66 86.8%,#98ff67 89.5%,#96ff69 92.1%,#94ff6b 94.7%,#93ff6c 97.4%,#91ff6e 100.0%)"></i>
<i style="background:linear-gradient(90deg,#0006ff 0.0%,#0019ff 2.6%,#002dff 5.3%,#0040ff 7.9%,#0053ff 10.5%,#0067ff 13.2%,#007aff 15.8%,#008dff 18.4%,#00a0ff 21.1%,#00b4ff 23.7%,#00c7ff 26.3%,#00daff 28.9%,#00edff 31.6%,#00fdff 34.2%,#0bfff4 36.8%,#18ffe7 39.5%,#24ffdb 42.1%,#31ffce 44.7%,#3dffc2 47.4%,#4affb5 50.0%,#57ffa8 52.6%,#63ff9c 55.3%,#70ff8f 57.9%,#7cff83 60.5%,#89ff76 63.2%,#96ff69 65.8%,#98ff67 68.4%,#98ff67 71.1%,#98ff67 73.7%,#98ff67 76.3%,#98ff67 78.9%,#98ff67 81.6%,#97ff68 84.2%,#95ff6a 86.8%,#93ff6c 89.5%,#91ff6e 92.1%,#90ff6f 94.7%,#8eff71 97.4%,#8cff73 100.0%)"></i>
<i style="background:linear-gradient(90deg,#0001ff 0.0%,#0014ff 2.6%,#0028ff 5.3%,#003bff 7.9%,#004eff 10.5%,#0062ff 13.2%,#0075ff 15.8%,#0088ff 18.4%,#009cff 21.1%,#00afff 23.7%,#00c3ff 26.3%,#00d6ff 28.9%,#00eaff 31.6%,#00faff 34.2%,#08fff7 36.8%,#15ffea 39.5%,#21ffde 42.1%,#2effd1 44.7%,#3affc5 47.4%,#47ffb8 50.0%,#54ffab 52.6%,#60ff9f 55.3%,#6dff92 57.9%,#7aff85 60.5%,#86ff79 63.2%,#93ff6c 65.8%,#95ff6a 68.4%,#95ff6a 71.1%,#95ff6a 73.7%,#94ff6b 76.3%,#94ff6b 78.9%,#94ff6b 81.6%,#93ff6c 84.2%,#91ff6e 86.8%,#8fff70 89.5%,#8dff72 92.1%,#8bff74 94.7%,#89ff76 97.4%,#87ff78 100.0%)"></i>
<i style="background:linear-gradient(90deg,#0000fb 0.0%,#0010ff 2.6%,#0023ff 5.3%,#0036ff 7.9%,#0049ff 10.5%,#005cff 13.2%,#0070ff 15.8%,#0083ff 18.4%,#0097ff 21.1%,#00abff 23.7%,#00bfff 26.3%,#00d3ff 28.9%,#00e7ff 31.6%,#00f8ff 34.2%,#05fffa 36.8%,#12ffed 39.5%,#1effe1 42.1%,#2bffd4 44.7%,#38ffc7 47.4%,#44ffbb 50.0%,#51ffae 52.6%,#5effa1 55.3%,#6aff95 57.9%,#77ff88 60.5%,#84ff7b 63.2%,#91ff6e 65.8%,#92ff6d 68.4%,#92ff6d 71.1%,#91ff6e 73.7%,#91ff6e 76.3%,#90ff6f 78.9%,#90ff6f 81.6%,#8fff70 84.2%,#8dff72 86.8%,#8bff74 89.5%,#88ff77 92.1%,#86ff79 94.7%,#84ff7b 97.4%,#82ff7d 100.0%)"></i>
<i style="background:linear-gradient(90deg,#0000f7 0.0%,#000bff 2.6%,#001eff 5.3%,#0031ff 7.9%,#0044ff 10.5%,#0057ff 13.2%,#006aff 15.8%,#007eff 18.4%,#0093ff 21.1%,#00a7ff 23.7%,#00bbff 26.3%,#00cfff 28.9%,#00e4ff 31.6%,#00f5ff 34.2%,#02fffd 36.8%,#0ffff0 39.5%,#1bffe4 42.1%,#28ffd7 44.7%,#35ffca 47.4%,#41ffbe 50.0%,#4effb1 52.6%,#5bffa4 55.3%,#68ff97 57.9%,#75ff8a 60.5%,#81ff7e 63.2%,#8eff71 65.8%,#90ff6f 68.4%,#8fff70 71.1%,#8eff71 73.7%,#8eff71 76.3%,#8dff72 78.9%,#8cff73 81.6%,#8bff74 84.2%,#88ff77 86.8%,#86ff79 89.5%,#84ff7b 92.1%,#82ff7d 94.7%,#80ff7f 97.4%,#7dff82 100.0%)"></i>
<i style="background:linear-gradient(90deg,#0000f2 0.0%,#0006ff 2.6%,#0019ff 5.3%,#002cff 7.9%,#003fff 10.5%,#0052ff 13.2%,#0065ff 15.8%,#0079ff 18.4%,#008eff 21.1%,#00a3ff 23.7%,#00b7ff 26.3%,#00ccff 28.9%,#00e0ff 31.6%,#00f2ff 34.2%,#00feff 36.8%,#0cfff3 39.5%,#19ffe6 42.1%,#25ffda 44.7%,#32ffcd 47.4%,#3effc1 50.0%,#4bffb4 52.6%,#58ffa7 55.3%,#65ff9a 57.9%,#72ff8d 60.5%,#7fff80 63.2%,#8cff73 65.8%,#8dff72 68.4%,#8cff73 71.1%,#8bff74 73.7%,#8aff75 76.3%,#89ff76 78.9%,#88ff77 81.6%,#86ff79 84.2%,#84ff7b 86.8%,#82ff7d 89.5%,#7fff80 92.1%,#7dff82 94.7%,#7bff84 97.4%,#79ff86 100.0%)"></i>
<i style="background:linear-gradient(90deg,#0000ee 0.0%,#0002ff 2.6%,#0014ff 5.3%,#0027ff 7.9%,#003aff 10.5%,#004dff 13.2%,#0060ff 15.8%,#0074ff 18.4%,#0089ff 21.1%,#009eff 23.7%,#00b3ff 26.3%,#00c8ff 28.9%,#00ddff 31.6%,#00efff 34.2%,#00fcff 36.8%,#09fff6 39.5%,#16ffe9 42.1%,#22ffdd 44.7%,#2fffd0 47.4%,#3cffc3 50.0%,#49ffb6 52.6%,#55ffaa 55.3%,#62ff9d 57.9%,#6fff90 60.5%,#7cff83 63.2%,#89ff76 65.8%,#8bff74 68.4%,#89ff76 71.1%,#88ff77 73.7%,#87ff78 76.3%,#85ff7a 78.9%,#84ff7b 81.6%,#82ff7d 84.2%,#80ff7f 86.8%,#7dff82 89.5%,#7bff84 92.1%,#79ff86 94.7%,#76ff89 97.4%,#74ff8b 100.0%)"></i>
<i style="background:linear-gradient(90deg,#0000e9 0.0%,#0000fc 2.6%,#0010ff 5.3%,#0022ff 7.9%,#0035ff 10.5%,#0048ff 13.2%,#005aff 15.8%,#006fff 18.4%,#0085ff 21.1%,#009aff 23.7%,#00afff 26.3%,#00c5ff 28.9%,#00daff 31.6%,#00ecff 34.2%,#00f9ff 36.8%,#06fff9 39.5%,#13ffec 42.1%,#1fffe0 44.7%,#2cffd3 47.4%,#39ffc6 50.0%,#46ffb9 52.6%,#53ffac 55.3%,#60ff9f 57.9%,#6dff92 60.5%,#7aff85 63.2%,#87ff78 65.8%,#88ff77 68.4%,#86ff79 71.1%,#85ff7a 73.7%,#83ff7c 76.3%,#82ff7d 78.9%,#80ff7f 81.6%,#7eff81 84.2%,#7cff83 86.8%,#79ff86 89.5%,#77ff88 92.1%,#74ff8b 94.7%,#72ff8d 97.4%,#6fff90 100.0%)"></i>
<i style="background:linear-gradient(90deg,#0000e4 0.0%,#0000f7 2.6%,#000bff 5.3%,#001dff 7.9%,#0030ff 10.5%,#0043ff 13.2%,#0055ff 15.8%,#006aff 18.4%,#0080ff 21.1%,#0096ff 23.7%,#00acff 26.3%,#00c1ff 28.9%,#00d7ff 31.6%,#00e9ff 34.2%,#00f6ff 36.8%,#03fffc 39.5%,#10ffef 42.1%,#1dffe2 44.7%,#29ffd6 47.4%,#36ffc9 50.0%,#43ffbc 52.6%,#50ffaf 55.3%,#5dffa2 57.9%,#6aff95 60.5%,#77ff88 63.2%,#84ff7b 65.8%,#85ff7a 68.4%,#83ff7c 71.1%,#82ff7d 73.7%,#80ff7f 76.3%,#7eff81 78.9%,#7cff83 81.6%,#7aff85 84.2%,#77ff88 86.8%,#75ff8a 89.5%,#72ff8d 92.1%,#6fff90 94.7%,#6dff92 97.4%,#6aff95 100.0%)"></i>
<i style="background:linear-gradient(90deg,#0000e0 0.0%,#0000f2 2.6%,#0006ff 5.3%,#0018ff 7.9%,#002bff 10.5%,#003dff 13.2%,#0050ff 15.8%,#0065ff 18.4%,#007bff 21.1%,#0091ff 23.7%,#00a8ff 26.3%,#00beff 28.9%,#00d4ff 31.6%,#00e6ff 34.2%,#00f3ff 36.8%,#00ffff 39.5%,#0dfff2 42.1%,#1affe5 44.7%,#26ffd9 47.4%,#33ffcc 50.0%,#40ffbf 52.6%,#4dffb2 55.3%,#5affa5 57.9%,#68ff97 60.5%,#75ff8a 63.2%,#82ff7d 65.8%,#83ff7c 68.4%,#81ff7e 71.1%,#7eff81 73.7%,#7cff83 76.3%,#7aff85 78.9%,#78ff87 81.6%,#76ff89 84.2%,#73ff8c 86.8%,#70ff8f 89.5%,#6eff91 92.1%,#6bff94 94.7%,#68ff97 97.4%,#65ff9a 100.0%)"></i>
<i style="background:linear-gradient(90deg,#0000db 0.0%,#0000ee 2.6%,#0001ff 5.3%,#0014ff 7.9%,#0026ff 10.5%,#0038ff 13.2%,#004bff 15.8%,#0060ff 18.4%,#0077ff 21.1%,#008dff 23.7%,#00a4ff 26.3%,#00baff 28.9%,#00d1ff 31.6%,#00e3ff 34.2%,#00f0ff 36.8%,#00fdff 39.5%,#0afff5 42.1%,#17ffe8 44.7%,#23ffdc 47.4%,#30ffcf 50.0%,#3dffc2 52.6%,#4bffb4 55.3%,#58ffa7 57.9%,#65ff9a 60.5%,#72ff8d 63.2%,#80ff7f 65.8%,#80ff7f 68.4%,#7eff81 71.1%,#7bff84 73.7%,#79ff86 76.3%,#77ff88 78.9%,#74ff8b 81.6%,#72ff8d 84.2%,#6fff90 86.8%,#6cff93 89.5%,#69ff96 92.1%,#66ff99 94.7%,#63ff9c 97.4%,#61ff9e 100.0%)"></i>
<i style="background:linear-gradient(90deg,#0000d7 0.0%,#0000e9 2.6%,#0000fb 5.3%,#000fff 7.9%,#0021ff 10.5%,#0033ff 13.2%,#0045ff 15.8%,#005bff 18.4%,#0072ff 21.1%,#0089ff 23.7%,#00a0ff 26.3%,#00b7ff 28.9%,#00ceff 31.6%,#00e0ff 34.2%,#00edff 36.8%,#00faff 39.5%,#07fff8 42.1%,#14ffeb 44.7%,#20ffdf 47.4%,#2dffd2 50.0%,#3bffc4 52.6%,#48ffb7 55.3%,#55ffaa 57.9%,#63ff9c 60.5%,#70ff8f 63.2%,#7dff82 65.8%,#7dff82 68.4%,#7bff84 71.1%,#78ff87 73.7%,#76ff89 76.3%,#73ff8c 78.9%,#70ff8f 81.6%,#6eff91 84.2%,#6bff94 86.8%,#68ff97 89.5%,#65ff9a 92.1%,#62ff9d 94.7%,#5fffa0 97.4%,#5cffa3 100.0%)"></i>
<i style="background:linear-gradient(90deg,#0000d2 0.0%,#0000e4 2.6%,#0000f7 5.3%,#000aff 7.9%,#001cff 10.5%,#002eff 13.2%,#0040ff 15.8%,#0056ff 18.4%,#006dff 21.1%,#0085ff 23.7%,#009cff 26.3%,#00b3ff 28.9%,#00cbff 31.6%,#00deff 34.2%,#00eaff 36.8%,#00f7ff 39.5%,#04fffb 42.1%,#11ffee 44.7%,#1effe1 47.4%,#2affd5 50.0%,#38ffc7 52.6%,#45ffba 55.3%,#53ffac 57.9%,#60ff9f 60.5%,#6dff92 63.2%,#7bff84 65.8%,#7bff84 68.4%,#78ff87 71.1%,#75ff8a 73.7%,#72ff8d 76.3%,#6fff90 78.9%,#6cff93 81.6%,#69ff96 84.2%,#66ff99 86.8%,#63ff9c 89.5%,#60ff9f 92.1%,#5dffa2 94.7%,#5affa5 97.4%,#57ffa8 100.0%)"></i>
<i style="background:linear-gradient(90deg,#0000cd 0.0%,#0000e0 2.6%,#0000f2 5.3%,#0005ff 7.9%,#0017ff 10.5%,#0029ff 13.2%,#003bff 15.8%,#0051ff 18.4%,#0069ff 21.1%,#0080ff 23.7%,#0098ff 26.3%,#00b0ff 28.9%,#00c8ff 31.6%,#00dbff 34.2%,#00e7ff 36.8%,#00f4ff 39.5%,#01fffe 42.1%,#0efff1 44.7%,#1bffe4 47.4%,#27ffd8 50.0%,#35ffca 52.6%,#42ffbd 55.3%,#50ffaf 57.9%,#5dffa2 60.5%,#6bff94 63.2%,#78ff87 65.8%,#78ff87 68.4%,#75ff8a 71.1%,#72ff8d 73.7%,#6fff90 76.3%,#6cff93 78.9%,#68ff97 81.6%,#65ff9a 84.2%,#62ff9d 86.8%,#5fffa0 89.5%,#5cffa3 92.1%,#59ffa6 94.7%,#55ffaa 97.4%,#52ffad 100.0%)"></i>
<i style="background:linear-gradient(90deg,#0000c9 0.0%,#0000db 2.6%,#0000ed 5.3%,#0000ff 7.9%,#0012ff 10.5%,#0024ff 13.2%,#0036ff 15.8%,#004cff 18.4%,#0064ff 21.1%,#007cff 23.7%,#0094ff 26.3%,#00acff 28.9%,#00c4ff 31.6%,#00d8ff 34.2%,#00e4ff 36.8%,#00f1ff 39.5%,#00feff 42.1%,#0bfff4 44.7%,#18ffe7 47.4%,#25ffda 50.0%,#32ffcd 52.6%,#40ffbf 55.3%,#4dffb2 57.9%,#5bffa4 60.5%,#68ff97 63.2%,#76ff89 65.8%,#75ff8a 68.4%,#72ff8d 71.1%,#6fff90 73.7%,#6bff94 76.3%,#68ff97 78.9%,#65ff9a 81.6%,#61ff9e 84.2%,#5effa1 86.8%,#5bffa4 89.5%,#57ffa8 92.1%,#54ffab 94.7%,#51ffae 97.4%,#4dffb2 100.0%)"></i>
<i style="background:linear-gradient(90deg,#0000c4 0.0%,#0000d6 2.6%,#0000e8 5.3%,#0000fa 7.9%,#000dff 10.5%,#001eff 13.2%,#0030ff 15.8%,#0047ff 18.4%,#005fff 21.1%,#0078ff 23.7%,#0090ff 26.3%,#00a9ff 28.9%,#00c1ff 31.6%,#00d5ff 34.2%,#00e2ff 36.8%,#00eeff 39.5%,#00fbff 42.1%,#08fff7 44.7%,#15ffea 47.4%,#22ffdd 50.0%,#2fffd0 52.6%,#3dffc2 55.3%,#4bffb4 57.9%,#58ffa7 60.5%,#66ff99 63.2%,#73ff8c 65.8%,#73ff8c 68.4%,#6fff90 71.1%,#6cff93 73.7%,#68ff97 76.3%,#64ff9b 78.9%,#61ff9e 81.6%,#5dffa2 84.2%,#5affa5 86.8%,#56ffa9 89.5%,#53ffac 92.1%,#4fffb0 94.7%,#4cffb3 97.4%,#49ffb6 100.0%)"></i>
<i style="background:linear-gradient(90deg,#0000c0 0.0%,#0000d1 2.6%,#0000e3 5.3%,#0000f5 7.9%,#0008ff 10.5%,#0019ff 13.2%,#002bff 15.8%,#0042ff 18.4%,#005bff 21.1%,#0074ff 23.7%,#008cff 26.3%,#00a5ff 28.9%,#00beff 31.6%,#00d2ff 34.2%,#00dfff 36.8%,#00ebff 39.5%,#00f8ff 42.1%,#05fffa 44.7%,#12ffed 47.4%,#1fffe0 50.0%,#2cffd3 52.6%,#3affc5 55.3%,#48ffb7 57.9%,#56ffa9 60.5%,#63ff9c 63.2%,#71ff8e 65.8%,#70ff8f 68.4%,#6cff93 71.1%,#68ff97 73.7%,#64ff9b 76.3%,#61ff9e 78.9%,#5dffa2 81.6%,#59ffa6 84.2%,#55ffaa 86.8%,#52ffad 89.5%,#4effb1 92.1%,#4bffb4 94.7%,#47ffb8 97.4%,#44ffbb 100.0%)"></i>
<i style="background:linear-gradient(90deg,#0000bb 0.0%,#0000cd 2.6%,#0000de 5.3%,#0000f0 7.9%,#0003ff 10.5%,#0014ff 13.2%,#0026ff 15.8%,#003dff 18.4%,#0056ff 21.1%,#006fff 23.7%,#0089ff 26.3%,#00a2ff 28.9%,#00bbff 31.6%,#00cfff 34.2%,#00dcff 36.8%,#00e8ff 39.5%,#00f5ff 42.1%,#03fffc 44.7%,#0ffff0 47.4%,#1cffe3 50.0%,#2affd5 52.6%,#37ffc8 55.3%,#45ffba 57.9%,#53ffac 60.5%,#61ff9e 63.2%,#6fff90 65.8%,#6eff91 68.4%,#69ff96 71.1%,#65ff9a 73.7%,#61ff9e 76.3%,#5dffa2 78.9%,#59ffa6 81.6%,#55ffaa 84.2%,#51ffae 86.8%,#4dffb2 89.5%,#4affb5 92.1%,#46ffb9 94.7%,#43ffbc 97.4%,#3fffc0 100.0%)"></i>
<i style="background:linear-gradient(90deg,#0000b7 0.0%,#0000c8 2.6%,#0000da 5.3%,#0000eb 7.9%,#0000fd 10.5%,#000fff 13.2%,#0020ff 15.8%,#0038ff 18.4%,#0051ff 21.1%,#006bff 23.7%,#0085ff 26.3%,#009eff 28.9%,#00b8ff 31.6%,#00ccff 34.2%,#00d9ff 36.8%,#00e5ff 39.5%,#00f2ff 42.1%,#00ffff 44.7%,#0cfff3 47.4%,#19ffe6 50.0%,#27ffd8 52.6%,#35ffca 55.3%,#43ffbc 57.9%,#50ffaf 60.5%,#5effa1 63.2%,#6cff93 65.8%,#6bff94 68.4%,#66ff99 71.1%,#62ff9d 73.7%,#5effa1 76.3%,#59ffa6 78.9%,#55ffaa 81.6%,#51ffae 84.2%,#4dffb2 86.8%,#49ffb6 89.5%,#45ffba 92.1%,#42ffbd 94.7%,#3effc1 97.4%,#3affc5 100.0%)"></i>
<i style="background:linear-gradient(90deg,#0000b2 0.0%,#0000c3 2.6%,#0000d5 5.3%,#0000e6 7.9%,#0000f7 10.5%,#000aff 13.2%,#001bff 15.8%,#0033ff 18.4%,#004dff 21.1%,#0067ff 23.7%,#0081ff 26.3%,#009bff 28.9%,#00b5ff 31.6%,#00c9ff 34.2%,#00d6ff 36.8%,#00e3ff 39.5%,#00efff 42.1%,#00fcff 44.7%,#09fff6 47.4%,#16ffe9 50.0%,#24ffdb 52.6%,#32ffcd 55.3%,#40ffbf 57.9%,#4effb1 60.5%,#5cffa3 63.2%,#6aff95 65.8%,#68ff97 68.4%,#64ff9b 71.1%,#5fffa0 73.7%,#5affa5 76.3%,#55ffaa 78.9%,#51ffae 81.6%,#4dffb2 84.2%,#49ffb6 86.8%,#45ffba 89.5%,#41ffbe 92.1%,#3dffc2 94.7%,#39ffc6 97.4%,#35ffca 100.0%)"></i>
<i style="background:linear-gradient(90deg,#0000ad 0.0%,#0000bf 2.6%,#0000d0 5.3%,#0000e1 7.9%,#0000f2 10.5%,#0005ff 13.2%,#0016ff 15.8%,#002eff 18.4%,#0048ff 21.1%,#0062ff 23.7%,#007dff 26.3%,#0097ff 28.9%,#00b2ff 31.6%,#00c6ff 34.2%,#00d3ff 36.8%,#00e0ff 39.5%,#00ecff 42.1%,#00f9ff 44.7%,#06fff9 47.4%,#13ffec 50.0%,#21ffde 52.6%,#2fffd0 55.3%,#3dffc2 57.9%,#4bffb4 60.5%,#59ffa6 63.2%,#67ff98 65.8%,#66ff99 68.4%,#61ff9e 71.1%,#5cffa3 73.7%,#57ffa8 76.3%,#52ffad 78.9%,#4dffb2 81.6%,#48ffb7 84.2%,#44ffbb 86.8%,#40ffbf 89.5%,#3cffc3 92.1%,#38ffc7 94.7%,#34ffcb 97.4%,#31ffce 100.0%)"></i>
<i style="background:linear-gradient(90deg,#0000a9 0.0%,#0000ba 2.6%,#0000cb 5.3%,#0000dc 7.9%,#0000ed 10.5%,#0000ff 13.2%,#0011ff 15.8%,#0029ff 18.4%,#0043ff 21.1%,#005eff 23.7%,#0079ff 26.3%,#0094ff 28.9%,#00afff 31.6%,#00c4ff 34.2%,#00d0ff 36.8%,#00ddff 39.5%,#00e9ff 42.1%,#00f6ff 44.7%,#04fffb 47.4%,#10ffef 50.0%,#1effe1 52.6%,#2dffd2 55.3%,#3bffc4 57.9%,#49ffb6 60.5%,#57ffa8 63.2%,#65ff9a 65.8%,#63ff9c 68.4%,#5effa1 71.1%,#59ffa6 73.7%,#53ffac 76.3%,#4effb1 78.9%,#49ffb6 81.6%,#44ffbb 84.2%,#40ffbf 86.8%,#3cffc3 89.5%,#38ffc7 92.1%,#34ffcb 94.7%,#30ffcf 97.4%,#2cffd3 100.0%)"></i>
<i style="background:linear-gradient(90deg,#0000a4 0.0%,#0000b5 2.6%,#0000c6 5.3%,#0000d7 7.9%,#0000e8 10.5%,#0000f9 13.2%,#000bff 15.8%,#0024ff 18.4%,#003fff 21.1%,#005aff 23.7%,#0075ff 26.3%,#0090ff 28.9%,#00acff 31.6%,#00c1ff 34.2%,#00cdff 36.8%,#00daff 39.5%,#00e7ff 42.1%,#00f3ff 44.7%,#01fffe 47.4%,#0dfff2 50.0%,#1cffe3 52.6%,#2affd5 55.3%,#38ffc7 57.9%,#46ffb9 60.5%,#54ffab 63.2%,#62ff9d 65.8%,#60ff9f 68.4%,#5bffa4 71.1%,#55ffaa 73.7%,#50ffaf 76.3%,#4affb5 78.9%,#45ffba 81.6%,#40ffbf 84.2%,#3cffc3 86.8%,#38ffc7 89.5%,#33ffcc 92.1%,#2fffd0 94.7%,#2bffd4 97.4%,#27ffd8 100.0%)"></i>
</div>
<div class="hm" style="left:401.30px;top:34.50px;width:224.00px;height:253.50px">
<i style="background:linear-gradient(90deg,#ff7f00 0.0%,#ff7300 2.6%,#ff6700 5.3%,#ff5c00 7.9%,#ff5000 10.5%,#ff4400 13.2%,#ff3900 15.8%,#ff2e00 18.4%,#ff2300 21.1%,#ff1800 23.7%,#ff0d00 26.3%,#ff0200 28.9%,#f70000 31.6%,#ef0000 34.2%,#eb0000 36.8%,#e70000 39.5%,#e40000 42.1%,#e00000 44.7%,#dc0000 47.4%,#d90000 50.0%,#d60000 52.6%,#d30000 55.3%,#d00000 57.9%,#cd0000 60.5%,#ca0000 63.2%,#c70000 65.8%,#c10000 68.4%,#bb0000 71.1%,#b40000 73.7%,#ae0000 76.3%,#a80000 78.9%,#a10000 81.6%,#9b0000 84.2%,#960000 86.8%,#900000 89.5%,#8b0000 92.1%,#850000 94.7%,#800000 97.4%,#800000 100.0%)"></i>
<i style="background:linear-gradient(90deg,#ff8200 0.0%,#ff7600 2.6%,#ff6b00 5.3%,#ff6000 7.9%,#ff5400 10.5%,#ff4900 13.2%,#ff3d00 15.8%,#ff3200 18.4%,#ff2700 21.1%,#ff1d00 23.7%,#ff1200 26.3%,#ff0700 28.9%,#fc0000 31.6%,#f40000 34.2%,#f00000 36.8%,#ec0000 39.5%,#e80000 42.1%,#e50000 44.7%,#e10000 47.4%,#dd0000 50.0%,#da0000 52.6%,#d70000 55.3%,#d40000 57.9%,#d10000 60.5%,#cd0000 63.2%,#ca0000 65.8%,#c50000 68.4%,#be0000 71.1%,#b80000 73.7%,#b20000 76.3%,#ab0000 78.9%,#a50000 81.6%,#9f0000 84.2%,#990000 86.8%,#930000 89.5%,#8e0000 92.1%,#880000 94.7%,#820000 97.4%,#800000 100.0%)"></i>
<i style="background:linear-gradient(90deg,#ff8500 0.0%,#ff7a00 2.6%,#ff6f00 5.3%,#ff6300 7.9%,#ff5800 10.5%,#ff4d00 13.2%,#ff4100 15.8%,#ff3700 18.4%,#ff2c00 21.1%,#ff2100 23.7%,#ff1700 26.3%,#ff0c00 28.9%,#ff0100 31.6%,#f90000 34.2%,#f50000 36.8%,#f10000 39.5%,#ed0000 42.1%,#e90000 44.7%,#e50000 47.4%,#e10000 50.0%,#de0000 52.6%,#db0000 55.3%,#d80000 57.9%,#d40000 60.5%,#d10000 63.2%,#ce0000 65.8%,#c80000 68.4%,#c20000 71.1%,#bb0000 73.7%,#b50000 76.3%,#af0000 78.9%,#a80000 81.6%,#a20000 84.2%,#9d0000 86.8%,#970000 89.5%,#910000 92.1%,#8b0000 94.7%,#860000 97.4%,#800000 100.0%)"></i>
<i style="background:linear-gradient(90deg,#ff8800 0.0%,#ff7d00 2.6%,#ff7200 5.3%,#ff6700 7.9%,#ff5c00 10.5%,#ff5100 13.2%,#ff4600 15.8%,#ff3b00 18.4%,#ff3100 21.1%,#ff2600 23.7%,#ff1c00 26.3%,#ff1100 28.9%,#ff0600 31.6%,#fd0000 34.2%,#f90000 36.8%,#f50000 39.5%,#f10000 42.1%,#ed0000 44.7%,#e90000 47.4%,#e60000 50.0%,#e20000 52.6%,#df0000 55.3%,#dc0000 57.9%,#d80000 60.5%,#d50000 63.2%,#d20000 65.8%,#cc0000 68.4%,#c50000 71.1%,#bf0000 73.7%,#b90000 76.3%,#b20000 78.9%,#ac0000 81.6%,#a60000 84.2%,#a00000 86.8%,#9a0000 89.5%,#940000 92.1%,#8e0000 94.7%,#890000 97.4%,#830000 100.0%)"></i>
<i style="background:linear-gradient(90deg,#ff8c00 0.0%,#ff8100 2.6%,#ff7600 5.3%,#ff6b00 7.9%,#ff6000 10.5%,#ff5500 13.2%,#ff4a00 15.8%,#ff4000 18.4%,#ff3500 21.1%,#ff2b00 23.7%,#ff2000 26.3%,#ff1600 28.9%,#ff0b00 31.6%,#ff0300 34.2%,#fe0000 36.8%,#fa0000 39.5%,#f60000 42.1%,#f20000 44.7%,#ee0000 47.4%,#ea0000 50.0%,#e60000 52.6%,#e30000 55.3%,#df0000 57.9%,#dc0000 60.5%,#d90000 63.2%,#d50000 65.8%,#cf0000 68.4%,#c90000 71.1%,#c20000 73.7%,#bc0000 76.3%,#b60000 78.9%,#af0000 81.6%,#a90000 84.2%,#a30000 86.8%,#9d0000 89.5%,#970000 92.1%,#920000 94.7%,#8c0000 97.4%,#860000 100.0%)"></i>
<i style="background:linear-gradient(90deg,#ff8f00 0.0%,#ff8400 2.6%,#ff7900 5.3%,#ff6f00 7.9%,#ff6400 10.5%,#ff5900 13.2%,#ff4f00 15.8%,#ff4400 18.4%,#ff3a00 21.1%,#ff2f00 23.7%,#ff2500 26.3%,#ff1b00 28.9%,#ff1000 31.6%,#ff0800 34.2%,#ff0400 36.8%,#ff0000 39.5%,#fb0000 42.1%,#f60000 44.7%,#f20000 47.4%,#ee0000 50.0%,#ea0000 52.6%,#e70000 55.3%,#e30000 57.9%,#e00000 60.5%,#dc0000 63.2%,#d90000 65.8%,#d30000 68.4%,#cc0000 71.1%,#c60000 73.7%,#c00000 76.3%,#b90000 78.9%,#b30000 81.6%,#ac0000 84.2%,#a70000 86.8%,#a10000 89.5%,#9b0000 92.1%,#950000 94.7%,#8f0000 97.4%,#890000 100.0%)"></i>
<i style="background:linear-gradient(90deg,#ff9200 0.0%,#ff8700 2.6%,#ff7d00 5.3%,#ff7200 7.9%,#ff6800 10.5%,#ff5d00 13.2%,#ff5300 15.8%,#ff4900 18.4%,#ff3e00 21.1%,#ff3400 23.7%,#ff2a00 26.3%,#ff2000 28.9%,#ff1500 31.6%,#ff0d00 34.2%,#ff0900 36.8%,#ff0500 39.5%,#ff0000 42.1%,#fb0000 44.7%,#f60000 47.4%,#f20000 50.0%,#ee0000 52.6%,#eb0000 55.3%,#e70000 57.9%,#e40000 60.5%,#e00000 63.2%,#dc0000 65.8%,#d60000 68.4%,#d00000 71.1%,#c90000 73.7%,#c30000 76.3%,#bc0000 78.9%,#b60000 81.6%,#b00000 84.2%,#aa0000 86.8%,#a40000 89.5%,#9e0000 92.1%,#980000 94.7%,#920000 97.4%,#8c0000 100.0%)"></i>
<i style="background:linear-gradient(90deg,#ff9500 0.0%,#ff8b00 2.6%,#ff8100 5.3%,#ff7600 7.9%,#ff6c00 10.5%,#ff6200 13.2%,#ff5700 15.8%,#ff4d00 18.4%,#ff4300 21.1%,#ff3900 23.7%,#ff2f00 26.3%,#ff2400 28.9%,#ff1a00 31.6%,#ff1200 34.2%,#ff0e00 36.8%,#ff0900 39.5%,#ff0500 42.1%,#ff0000 44.7%,#fb0000 47.4%,#f60000 50.0%,#f30000 52.6%,#ef0000 55.3%,#eb0000 57.9%,#e70000 60.5%,#e40000 63.2%,#e00000 65.8%,#da0000 68.4%,#d30000 71.1%,#cd0000 73.7%,#c60000 76.3%,#c00000 78.9%,#b90000 81.6%,#b30000 84.2%,#ad0000 86.8%,#a70000 89.5%,#a10000 92.1%,#9b0000 94.7%,#950000 97.4%,#8f0000 100.0%)"></i>
<i style="background:linear-gradient(90deg,#ff9800 0.0%,#ff8e00 2.6%,#ff8400 5.3%,#ff7a00 7.9%,#ff7000 10.5%,#ff6600 13.2%,#ff5c00 15.8%,#ff5200 18.4%,#ff4800 21.1%,#ff3d00 23.7%,#ff3300 26.3%,#ff2900 28.9%,#ff1f00 31.6%,#ff1700 34.2%,#ff1300 36.8%,#ff0e00 39.5%,#ff0900 42.1%,#ff0500 44.7%,#ff0000 47.4%,#fb0000 50.0%,#f70000 52.6%,#f30000 55.3%,#ef0000 57.9%,#eb0000 60.5%,#e70000 63.2%,#e40000 65.8%,#de0000 68.4%,#d70000 71.1%,#d00000 73.7%,#ca0000 76.3%,#c30000 78.9%,#bd0000 81.6%,#b70000 84.2%,#b10000 86.8%,#aa0000 89.5%,#a40000 92.1%,#9e0000 94.7%,#980000 97.4%,#920000 100.0%)"></i>
<i style="background:linear-gradient(90deg,#ff9c00 0.0%,#ff9200 2.6%,#ff8800 5.3%,#ff7e00 7.9%,#ff7400 10.5%,#ff6a00 13.2%,#ff6000 15.8%,#ff5600 18.4%,#ff4c00 21.1%,#ff4200 23.7%,#ff3800 26.3%,#ff2e00 28.9%,#ff2400 31.6%,#ff1c00 34.2%,#ff1700 36.8%,#ff1300 39.5%,#ff0e00 42.1%,#ff0900 44.7%,#ff0400 47.4%,#ff0000 50.0%,#fb0000 52.6%,#f70000 55.3%,#f30000 57.9%,#ef0000 60.5%,#eb0000 63.2%,#e70000 65.8%,#e10000 68.4%,#db0000 71.1%,#d40000 73.7%,#cd0000 76.3%,#c70000 78.9%,#c00000 81.6%,#ba0000 84.2%,#b40000 86.8%,#ae0000 89.5%,#a80000 92.1%,#a20000 94.7%,#9b0000 97.4%,#950000 100.0%)"></i>
<i style="background:linear-gradient(90deg,#ff9f00 0.0%,#ff9500 2.6%,#ff8b00 5.3%,#ff8200 7.9%,#ff7800 10.5%,#ff6e00 13.2%,#ff6400 15.8%,#ff5b00 18.4%,#ff5100 21.1%,#ff4700 23.7%,#ff3d00 26.3%,#ff3300 28.9%,#ff2900 31.6%,#ff2100 34.2%,#ff1c00 36.8%,#ff1700 39.5%,#ff1300 42.1%,#ff0e00 44.7%,#ff0900 47.4%,#ff0400 50.0%,#ff0000 52.6%,#fb0000 55.3%,#f70000 57.9%,#f30000 60.5%,#ef0000 63.2%,#eb0000 65.8%,#e50000 68.4%,#de0000 71.1%,#d70000 73.7%,#d10000 76.3%,#ca0000 78.9%,#c40000 81.6%,#bd0000 84.2%,#b70000 86.8%,#b10000 89.5%,#ab0000 92.1%,#a50000 94.7%,#9f0000 97.4%,#980000 100.0%)"></i>
<i style="background:linear-gradient(90deg,#ffa200 0.0%,#ff9800 2.6%,#ff8f00 5.3%,#ff8500 7.9%,#ff7c00 10.5%,#ff7200 13.2%,#ff6900 15.8%,#ff5f00 18.4%,#ff5500 21.1%,#ff4b00 23.7%,#ff4200 26.3%,#ff3800 28.9%,#ff2e00 31.6%,#ff2600 34.2%,#ff2100 36.8%,#ff1c00 39.5%,#ff1700 42.1%,#ff1200 44.7%,#ff0d00 47.4%,#ff0800 50.0%,#ff0400 52.6%,#ff0000 55.3%,#fb0000 57.9%,#f70000 60.5%,#f20000 63.2%,#ee0000 65.8%,#e80000 68.4%,#e20000 71.1%,#db0000 73.7%,#d40000 76.3%,#ce0000 78.9%,#c70000 81.6%,#c10000 84.2%,#ba0000 86.8%,#b40000 89.5%,#ae0000 92.1%,#a80000 94.7%,#a20000 97.4%,#9b0000 100.0%)"></i>
<i style="background:linear-gradient(90deg,#ffa500 0.0%,#ff9c00 2.6%,#ff9200 5.3%,#ff8900 7.9%,#ff8000 10.5%,#ff7600 13.2%,#ff6d00 15.8%,#ff6400 18.4%,#ff5a00 21.1%,#ff5000 23.7%,#ff4600 26.3%,#ff3d00 28.9%,#ff3300 31.6%,#ff2b00 34.2%,#ff2600 36.8%,#ff2100 39.5%,#ff1c00 42.1%,#ff1700 44.7%,#ff1100 47.4%,#ff0c00 50.0%,#ff0800 52.6%,#ff0400 55.3%,#ff0000 57.9%,#fa0000 60.5%,#f60000 63.2%,#f20000 65.8%,#ec0000 68.4%,#e50000 71.1%,#de0000 73.7%,#d80000 76.3%,#d10000 78.9%,#cb0000 81.6%,#c40000 84.2%,#be0000 86.8%,#b80000 89.5%,#b10000 92.1%,#ab0000 94.7%,#a50000 97.4%,#9e0000 100.0%)"></i>
<i style="background:linear-gradient(90deg,#ffa800 0.0%,#ff9f00 2.6%,#ff9600 5.3%,#ff8d00 7.9%,#ff8400 10.5%,#ff7b00 13.2%,#ff7200 15.8%,#ff6800 18.4%,#ff5e00 21.1%,#ff5500 23.7%,#ff4b00 26.3%,#ff4200 28.9%,#ff3800 31.6%,#ff3000 34.2%,#ff2b00 36.8%,#ff2600 39.5%,#ff2000 42.1%,#ff1b00 44.7%,#ff1600 47.4%,#ff1100 50.0%,#ff0c00 52.6%,#ff0800 55.3%,#ff0400 57.9%,#fe0000 60.5%,#fa0000 63.2%,#f50000 65.8%,#ef0000 68.4%,#e90000 71.1%,#e20000 73.7%,#db0000 76.3%,#d50000 78.9%,#ce0000 81.6%,#c70000 84.2%,#c10000 86.8%,#bb0000 89.5%,#b50000 92.1%,#ae0000 94.7%,#a80000 97.4%,#a20000 100.0%)"></i>
<i style="background:linear-gradient(90deg,#ffab00 0.0%,#ffa300 2.6%,#ff9a00 5.3%,#ff9100 7.9%,#ff8800 10.5%,#ff7f00 13.2%,#ff7600 15.8%,#ff6d00 18.4%,#ff6300 21.1%,#ff5900 23.7%,#ff5000 26.3%,#ff4600 28.9%,#ff3d00 31.6%,#ff3500 34.2%,#ff3000 36.8%,#ff2a00 39.5%,#ff2500 42.1%,#ff1f00 44.7%,#ff1a00 47.4%,#ff1500 50.0%,#ff1000 52.6%,#ff0c00 55.3%,#ff0700 57.9%,#ff0300 60.5%,#fe0000 63.2%,#f90000 65.8%,#f30000 68.4%,#ec0000 71.1%,#e50000 73.7%,#df0000 76.3%,#d80000 78.9%,#d10000 81.6%,#cb0000 84.2%,#c40000 86.8%,#be0000 89.5%,#b80000 92.1%,#b10000 94.7%,#ab0000 97.4%,#a50000 100.0%)"></i>
<i style="background:linear-gradient(90deg,#ffaf00 0.0%,#ffa600 2.6%,#ff9d00 5.3%,#ff9400 7.9%,#ff8c00 10.5%,#ff8300 13.2%,#ff7a00 15.8%,#ff7100 18.4%,#ff6800 21.1%,#ff5e00 23.7%,#ff5500 26.3%,#ff4b00 28.9%,#ff4200 31.6%,#ff3a00 34.2%,#ff3400 36.8%,#ff2f00 39.5%,#ff2900 42.1%,#ff2400 44.7%,#ff1e00 47.4%,#ff1900 50.0%,#ff1400 52.6%,#ff1000 55.3%,#ff0b00 57.9%,#ff0700 60.5%,#ff0200 63.2%,#fd0000 65.8%,#f60000 68.4%,#f00000 71.1%,#e90000 73.7%,#e20000 76.3%,#dc0000 78.9%,#d50000 81.6%,#ce0000 84.2%,#c80000 86.8%,#c10000 89.5%,#bb0000 92.1%,#b50000 94.7%,#ae0000 97.4%,#a80000 100.0%)"></i>
<i style="background:linear-gradient(90deg,#ffb200 0.0%,#ffa900 2.6%,#ffa100 5.3%,#ff9800 7.9%,#ff9000 10.5%,#ff8700 13.2%,#ff7f00 15.8%,#ff7600 18.4%,#ff6c00 21.1%,#ff6300 23.7%,#ff5a00 26.3%,#ff5000 28.9%,#ff4700 31.6%,#ff3f00 34.2%,#ff3900 36.8%,#ff3400 39.5%,#ff2e00 42.1%,#ff2800 44.7%,#ff2300 47.4%,#ff1d00 50.0%,#ff1800 52.6%,#ff1400 55.3%,#ff0f00 57.9%,#ff0b00 60.5%,#ff0600 63.2%,#ff0100 65.8%,#fa0000 68.4%,#f30000 71.1%,#ec0000 73.7%,#e60000 76.3%,#df0000 78.9%,#d80000 81.6%,#d20000 84.2%,#cb0000 86.8%,#c50000 89.5%,#be0000 92.1%,#b80000 94.7%,#b10000 97.4%,#ab0000 100.0%)"></i>
<i style="background:linear-gradient(90deg,#ffb500 0.0%,#ffad00 2.6%,#ffa400 5.3%,#ff9c00 7.9%,#ff9400 10.5%,#ff8b00 13.2%,#ff8300 15.8%,#ff7a00 18.4%,#ff7100 21.1%,#ff6800 23.7%,#ff5e00 26.3%,#ff5500 28.9%,#ff4c00 31.6%,#ff4400 34.2%,#ff3e00 36.8%,#ff3800 39.5%,#ff3300 42.1%,#ff2d00 44.7%,#ff2700 47.4%,#ff2100 50.0%,#ff1d00 52.6%,#ff1800 55.3%,#ff1300 57.9%,#ff0e00 60.5%,#ff0a00 63.2%,#ff0500 65.8%,#fd0000 68.4%,#f70000 71.1%,#f00000 73.7%,#e90000 76.3%,#e20000 78.9%,#dc0000 81.6%,#d50000 84.2%,#ce0000 86.8%,#c80000 89.5%,#c10000 92.1%,#bb0000 94.7%,#b40000 97.4%,#ae0000 100.0%)"></i>
<i style="background:linear-gradient(90deg,#ffb800 0.0%,#ffb000 2.6%,#ffa800 5.3%,#ffa000 7.9%,#ff9800 10.5%,#ff8f00 13.2%,#ff8700 15.8%,#ff7e00 18.4%,#ff7500 21.1%,#ff6c00 23.7%,#ff6300 26.3%,#ff5a00 28.9%,#ff5100 31.6%,#ff4900 34.2%,#ff4300 36.8%,#ff3d00 39.5%,#ff3700 42.1%,#ff3100 44.7%,#ff2b00 47.4%,#ff2600 50.0%,#ff2100 52.6%,#ff1c00 55.3%,#ff1700 57.9%,#ff1200 60.5%,#ff0d00 63.2%,#ff0800 65.8%,#ff0200 68.4%,#fa0000 71.1%,#f30000 73.7%,#ed0000 76.3%,#e60000 78.9%,#df0000 81.6%,#d80000 84.2%,#d20000 86.8%,#cb0000 89.5%,#c50000 92.1%,#be0000 94.7%,#b70000 97.4%,#b10000 100.0%)"></i>
<i style="background:linear-gradient(90deg,#ffbb00 0.0%,#ffb400 2.6%,#ffac00 5.3%,#ffa400 7.9%,#ff9c00 10.5%,#ff9400 13.2%,#ff8c00 15.8%,#ff8300 18.4%,#ff7a00 21.1%,#ff7100 23.7%,#ff6800 26.3%,#ff5f00 28.9%,#ff5600 31.6%,#ff4e00 34.2%,#ff4800 36.8%,#ff4200 39.5%,#ff3c00 42.1%,#ff3600 44.7%,#ff3000 47.4%,#ff2a00 50.0%,#ff2500 52.6%,#ff2000 55.3%,#ff1b00 57.9%,#ff1600 60.5%,#ff1100 63.2%,#ff0c00 65.8%,#ff0600 68.4%,#fe0000 71.1%,#f70000 73.7%,#f00000 76.3%,#e90000 78.9%,#e30000 81.6%,#dc0000 84.2%,#d50000 86.8%,#cf0000 89.5%,#c80000 92.1%,#c10000 94.7%,#bb0000 97.4%,#b40000 100.0%)"></i>
<i style="background:linear-gradient(90deg,#ffbf00 0.0%,#ffb700 2.6%,#ffaf00 5.3%,#ffa700 7.9%,#ffa000 10.5%,#ff9800 13.2%,#ff9000 15.8%,#ff8700 18.4%,#ff7f00 21.1%,#ff7600 23.7%,#ff6d00 26.3%,#ff6400 28.9%,#ff5b00 31.6%,#ff5300 34.2%,#ff4d00 36.8%,#ff4600 39.5%,#ff4000 42.1%,#ff3a00 44.7%,#ff3400 47.4%,#ff2e00 50.0%,#ff2900 52.6%,#ff2400 55.3%,#ff1f00 57.9%,#ff1a00 60.5%,#ff1500 63.2%,#ff1000 65.8%,#ff0900 68.4%,#ff0200 71.1%,#fa0000 73.7%,#f40000 76.3%,#ed0000 78.9%,#e60000 81.6%,#df0000 84.2%,#d80000 86.8%,#d20000 89.5%,#cb0000 92.1%,#c40000 94.7%,#be0000 97.4%,#b70000 100.0%)"></i>
<i style="background:linear-gradient(90deg,#ffc200 0.0%,#ffba00 2.6%,#ffb300 5.3%,#ffab00 7.9%,#ffa300 10.5%,#ff9c00 13.2%,#ff9400 15.8%,#ff8c00 18.4%,#ff8300 21.1%,#ff7a00 23.7%,#ff7100 26.3%,#ff6800 28.9%,#ff5f00 31.6%,#ff5700 34.2%,#ff5100 36.8%,#ff4b00 39.5%,#ff4500 42.1%,#ff3e00 44.7%,#ff3800 47.4%,#ff3200 50.0%,#ff2d00 52.6%,#ff2800 55.3%,#ff2300 57.9%,#ff1d00 60.5%,#ff1800 63.2%,#ff1300 65.8%,#ff0d00 68.4%,#ff0600 71.1%,#fe0000 73.7%,#f70000 76.3%,#f00000 78.9%,#e90000 81.6%,#e20000 84.2%,#dc0000 86.8%,#d50000 89.5%,#ce0000 92.1%,#c70000 94.7%,#c10000 97.4%,#ba0000 100.0%)"></i>
<i style="background:linear-gradient(90deg,#ffc600 0.0%,#ffbe00 2.6%,#ffb600 5.3%,#ffaf00 7.9%,#ffa700 10.5%,#ffa000 13.2%,#ff9800 15.8%,#ff8f00 18.4%,#ff8700 21.1%,#ff7e00 23.7%,#ff7500 26.3%,#ff6c00 28.9%,#ff6400 31.6%,#ff5c00 34.2%,#ff5500 36.8%,#ff4f00 39.5%,#ff4900 42.1%,#ff4300 44.7%,#ff3c00 47.4%,#ff3600 50.0%,#ff3100 52.6%,#ff2c00 55.3%,#ff2600 57.9%,#ff2100 60.5%,#ff1c00 63.2%,#ff1600 65.8%,#ff1000 68.4%,#ff0900 71.1%,#ff0200 73.7%,#fa0000 76.3%,#f30000 78.9%,#ec0000 81.6%,#e60000 84.2%,#df0000 86.8%,#d80000 89.5%,#d10000 92.1%,#ca0000 94.7%,#c40000 97.4%,#bd0000 100.0%)"></i>
<i style="background:linear-gradient(90deg,#ffc900 0.0%,#ffc200 2.6%,#ffba00 5.3%,#ffb200 7.9%,#ffab00 10.5%,#ffa300 13.2%,#ff9c00 15.8%,#ff9300 18.4%,#ff8b00 21.1%,#ff8200 23.7%,#ff7900 26.3%,#ff7100 28.9%,#ff6800 31.6%,#ff6000 34.2%,#ff5a00 36.8%,#ff5300 39.5%,#ff4d00 42.1%,#ff4700 44.7%,#ff4100 47.4%,#ff3a00 50.0%,#ff3500 52.6%,#ff3000 55.3%,#ff2a00 57.9%,#ff2500 60.5%,#ff1f00 63.2%,#ff1a00 65.8%,#ff1300 68.4%,#ff0c00 71.1%,#ff0500 73.7%,#fd0000 76.3%,#f70000 78.9%,#f00000 81.6%,#e90000 84.2%,#e20000 86.8%,#db0000 89.5%,#d40000 92.1%,#cd0000 94.7%,#c70000 97.4%,#c00000 100.0%)"></i>
<i style="background:linear-gradient(90deg,#ffcd00 0.0%,#ffc500 2.6%,#ffbe00 5.3%,#ffb600 7.9%,#ffaf00 10.5%,#ffa700 13.2%,#ff9f00 15.8%,#ff9700 18.4%,#ff8f00 21.1%,#ff8600 23.7%,#ff7d00 26.3%,#ff7500 28.9%,#ff6c00 31.6%,#ff6400 34.2%,#ff5e00 36.8%,#ff5800 39.5%,#ff5100 42.1%,#ff4b00 44.7%,#ff4500 47.4%,#ff3e00 50.0%,#ff3900 52.6%,#ff3300 55.3%,#ff2e00 57.9%,#ff2800 60.5%,#ff2300 63.2%,#ff1d00 65.8%,#ff1700 68.4%,#ff1000 71.1%,#ff0900 73.7%,#ff0200 76.3%,#fa0000 78.9%,#f30000 81.6%,#ec0000 84.2%,#e50000 86.8%,#de0000 89.5%,#d70000 92.1%,#d00000 94.7%,#ca0000 97.4%,#c30000 100.0%)"></i>
<i style="background:linear-gradient(90deg,#ffd000 0.0%,#ffc900 2.6%,#ffc100 5.3%,#ffba00 7.9%,#ffb200 10.5%,#ffab00 13.2%,#ffa300 15.8%,#ff9b00 18.4%,#ff9300 21.1%,#ff8a00 23.7%,#ff8100 26.3%,#ff7900 28.9%,#ff7000 31.6%,#ff6900 34.2%,#ff6200 36.8%,#ff5c00 39.5%,#ff5600 42.1%,#ff4f00 44.7%,#ff4900 47.4%,#ff4300 50.0%,#ff3d00 52.6%,#ff3700 55.3%,#ff3200 57.9%,#ff2c00 60.5%,#ff2600 63.2%,#ff2100 65.8%,#ff1a00 68.4%,#ff1300 71.1%,#ff0c00 73.7%,#ff0500 76.3%,#fd0000 78.9%,#f60000 81.6%,#ef0000 84.2%,#e80000 86.8%,#e10000 89.5%,#da0000 92.1%,#d30000 94.7%,#cd0000 97.4%,#c60000 100.0%)"></i>
<i style="background:linear-gradient(90deg,#ffd400 0.0%,#ffcd00 2.6%,#ffc500 5.3%,#ffbe00 7.9%,#ffb600 10.5%,#ffaf00 13.2%,#ffa700 15.8%,#ff9f00 18.4%,#ff9600 21.1%,#ff8e00 23.7%,#ff8600 26.3%,#ff7d00 28.9%,#ff7500 31.6%,#ff6d00 34.2%,#ff6700 36.8%,#ff6000 39.5%,#ff5a00 42.1%,#ff5300 44.7%,#ff4d00 47.4%,#ff4700 50.0%,#ff4100 52.6%,#ff3b00 55.3%,#ff3500 57.9%,#ff3000 60.5%,#ff2a00 63.2%,#ff2400 65.8%,#ff1d00 68.4%,#ff1600 71.1%,#ff0f00 73.7%,#ff0800 76.3%,#ff0100 78.9%,#f90000 81.6%,#f20000 84.2%,#eb0000 86.8%,#e40000 89.5%,#dd0000 92.1%,#d60000 94.7%,#d00000 97.4%,#c90000 100.0%)"></i>
<i style="background:linear-gradient(90deg,#ffd800 0.0%,#ffd000 2.6%,#ffc900 5.3%,#ffc100 7.9%,#ffba00 10.5%,#ffb200 13.2%,#ffab00 15.8%,#ffa300 18.4%,#ff9a00 21.1%,#ff9200 23.7%,#ff8a00 26.3%,#ff8100 28.9%,#ff7900 31.6%,#ff7200 34.2%,#ff6b00 36.8%,#ff6500 39.5%,#ff5e00 42.1%,#ff5800 44.7%,#ff5100 47.4%,#ff4b00 50.0%,#ff4500 52.6%,#ff3f00 55.3%,#ff3900 57.9%,#ff3300 60.5%,#ff2d00 63.2%,#ff2700 65.8%,#ff2100 68.4%,#ff1a00 71.1%,#ff1300 73.7%,#ff0c00 76.3%,#ff0400 78.9%,#fc0000 81.6%,#f50000 84.2%,#ee0000 86.8%,#e70000 89.5%,#e00000 92.1%,#d90000 94.7%,#d20000 97.4%,#cb0000 100.0%)"></i>
<i style="background:linear-gradient(90deg,#ffdb00 0.0%,#ffd400 2.6%,#ffcc00 5.3%,#ffc500 7.9%,#ffbd00 10.5%,#ffb600 13.2%,#ffaf00 15.8%,#ffa700 18.4%,#ff9e00 21.1%,#ff9600 23.7%,#ff8e00 26.3%,#ff8600 28.9%,#ff7d00 31.6%,#ff7600 34.2%,#ff6f00 36.8%,#ff6900 39.5%,#ff6200 42.1%,#ff5c00 44.7%,#ff5500 47.4%,#ff4f00 50.0%,#ff4900 52.6%,#ff4300 55.3%,#ff3d00 57.9%,#ff3700 60.5%,#ff3100 63.2%,#ff2b00 65.8%,#ff2400 68.4%,#ff1d00 71.1%,#ff1600 73.7%,#ff0f00 76.3%,#ff0800 78.9%,#ff0100 81.6%,#f90000 84.2%,#f20000 86.8%,#eb0000 89.5%,#e30000 92.1%,#dc0000 94.7%,#d50000 97.4%,#ce0000 100.0%)"></i>
<i style="background:linear-gradient(90deg,#ffdf00 0.0%,#ffd700 2.6%,#ffd000 5.3%,#ffc900 7.9%,#ffc100 10.5%,#ffba00 13.2%,#ffb200 15.8%,#ffaa00 18.4%,#ffa200 21.1%,#ff9a00 23.7%,#ff9200 26.3%,#ff8a00 28.9%,#ff8200 31.6%,#ff7a00 34.2%,#ff7400 36.8%,#ff6d00 39.5%,#ff6700 42.1%,#ff6000 44.7%,#ff5a00 47.4%,#ff5300 50.0%,#ff4d00 52.6%,#ff4700 55.3%,#ff4100 57.9%,#ff3b00 60.5%,#ff3400 63.2%,#ff2e00 65.8%,#ff2700 68.4%,#ff2000 71.1%,#ff1900 73.7%,#ff1200 76.3%,#ff0b00 78.9%,#ff0400 81.6%,#fc0000 84.2%,#f50000 86.8%,#ee0000 89.5%,#e70000 92.1%,#df0000 94.7%,#d80000 97.4%,#d10000 100.0%)"></i>
<i style="background:linear-gradient(90deg,#ffe200 0.0%,#ffdb00 2.6%,#ffd400 5.3%,#ffcc00 7.9%,#ffc500 10.5%,#ffbe00 13.2%,#ffb600 15.8%,#ffae00 18.4%,#ffa600 21.1%,#ff9e00 23.7%,#ff9600 26.3%,#ff8e00 28.9%,#ff8600 31.6%,#ff7f00 34.2%,#ff7800 36.8%,#ff7100 39.5%,#ff6b00 42.1%,#ff6400 44.7%,#ff5e00 47.4%,#ff5700 50.0%,#ff5100 52.6%,#ff4b00 55.3%,#ff4400 57.9%,#ff3e00 60.5%,#ff3800 63.2%,#ff3200 65.8%,#ff2b00 68.4%,#ff2400 71.1%,#ff1c00 73.7%,#ff1500 76.3%,#ff0e00 78.9%,#ff0700 81.6%,#ff0000 84.2%,#f80000 86.8%,#f10000 89.5%,#ea0000 92.1%,#e20000 94.7%,#db0000 97.4%,#d40000 100.0%)"></i>
<i style="background:linear-gradient(90deg,#ffe600 0.0%,#ffdf00 2.6%,#ffd700 5.3%,#ffd000 7.9%,#ffc900 10.5%,#ffc100 13.2%,#ffba00 15.8%,#ffb200 18.4%,#ffaa00 21.1%,#ffa200 23.7%,#ff9a00 26.3%,#ff9200 28.9%,#ff8a00 31.6%,#ff8300 34.2%,#ff7c00 36.8%,#ff7600 39.5%,#ff6f00 42.1%,#ff6800 44.7%,#ff6200 47.4%,#ff5b00 50.0%,#ff5500 52.6%,#ff4f00 55.3%,#ff4800 57.9%,#ff4200 60.5%,#ff3b00 63.2%,#ff3500 65.8%,#ff2e00 68.4%,#ff2700 71.1%,#ff2000 73.7%,#ff1900 76.3%,#ff1100 78.9%,#ff0a00 81.6%,#ff0300 84.2%,#fb0000 86.8%,#f40000 89.5%,#ed0000 92.1%,#e50000 94.7%,#de0000 97.4%,#d70000 100.0%)"></i>
<i style="background:linear-gradient(90deg,#ffea00 0.0%,#ffe200 2.6%,#ffdb00 5.3%,#ffd400 7.9%,#ffcc00 10.5%,#ffc500 13.2%,#ffbe00 15.8%,#ffb600 18.4%,#ffae00 21.1%,#ffa600 23.7%,#ff9e00 26.3%,#ff9700 28.9%,#ff8f00 31.6%,#ff8700 34.2%,#ff8100 36.8%,#ff7a00 39.5%,#ff7300 42.1%,#ff6d00 44.7%,#ff6600 47.4%,#ff5f00 50.0%,#ff5900 52.6%,#ff5200 55.3%,#ff4c00 57.9%,#ff4500 60.5%,#ff3f00 63.2%,#ff3800 65.8%,#ff3100 68.4%,#ff2a00 71.1%,#ff2300 73.7%,#ff1c00 76.3%,#ff1500 78.9%,#ff0d00 81.6%,#ff0600 84.2%,#fe0000 86.8%,#f70000 89.5%,#f00000 92.1%,#e80000 94.7%,#e10000 97.4%,#da0000 100.0%)"></i>
<i style="background:linear-gradient(90deg,#ffed00 0.0%,#ffe600 2.6%,#ffdf00 5.3%,#ffd700 7.9%,#ffd000 10.5%,#ffc900 13.2%,#ffc200 15.8%,#ffba00 18.4%,#ffb200 21.1%,#ffaa00 23.7%,#ffa300 26.3%,#ff9b00 28.9%,#ff9300 31.6%,#ff8c00 34.2%,#ff8500 36.8%,#ff7e00 39.5%,#ff7800 42.1%,#ff7100 44.7%,#ff6a00 47.4%,#ff6300 50.0%,#ff5d00 52.6%,#ff5600 55.3%,#ff5000 57.9%,#ff4900 60.5%,#ff4200 63.2%,#ff3c00 65.8%,#ff3500 68.4%,#ff2d00 71.1%,#ff2600 73.7%,#ff1f00 76.3%,#ff1800 78.9%,#ff1100 81.6%,#ff0900 84.2%,#ff0200 86.8%,#fa0000 89.5%,#f30000 92.1%,#eb0000 94.7%,#e40000 97.4%,#dd0000 100.0%)"></i>
<i style="background:linear-gradient(90deg,#fff100 0.0%,#ffe900 2.6%,#ffe200 5.3%,#ffdb00 7.9%,#ffd400 10.5%,#ffcd00 13.2%,#ffc500 15.8%,#ffbe00 18.4%,#ffb600 21.1%,#ffae00 23.7%,#ffa700 26.3%,#ff9f00 28.9%,#ff9700 31.6%,#ff9000 34.2%,#ff8900 36.8%,#ff8300 39.5%,#ff7c00 42.1%,#ff7500 44.7%,#ff6e00 47.4%,#ff6800 50.0%,#ff6100 52.6%,#ff5a00 55.3%,#ff5300 57.9%,#ff4d00 60.5%,#ff4600 63.2%,#ff3f00 65.8%,#ff3800 68.4%,#ff3100 71.1%,#ff2a00 73.7%,#ff2200 76.3%,#ff1b00 78.9%,#ff1400 81.6%,#ff0d00 84.2%,#ff0500 86.8%,#fd0000 89.5%,#f60000 92.1%,#ee0000 94.7%,#e70000 97.4%,#e00000 100.0%)"></i>
<i style="background:linear-gradient(90deg,#fff400 0.0%,#ffed00 2.6%,#ffe600 5.3%,#ffdf00 7.9%,#ffd700 10.5%,#ffd000 13.2%,#ffc900 15.8%,#ffc200 18.4%,#ffba00 21.1%,#ffb200 23.7%,#ffab00 26.3%,#ffa300 28.9%,#ff9c00 31.6%,#ff9400 34.2%,#ff8e00 36.8%,#ff8700 39.5%,#ff8000 42.1%,#ff7900 44.7%,#ff7200 47.4%,#ff6c00 50.0%,#ff6500 52.6%,#ff5e00 55.3%,#ff5700 57.9%,#ff5000 60.5%,#ff4900 63.2%,#ff4300 65.8%,#ff3b00 68.4%,#ff3400 71.1%,#ff2d00 73.7%,#ff2600 76.3%,#ff1e00 78.9%,#ff1700 81.6%,#ff1000 84.2%,#ff0800 86.8%,#ff0100 89.5%,#f90000 92.1%,#f10000 94.7%,#ea0000 97.4%,#e30000 100.0%)"></i>
<i style="background:linear-gradient(90deg,#fff800 0.0%,#fff100 2.6%,#ffea00 5.3%,#ffe200 7.9%,#ffdb00 10.5%,#ffd400 13.2%,#ffcd00 15.8%,#ffc500 18.4%,#ffbe00 21.1%,#ffb600 23.7%,#ffaf00 26.3%,#ffa700 28.9%,#ffa000 31.6%,#ff9900 34.2%,#ff9200 36.8%,#ff8b00 39.5%,#ff8400 42.1%,#ff7d00 44.7%,#ff7700 47.4%,#ff7000 50.0%,#ff6900 52.6%,#ff6200 55.3%,#ff5b00 57.9%,#ff5400 60.5%,#ff4d00 63.2%,#ff4600 65.8%,#ff3f00 68.4%,#ff3700 71.1%,#ff3000 73.7%,#ff2900 76.3%,#ff2100 78.9%,#ff1a00 81.6%,#ff1300 84.2%,#ff0b00 86.8%,#ff0400 89.5%,#fc0000 92.1%,#f40000 94.7%,#ed0000 97.4%,#e60000 100.0%)"></i>
<i style="background:linear-gradient(90deg,#fffb00 0.0%,#fff400 2.6%,#ffed00 5.3%,#ffe600 7.9%,#ffdf00 10.5%,#ffd800 13.2%,#ffd100 15.8%,#ffc900 18.4%,#ffc200 21.1%,#ffba00 23.7%,#ffb300 26.3%,#ffac00 28.9%,#ffa400 31.6%,#ff9d00 34.2%,#ff9600 36.8%,#ff8f00 39.5%,#ff8800 42.1%,#ff8200 44.7%,#ff7b00 47.4%,#ff7400 50.0%,#ff6d00 52.6%,#ff6600 55.3%,#ff5f00 57.9%,#ff5800 60.5%,#ff5000 63.2%,#ff4900 65.8%,#ff4200 68.4%,#ff3b00 71.1%,#ff3300 73.7%,#ff2c00 76.3%,#ff2500 78.9%,#ff1d00 81.6%,#ff1600 84.2%,#ff0f00 86.8%,#ff0700 89.5%,#ff0000 92.1%,#f70000 94.7%,#f00000 97.4%,#e90000 100.0%)"></i>
<i style="background:linear-gradient(90deg,#ffff00 0.0%,#fff800 2.6%,#fff100 5.3%,#ffea00 7.9%,#ffe300 10.5%,#ffdc00 13.2%,#ffd400 15.8%,#ffcd00 18.4%,#ffc600 21.1%,#ffbf00 23.7%,#ffb700 26.3%,#ffb000 28.9%,#ffa900 31.6%,#ffa100 34.2%,#ff9a00 36.8%,#ff9400 39.5%,#ff8d00 42.1%,#ff8600 44.7%,#ff7f00 47.4%,#ff7800 50.0%,#ff7100 52.6%,#ff6a00 55.3%,#ff6200 57.9%,#ff5b00 60.5%,#ff5400 63.2%,#ff4d00 65.8%,#ff4500 68.4%,#ff3e00 71.1%,#ff3700 73.7%,#ff2f00 76.3%,#ff2800 78.9%,#ff2100 81.6%,#ff1900 84.2%,#ff1200 86.8%,#ff0a00 89.5%,#ff0300 92.1%,#fa0000 94.7%,#f30000 97.4%,#ec0000 100.0%)"></i>
<i style="background:linear-gradient(90deg,#fbff04 0.0%,#fffc00 2.6%,#fff500 5.3%,#ffed00 7.9%,#ffe600 10.5%,#ffdf00 13.2%,#ffd800 15.8%,#ffd100 18.4%,#ffca00 21.1%,#ffc300 23.7%,#ffbb00 26.3%,#ffb400 28.9%,#ffad00 31.6%,#ffa600 34.2%,#ff9f00 36.8%,#ff9800 39.5%,#ff9100 42.1%,#ff8a00 44.7%,#ff8300 47.4%,#ff7c00 50.0%,#ff7500 52.6%,#ff6e00 55.3%,#ff6600 57.9%,#ff5f00 60.5%,#ff5800 63.2%,#ff5000 65.8%,#ff4900 68.4%,#ff4100 71.1%,#ff3a00 73.7%,#ff3300 76.3%,#ff2b00 78.9%,#ff2400 81.6%,#ff1c00 84.2%,#ff1500 86.8%,#ff0d00 89.5%,#ff0600 92.1%,#fd0000 94.7%,#f60000 97.4%,#ef0000 100.0%)"></i>
<i style="background:linear-gradient(90deg,#f8ff07 0.0%,#ffff00 2.6%,#fff800 5.3%,#fff100 7.9%,#ffea00 10.5%,#ffe300 13.2%,#ffdc00 15.8%,#ffd500 18.4%,#ffce00 21.1%,#ffc700 23.7%,#ffbf00 26.3%,#ffb800 28.9%,#ffb100 31.6%,#ffaa00 34.2%,#ffa300 36.8%,#ff9c00 39.5%,#ff9500 42.1%,#ff8e00 44.7%,#ff8700 47.4%,#ff8000 50.0%,#ff7900 52.6%,#ff7100 55.3%,#ff6a00 57.9%,#ff6200 60.5%,#ff5b00 63.2%,#ff5400 65.8%,#ff4c00 68.4%,#ff4500 71.1%,#ff3d00 73.7%,#ff3600 76.3%,#ff2e00 78.9%,#ff2700 81.6%,#ff1f00 84.2%,#ff1800 86.8%,#ff1000 89.5%,#ff0900 92.1%,#ff0100 94.7%,#f90000 97.4%,#f10000 100.0%)"></i>
<i style="background:linear-gradient(90deg,#f4ff0b 0.0%,#fbff04 2.6%,#fffc00 5.3%,#fff500 7.9%,#ffee00 10.5%,#ffe700 13.2%,#ffe000 15.8%,#ffd900 18.4%,#ffd200 21.1%,#ffcb00 23.7%,#ffc400 26.3%,#ffbd00 28.9%,#ffb500 31.6%,#ffae00 34.2%,#ffa700 36.8%,#ffa000 39.5%,#ff9900 42.1%,#ff9200 44.7%,#ff8b00 47.4%,#ff8400 50.0%,#ff7d00 52.6%,#ff7500 55.3%,#ff6e00 57.9%,#ff6600 60.5%,#ff5f00 63.2%,#ff5700 65.8%,#ff4f00 68.4%,#ff4800 71.1%,#ff4100 73.7%,#ff3900 76.3%,#ff3200 78.9%,#ff2a00 81.6%,#ff2300 84.2%,#ff1b00 86.8%,#ff1400 89.5%,#ff0c00 92.1%,#ff0400 94.7%,#fc0000 97.4%,#f40000 100.0%)"></i>
<i style="background:linear-gradient(90deg,#f0ff0f 0.0%,#f7ff08 2.6%,#feff01 5.3%,#fff900 7.9%,#fff200 10.5%,#ffeb00 13.2%,#ffe400 15.8%,#ffdd00 18.4%,#ffd600 21.1%,#ffcf00 23.7%,#ffc800 26.3%,#ffc100 28.9%,#ffba00 31.6%,#ffb300 34.2%,#ffac00 36.8%,#ffa500 39.5%,#ff9e00 42.1%,#ff9700 44.7%,#ff8f00 47.4%,#ff8800 50.0%,#ff8100 52.6%,#ff7900 55.3%,#ff7100 57.9%,#ff6a00 60.5%,#ff6200 63.2%,#ff5b00 65.8%,#ff5300 68.4%,#ff4b00 71.1%,#ff4400 73.7%,#ff3c00 76.3%,#ff3500 78.9%,#ff2d00 81.6%,#ff2600 84.2%,#ff1e00 86.8%,#ff1700 89.5%,#ff0f00 92.1%,#ff0800 94.7%,#ff0000 97.4%,#f80000 100.0%)"></i>
<i style="background:linear-gradient(90deg,#edff12 0.0%,#f4ff0b 2.6%,#fbff04 5.3%,#fffc00 7.9%,#fff500 10.5%,#ffef00 13.2%,#ffe800 15.8%,#ffe100 18.4%,#ffda00 21.1%,#ffd300 23.7%,#ffcc00 26.3%,#ffc500 28.9%,#ffbe00 31.6%,#ffb700 34.2%,#ffb000 36.8%,#ffa800 39.5%,#ffa100 42.1%,#ff9a00 44.7%,#ff9300 47.4%,#ff8c00 50.0%,#ff8500 52.6%,#ff7d00 55.3%,#ff7500 57.9%,#ff6e00 60.5%,#ff6600 63.2%,#ff5e00 65.8%,#ff5700 68.4%,#ff4f00 71.1%,#ff4700 73.7%,#ff4000 76.3%,#ff3800 78.9%,#ff3100 81.6%,#ff2900 84.2%,#ff2100 86.8%,#ff1a00 89.5%,#ff1200 92.1%,#ff0b00 94.7%,#ff0300 97.4%,#fb0000 100.0%)"></i>
<i style="background:linear-gradient(90deg,#e9ff16 0.0%,#f0ff0f 2.6%,#f7ff08 5.3%,#feff01 7.9%,#fff900 10.5%,#fff200 13.2%,#ffeb00 15.8%,#ffe400 18.4%,#ffdd00 21.1%,#ffd600 23.7%,#ffd000 26.3%,#ffc900 28.9%,#ffc200 31.6%,#ffbb00 34.2%,#ffb300 36.8%,#ffac00 39.5%,#ffa500 42.1%,#ff9e00 44.7%,#ff9700 47.4%,#ff9000 50.0%,#ff8800 52.6%,#ff8100 55.3%,#ff7900 57.9%,#ff7100 60.5%,#ff6a00 63.2%,#ff6200 65.8%,#ff5a00 68.4%,#ff5300 71.1%,#ff4b00 73.7%,#ff4300 76.3%,#ff3c00 78.9%,#ff3400 81.6%,#ff2c00 84.2%,#ff2500 86.8%,#ff1d00 89.5%,#ff1600 92.1%,#ff0e00 94.7%,#ff0700 97.4%,#fe0000 100.0%)"></i>
<i style="background:linear-gradient(90deg,#e5ff1a 0.0%,#ecff13 2.6%,#f3ff0c 5.3%,#faff05 7.9%,#fffd00 10.5%,#fff600 13.2%,#ffef00 15.8%,#ffe800 18.4%,#ffe100 21.1%,#ffda00 23.7%,#ffd300 26.3%,#ffcc00 28.9%,#ffc600 31.6%,#ffbf00 34.2%,#ffb700 36.8%,#ffb000 39.5%,#ffa900 42.1%,#ffa200 44.7%,#ff9b00 47.4%,#ff9400 50.0%,#ff8c00 52.6%,#ff8400 55.3%,#ff7d00 57.9%,#ff7500 60.5%,#ff6e00 63.2%,#ff6600 65.8%,#ff5e00 68.4%,#ff5600 71.1%,#ff4e00 73.7%,#ff4700 76.3%,#ff3f00 78.9%,#ff3700 81.6%,#ff2f00 84.2%,#ff2800 86.8%,#ff2100 89.5%,#ff1900 92.1%,#ff1200 94.7%,#ff0a00 97.4%,#ff0300 100.0%)"></i>
<i style="background:linear-gradient(90deg,#e1ff1e 0.0%,#e8ff17 2.6%,#efff10 5.3%,#f6ff09 7.9%,#fdff02 10.5%,#fffa00 13.2%,#fff300 15.8%,#ffec00 18.4%,#ffe500 21.1%,#ffde00 23.7%,#ffd700 26.3%,#ffd000 28.9%,#ffca00 31.6%,#ffc200 34.2%,#ffbb00 36.8%,#ffb400 39.5%,#ffad00 42.1%,#ffa600 44.7%,#ff9f00 47.4%,#ff9800 50.0%,#ff9000 52.6%,#ff8800 55.3%,#ff8100 57.9%,#ff7900 60.5%,#ff7100 63.2%,#ff6a00 65.8%,#ff6200 68.4%,#ff5a00 71.1%,#ff5200 73.7%,#ff4a00 76.3%,#ff4200 78.9%,#ff3a00 81.6%,#ff3300 84.2%,#ff2b00 86.8%,#ff2400 89.5%,#ff1c00 92.1%,#ff1500 94.7%,#ff0e00 97.4%,#ff0600 100.0%)"></i>
<i style="background:linear-gradient(90deg,#ddff22 0.0%,#e4ff1b 2.6%,#ebff14 5.3%,#f2ff0d 7.9%,#f9ff06 10.5%,#fffe00 13.2%,#fff700 15.8%,#fff000 18.4%,#ffe900 21.1%,#ffe200 23.7%,#ffdb00 26.3%,#ffd400 28.9%,#ffcd00 31.6%,#ffc600 34.2%,#ffbf00 36.8%,#ffb800 39.5%,#ffb100 42.1%,#ffaa00 44.7%,#ffa300 47.4%,#ff9b00 50.0%,#ff9400 52.6%,#ff8c00 55.3%,#ff8400 57.9%,#ff7d00 60.5%,#ff7500 63.2%,#ff6d00 65.8%,#ff6600 68.4%,#ff5e00 71.1%,#ff5600 73.7%,#ff4e00 76.3%,#ff4500 78.9%,#ff3d00 81.6%,#ff3600 84.2%,#ff2e00 86.8%,#ff2700 89.5%,#ff2000 92.1%,#ff1800 94.7%,#ff1100 97.4%,#ff0a00 100.0%)"></i>
<i style="background:linear-gradient(90deg,#d9ff26 0.0%,#e0ff1f 2.6%,#e7ff18 5.3%,#eeff11 7.9%,#f5ff0a 10.5%,#fcff03 13.2%,#fffb00 15.8%,#fff400 18.4%,#ffed00 21.1%,#ffe600 23.7%,#ffdf00 26.3%,#ffd800 28.9%,#ffd100 31.6%,#ffca00 34.2%,#ffc300 36.8%,#ffbc00 39.5%,#ffb500 42.1%,#ffae00 44.7%,#ffa600 47.4%,#ff9f00 50.0%,#ff9800 52.6%,#ff9000 55.3%,#ff8800 57.9%,#ff8100 60.5%,#ff7900 63.2%,#ff7100 65.8%,#ff6900 68.4%,#ff6100 71.1%,#ff5900 73.7%,#ff5100 76.3%,#ff4900 78.9%,#ff4100 81.6%,#ff3900 84.2%,#ff3200 86.8%,#ff2a00 89.5%,#ff2300 92.1%,#ff1c00 94.7%,#ff1400 97.4%,#ff0d00 100.0%)"></i>
<i style="background:linear-gradient(90deg,#d5ff2a 0.0%,#dcff23 2.6%,#e3ff1c 5.3%,#eaff15 7.9%,#f1ff0e 10.5%,#f8ff07 13.2%,#ffff00 15.8%,#fff800 18.4%,#fff100 21.1%,#ffea00 23.7%,#ffe300 26.3%,#ffdc00 28.9%,#ffd500 31.6%,#ffce00 34.2%,#ffc700 36.8%,#ffc000 39.5%,#ffb900 42.1%,#ffb100 44.7%,#ffaa00 47.4%,#ffa300 50.0%,#ff9b00 52.6%,#ff9400 55.3%,#ff8c00 57.9%,#ff8400 60.5%,#ff7d00 63.2%,#ff7500 65.8%,#ff6d00 68.4%,#ff6500 71.1%,#ff5d00 73.7%,#ff5400 76.3%,#ff4c00 78.9%,#ff4400 81.6%,#ff3c00 84.2%,#ff3500 86.8%,#ff2e00 89.5%,#ff2600 92.1%,#ff1f00 94.7%,#ff1800 97.4%,#ff1100 100.0%)"></i>
<i style="background:linear-gradient(90deg,#d1ff2e 0.0%,#d8ff27 2.6%,#dfff20 5.3%,#e6ff19 7.9%,#edff12 10.5%,#f4ff0b 13.2%,#fbff04 15.8%,#fffc00 18.4%,#fff500 21.1%,#ffee00 23.7%,#ffe700 26.3%,#ffe000 28.9%,#ffd900 31.6%,#ffd200 34.2%,#ffcb00 36.8%,#ffc400 39.5%,#ffbd00 42.1%,#ffb500 44.7%,#ffae00 47.4%,#ffa700 50.0%,#ff9f00 52.6%,#ff9700 55.3%,#ff9000 57.9%,#ff8800 60.5%,#ff8100 63.2%,#ff7900 65.8%,#ff7100 68.4%,#ff6800 71.1%,#ff6000 73.7%,#ff5800 76.3%,#ff4f00 78.9%,#ff4700 81.6%,#ff3f00 84.2%,#ff3800 86.8%,#ff3100 89.5%,#ff2a00 92.1%,#ff2200 94.7%,#ff1b00 97.4%,#ff1400 100.0%)"></i>
<i style="background:linear-gradient(90deg,#cdff32 0.0%,#d4ff2b 2.6%,#dbff24 5.3%,#e2ff1d 7.9%,#e9ff16 10.5%,#f0ff0f 13.2%,#f7ff08 15.8%,#feff01 18.4%,#fff900 21.1%,#fff200 23.7%,#ffeb00 26.3%,#ffe400 28.9%,#ffdd00 31.6%,#ffd600 34.2%,#ffcf00 36.8%,#ffc800 39.5%,#ffc000 42.1%,#ffb900 44.7%,#ffb200 47.4%,#ffab00 50.0%,#ffa300 52.6%,#ff9b00 55.3%,#ff9400 57.9%,#ff8c00 60.5%,#ff8400 63.2%,#ff7d00 65.8%,#ff7400 68.4%,#ff6c00 71.1%,#ff6400 73.7%,#ff5b00 76.3%,#ff5300 78.9%,#ff4a00 81.6%,#ff4300 84.2%,#ff3b00 86.8%,#ff3400 89.5%,#ff2d00 92.1%,#ff2600 94.7%,#ff1f00 97.4%,#ff1700 100.0%)"></i>
<i style="background:linear-gradient(90deg,#caff35 0.0%,#d1ff2e 2.6%,#d8ff27 5.3%,#dfff20 7.9%,#e5ff1a 10.5%,#ecff13 13.2%,#f3ff0c 15.8%,#faff05 18.4%,#fffd00 21.1%,#fff600 23.7%,#ffef00 26.3%,#ffe800 28.9%,#ffe100 31.6%,#ffda00 34.2%,#ffd300 36.8%,#ffcc00 39.5%,#ffc400 42.1%,#ffbd00 44.7%,#ffb600 47.4%,#ffae00 50.0%,#ffa700 52.6%,#ff9f00 55.3%,#ff9700 57.9%,#ff9000 60.5%,#ff8800 63.2%,#ff8000 65.8%,#ff7800 68.4%,#ff7000 71.1%,#ff6700 73.7%,#ff5f00 76.3%,#ff5600 78.9%,#ff4e00 81.6%,#ff4600 84.2%,#ff3f00 86.8%,#ff3700 89.5%,#ff3000 92.1%,#ff2900 94.7%,#ff2200 97.4%,#ff1b00 100.0%)"></i>
<i style="background:linear-gradient(90deg,#c6ff39 0.0%,#cdff32 2.6%,#d4ff2b 5.3%,#dbff24 7.9%,#e2ff1d 10.5%,#e9ff16 13.2%,#f0ff0f 15.8%,#f6ff09 18.4%,#fdff02 21.1%,#fffa00 23.7%,#fff300 26.3%,#ffec00 28.9%,#ffe500 31.6%,#ffde00 34.2%,#ffd700 36.8%,#ffd000 39.5%,#ffc800 42.1%,#ffc100 44.7%,#ffba00 47.4%,#ffb200 50.0%,#ffab00 52.6%,#ffa300 55.3%,#ff9b00 57.9%,#ff9400 60.5%,#ff8c00 63.2%,#ff8400 65.8%,#ff7c00 68.4%,#ff7300 71.1%,#ff6b00 73.7%,#ff6200 76.3%,#ff5900 78.9%,#ff5100 81.6%,#ff4900 84.2%,#ff4200 86.8%,#ff3b00 89.5%,#ff3400 92.1%,#ff2d00 94.7%,#ff2500 97.4%,#ff1e00 100.0%)"></i>
<i style="background:linear-gradient(90deg,#c2ff3d 0.0%,#c9ff36 2.6%,#d0ff2f 5.3%,#d7ff28 7.9%,#deff21 10.5%,#e5ff1a 13.2%,#ecff13 15.8%,#f3ff0c 18.4%,#f9ff06 21.1%,#fffe00 23.7%,#fff700 26.3%,#fff000 28.9%,#ffe900 31.6%,#ffe200 34.2%,#ffdb00 36.8%,#ffd400 39.5%,#ffcc00 42.1%,#ffc500 44.7%,#ffbd00 47.4%,#ffb600 50.0%,#ffae00 52.6%,#ffa700 55.3%,#ff9f00 57.9%,#ff9700 60.5%,#ff9000 63.2%,#ff8800 65.8%,#ff8000 68.4%,#ff7700 71.1%,#ff6e00 73.7%,#ff6500 76.3%,#ff5d00 78.9%,#ff5400 81.6%,#ff4c00 84.2%,#ff4500 86.8%,#ff3e00 89.5%,#ff3700 92.1%,#ff3000 94.7%,#ff2900 97.4%,#ff2200 100.0%)"></i>
<i style="background:linear-gradient(90deg,#beff41 0.0%,#c5ff3a 2.6%,#ccff33 5.3%,#d3ff2c 7.9%,#daff25 10.5%,#e1ff1e 13.2%,#e8ff17 15.8%,#efff10 18.4%,#f5ff0a 21.1%,#fcff03 23.7%,#fffb00 26.3%,#fff400 28.9%,#ffed00 31.6%,#ffe600 34.2%,#ffdf00 36.8%,#ffd700 39.5%,#ffd000 42.1%,#ffc900 44.7%,#ffc100 47.4%,#ffba00 50.0%,#ffb200 52.6%,#ffaa00 55.3%,#ffa300 57.9%,#ff9b00 60.5%,#ff9400 63.2%,#ff8c00 65.8%,#ff8300 68.4%,#ff7b00 71.1%,#ff7200 73.7%,#ff6900 76.3%,#ff6000 78.9%,#ff5700 81.6%,#ff4f00 84.2%,#ff4800 86.8%,#ff4100 89.5%,#ff3a00 92.1%,#ff3300 94.7%,#ff2c00 97.4%,#ff2500 100.0%)"></i>
<i style="background:linear-gradient(90deg,#baff45 0.0%,#c1ff3e 2.6%,#c8ff37 5.3%,#cfff30 7.9%,#d6ff29 10.5%,#ddff22 13.2%,#e4ff1b 15.8%,#ebff14 18.4%,#f2ff0d 21.1%,#f8ff07 23.7%,#ffff00 26.3%,#fff800 28.9%,#fff100 31.6%,#ffea00 34.2%,#ffe300 36.8%,#ffdb00 39.5%,#ffd400 42.1%,#ffcc00 44.7%,#ffc500 47.4%,#ffbe00 50.0%,#ffb600 52.6%,#ffae00 55.3%,#ffa700 57.9%,#ff9f00 60.5%,#ff9700 63.2%,#ff9000 65.8%,#ff8700 68.4%,#ff7e00 71.1%,#ff7500 73.7%,#ff6c00 76.3%,#ff6300 78.9%,#ff5b00 81.6%,#ff5300 84.2%,#ff4c00 86.8%,#ff4500 89.5%,#ff3e00 92.1%,#ff3700 94.7%,#ff3000 97.4%,#ff2900 100.0%)"></i>
<i style="background:linear-gradient(90deg,#b6ff49 0.0%,#bdff42 2.6%,#c4ff3b 5.3%,#cbff34 7.9%,#d2ff2d 10.5%,#d9ff26 13.2%,#e0ff1f 15.8%,#e7ff18 18.4%,#eeff11 21.1%,#f4ff0b 23.7%,#fbff04 26.3%,#fffc00 28.9%,#fff500 31.6%,#ffee00 34.2%,#ffe700 36.8%,#ffdf00 39.5%,#ffd800 42.1%,#ffd000 44.7%,#ffc900 47.4%,#ffc100 50.0%,#ffba00 52.6%,#ffb200 55.3%,#ffaa00 57.9%,#ffa300 60.5%,#ff9b00 63.2%,#ff9300 65.8%,#ff8b00 68.4%,#ff8200 71.1%,#ff7900 73.7%,#ff7000 76.3%,#ff6700 78.9%,#ff5e00 81.6%,#ff5600 84.2%,#ff4f00 86.8%,#ff4800 89.5%,#ff4100 92.1%,#ff3a00 94.7%,#ff3300 97.4%,#ff2c00 100.0%)"></i>
<i style="background:linear-gradient(90deg,#b2ff4d 0.0%,#b9ff46 2.6%,#c0ff3f 5.3%,#c7ff38 7.9%,#ceff31 10.5%,#d5ff2a 13.2%,#dcff23 15.8%,#e3ff1c 18.4%,#eaff15 21.1%,#f0ff0f 23.7%,#f7ff08 26.3%,#feff01 28.9%,#fff900 31.6%,#fff200 34.2%,#ffeb00 36.8%,#ffe300 39.5%,#ffdc00 42.1%,#ffd400 44.7%,#ffcd00 47.4%,#ffc500 50.0%,#ffbd00 52.6%,#ffb600 55.3%,#ffae00 57.9%,#ffa700 60.5%,#ff9f00 63.2%,#ff9700 65.8%,#ff8e00 68.4%,#ff8500 71.1%,#ff7c00 73.7%,#ff7300 76.3%,#ff6a00 78.9%,#ff6100 81.6%,#ff5900 84.2%,#ff5200 86.8%,#ff4b00 89.5%,#ff4400 92.1%,#ff3d00 94.7%,#ff3600 97.4%,#ff2f00 100.0%)"></i>
<i style="background:linear-gradient(90deg,#aeff51 0.0%,#b5ff4a 2.6%,#bcff43 5.3%,#c3ff3c 7.9%,#caff35 10.5%,#d1ff2e 13.2%,#d8ff27 15.8%,#dfff20 18.4%,#e6ff19 21.1%,#edff12 23.7%,#f3ff0c 26.3%,#faff05 28.9%,#fffd00 31.6%,#fff600 34.2%,#ffef00 36.8%,#ffe700 39.5%,#ffe000 42.1%,#ffd800 44.7%,#ffd000 47.4%,#ffc900 50.0%,#ffc100 52.6%,#ffba00 55.3%,#ffb200 57.9%,#ffaa00 60.5%,#ffa300 63.2%,#ff9b00 65.8%,#ff9200 68.4%,#ff8900 71.1%,#ff8000 73.7%,#ff7700 76.3%,#ff6d00 78.9%,#ff6400 81.6%,#ff5c00 84.2%,#ff5500 86.8%,#ff4e00 89.5%,#ff4800 92.1%,#ff4100 94.7%,#ff3a00 97.4%,#ff3300 100.0%)"></i>
<i style="background:linear-gradient(90deg,#aaff55 0.0%,#b1ff4e 2.6%,#b8ff47 5.3%,#bfff40 7.9%,#c6ff39 10.5%,#cdff32 13.2%,#d4ff2b 15.8%,#dbff24 18.4%,#e2ff1d 21.1%,#e9ff16 23.7%,#efff10 26.3%,#f6ff09 28.9%,#fdff02 31.6%,#fffa00 34.2%,#fff300 36.8%,#ffeb00 39.5%,#ffe300 42.1%,#ffdc00 44.7%,#ffd400 47.4%,#ffcd00 50.0%,#ffc500 52.6%,#ffbd00 55.3%,#ffb600 57.9%,#ffae00 60.5%,#ffa600 63.2%,#ff9f00 65.8%,#ff9600 68.4%,#ff8d00 71.1%,#ff8300 73.7%,#ff7a00 76.3%,#ff7100 78.9%,#ff6700 81.6%,#ff5f00 84.2%,#ff5900 86.8%,#ff5200 89.5%,#ff4b00 92.1%,#ff4400 94.7%,#ff3d00 97.4%,#ff3600 100.0%)"></i>
<i style="background:linear-gradient(90deg,#a7ff58 0.0%,#aeff51 2.6%,#b5ff4a 5.3%,#bbff44 7.9%,#c2ff3d 10.5%,#c9ff36 13.2%,#d0ff2f 15.8%,#d7ff28 18.4%,#deff21 21.1%,#e5ff1a 23.7%,#ebff14 26.3%,#f2ff0d 28.9%,#f9ff06 31.6%,#fffe00 34.2%,#fff600 36.8%,#ffef00 39.5%,#ffe700 42.1%,#ffe000 44.7%,#ffd800 47.4%,#ffd100 50.0%,#ffc900 52.6%,#ffc100 55.3%,#ffba00 57.9%,#ffb200 60.5%,#ffaa00 63.2%,#ffa300 65.8%,#ff9a00 68.4%,#ff9000 71.1%,#ff8700 73.7%,#ff7d00 76.3%,#ff7400 78.9%,#ff6b00 81.6%,#ff6300 84.2%,#ff5c00 86.8%,#ff5500 89.5%,#ff4e00 92.1%,#ff4700 94.7%,#ff4100 97.4%,#ff3a00 100.0%)"></i>
<i style="background:linear-gradient(90deg,#a3ff5c 0.0%,#aaff55 2.6%,#b1ff4e 5.3%,#b8ff47 7.9%,#bfff40 10.5%,#c6ff39 13.2%,#cdff32 15.8%,#d3ff2c 18.4%,#daff25 21.1%,#e1ff1e 23.7%,#e7ff18 26.3%,#eeff11 28.9%,#f5ff0a 31.6%,#fcff03 34.2%,#fffa00 36.8%,#fff300 39.5%,#ffeb00 42.1%,#ffe400 44.7%,#ffdc00 47.4%,#ffd400 50.0%,#ffcd00 52.6%,#ffc500 55.3%,#ffbd00 57.9%,#ffb600 60.5%,#ffae00 63.2%,#ffa600 65.8%,#ff9d00 68.4%,#ff9400 71.1%,#ff8a00 73.7%,#ff8100 76.3%,#ff7700 78.9%,#ff6e00 81.6%,#ff6600 84.2%,#ff5f00 86.8%,#ff5800 89.5%,#ff5100 92.1%,#ff4b00 94.7%,#ff4400 97.4%,#ff3d00 100.0%)"></i>
<i style="background:linear-gradient(90deg,#9fff60 0.0%,#a6ff59 2.6%,#adff52 5.3%,#b4ff4b 7.9%,#bbff44 10.5%,#c2ff3d 13.2%,#c9ff36 15.8%,#d0ff2f 18.4%,#d6ff29 21.1%,#ddff22 23.7%,#e4ff1b 26.3%,#ebff14 28.9%,#f1ff0e 31.6%,#f8ff07 34.2%,#fffe00 36.8%,#fff600 39.5%,#ffef00 42.1%,#ffe700 44.7%,#ffdf00 47.4%,#ffd800 50.0%,#ffd000 52.6%,#ffc800 55.3%,#ffc100 57.9%,#ffb900 60.5%,#ffb100 63.2%,#ffaa00 65.8%,#ffa000 68.4%,#ff9700 71.1%,#ff8d00 73.7%,#ff8400 76.3%,#ff7a00 78.9%,#ff7100 81.6%,#ff6900 84.2%,#ff6200 86.8%,#ff5b00 89.5%,#ff5500 92.1%,#ff4e00 94.7%,#ff4700 97.4%,#ff4100 100.0%)"></i>
<i style="background:linear-gradient(90deg,#9bff64 0.0%,#a2ff5d 2.6%,#a9ff56 5.3%,#b1ff4e 7.9%,#b8ff47 10.5%,#bfff40 13.2%,#c6ff39 15.8%,#cdff32 18.4%,#d4ff2b 21.1%,#dbff24 23.7%,#e2ff1d 26.3%,#e8ff17 28.9%,#efff10 31.6%,#f6ff09 34.2%,#feff01 36.8%,#fff800 39.5%,#fff100 42.1%,#ffe900 44.7%,#ffe100 47.4%,#ffd900 50.0%,#ffd200 52.6%,#ffca00 55.3%,#ffc200 57.9%,#ffba00 60.5%,#ffb300 63.2%,#ffab00 65.8%,#ffa200 68.4%,#ff9900 71.1%,#ff8f00 73.7%,#ff8600 76.3%,#ff7d00 78.9%,#ff7400 81.6%,#ff6c00 84.2%,#ff6500 86.8%,#ff5f00 89.5%,#ff5800 92.1%,#ff5100 94.7%,#ff4b00 97.4%,#ff4400 100.0%)"></i>
<i style="background:linear-gradient(90deg,#98ff67 0.0%,#9fff60 2.6%,#a6ff59 5.3%,#adff52 7.9%,#b5ff4a 10.5%,#bcff43 13.2%,#c3ff3c 15.8%,#caff35 18.4%,#d1ff2e 21.1%,#d8ff27 23.7%,#dfff20 26.3%,#e6ff19 28.9%,#edff12 31.6%,#f4ff0b 34.2%,#fcff03 36.8%,#fffa00 39.5%,#fff200 42.1%,#ffeb00 44.7%,#ffe300 47.4%,#ffdb00 50.0%,#ffd300 52.6%,#ffcc00 55.3%,#ffc400 57.9%,#ffbc00 60.5%,#ffb400 63.2%,#ffac00 65.8%,#ffa300 68.4%,#ff9a00 71.1%,#ff9100 73.7%,#ff8800 76.3%,#ff7f00 78.9%,#ff7600 81.6%,#ff6e00 84.2%,#ff6800 86.8%,#ff6200 89.5%,#ff5b00 92.1%,#ff5500 94.7%,#ff4e00 97.4%,#ff4800 100.0%)"></i>
<i style="background:linear-gradient(90deg,#94ff6b 0.0%,#9bff64 2.6%,#a3ff5c 5.3%,#aaff55 7.9%,#b1ff4e 10.5%,#b9ff46 13.2%,#c0ff3f 15.8%,#c7ff38 18.4%,#cfff30 21.1%,#d6ff29 23.7%,#ddff22 26.3%,#e4ff1b 28.9%,#ebff14 31.6%,#f3ff0c 34.2%,#faff05 36.8%,#fffc00 39.5%,#fff400 42.1%,#ffed00 44.7%,#ffe500 47.4%,#ffdd00 50.0%,#ffd500 52.6%,#ffcd00 55.3%,#ffc500 57.9%,#ffbd00 60.5%,#ffb600 63.2%,#ffae00 65.8%,#ffa500 68.4%,#ff9c00 71.1%,#ff9300 73.7%,#ff8a00 76.3%,#ff8100 78.9%,#ff7900 81.6%,#ff7100 84.2%,#ff6b00 86.8%,#ff6500 89.5%,#ff5e00 92.1%,#ff5800 94.7%,#ff5200 97.4%,#ff4c00 100.0%)"></i>
<i style="background:linear-gradient(90deg,#90ff6f 0.0%,#98ff67 2.6%,#9fff60 5.3%,#a7ff58 7.9%,#aeff51 10.5%,#b6ff49 13.2%,#bdff42 15.8%,#c5ff3a 18.4%,#ccff33 21.1%,#d3ff2c 23.7%,#dbff24 26.3%,#e2ff1d 28.9%,#e9ff16 31.6%,#f1ff0e 34.2%,#f8ff07 36.8%,#fffe00 39.5%,#fff600 42.1%,#ffef00 44.7%,#ffe700 47.4%,#ffdf00 50.0%,#ffd700 52.6%,#ffcf00 55.3%,#ffc700 57.9%,#ffbf00 60.5%,#ffb700 63.2%,#ffaf00 65.8%,#ffa600 68.4%,#ff9e00 71.1%,#ff9500 73.7%,#ff8c00 76.3%,#ff8400 78.9%,#ff7b00 81.6%,#ff7400 84.2%,#ff6e00 86.8%,#ff6800 89.5%,#ff6200 92.1%,#ff5c00 94.7%,#ff5600 97.4%,#ff4f00 100.0%)"></i>
<i style="background:linear-gradient(90deg,#8dff72 0.0%,#94ff6b 2.6%,#9cff63 5.3%,#a4ff5b 7.9%,#abff54 10.5%,#b3ff4c 13.2%,#bbff44 15.8%,#c2ff3d 18.4%,#c9ff36 21.1%,#d1ff2e 23.7%,#d8ff27 26.3%,#e0ff1f 28.9%,#e7ff18 31.6%,#efff10 34.2%,#f6ff09 36.8%,#feff01 39.5%,#fff800 42.1%,#fff000 44.7%,#ffe900 47.4%,#ffe100 50.0%,#ffd900 52.6%,#ffd100 55.3%,#ffc900 57.9%,#ffc100 60.5%,#ffb800 63.2%,#ffb000 65.8%,#ffa800 68.4%,#ffa000 71.1%,#ff9700 73.7%,#ff8f00 76.3%,#ff8600 78.9%,#ff7e00 81.6%,#ff7700 84.2%,#ff7100 86.8%,#ff6b00 89.5%,#ff6500 92.1%,#ff5f00 94.7%,#ff5900 97.4%,#ff5300 100.0%)"></i>
<i style="background:linear-gradient(90deg,#89ff76 0.0%,#91ff6e 2.6%,#99ff66 5.3%,#a0ff5f 7.9%,#a8ff57 10.5%,#b0ff4f 13.2%,#b8ff47 15.8%,#bfff40 18.4%,#c7ff38 21.1%,#ceff31 23.7%,#d6ff29 26.3%,#ddff22 28.9%,#e5ff1a 31.6%,#edff12 34.2%,#f4ff0b 36.8%,#fcff03 39.5%,#fffa00 42.1%,#fff200 44.7%,#ffeb00 47.4%,#ffe300 50.0%,#ffdb00 52.6%,#ffd200 55.3%,#ffca00 57.9%,#ffc200 60.5%,#ffba00 63.2%,#ffb200 65.8%,#ffa900 68.4%,#ffa100 71.1%,#ff9900 73.7%,#ff9100 76.3%,#ff8800 78.9%,#ff8000 81.6%,#ff7900 84.2%,#ff7400 86.8%,#ff6e00 89.5%,#ff6800 92.1%,#ff6200 94.7%,#ff5d00 97.4%,#ff5700 100.0%)"></i>
<i style="background:linear-gradient(90deg,#85ff7a 0.0%,#8dff72 2.6%,#95ff6a 5.3%,#9dff62 7.9%,#a5ff5a 10.5%,#adff52 13.2%,#b5ff4a 15.8%,#bcff43 18.4%,#c4ff3b 21.1%,#ccff33 23.7%,#d3ff2c 26.3%,#dbff24 28.9%,#e3ff1c 31.6%,#ebff14 34.2%,#f2ff0d 36.8%,#faff05 39.5%,#fffc00 42.1%,#fff400 44.7%,#ffec00 47.4%,#ffe500 50.0%,#ffdc00 52.6%,#ffd400 55.3%,#ffcc00 57.9%,#ffc400 60.5%,#ffbb00 63.2%,#ffb300 65.8%,#ffab00 68.4%,#ffa300 71.1%,#ff9b00 73.7%,#ff9300 76.3%,#ff8b00 78.9%,#ff8300 81.6%,#ff7c00 84.2%,#ff7600 86.8%,#ff7100 89.5%,#ff6b00 92.1%,#ff6600 94.7%,#ff6000 97.4%,#ff5b00 100.0%)"></i>
<i style="background:linear-gradient(90deg,#82ff7d 0.0%,#8aff75 2.6%,#92ff6d 5.3%,#9aff65 7.9%,#a2ff5d 10.5%,#aaff55 13.2%,#b2ff4d 15.8%,#baff45 18.4%,#c2ff3d 21.1%,#c9ff36 23.7%,#d1ff2e 26.3%,#d9ff26 28.9%,#e1ff1e 31.6%,#e9ff16 34.2%,#f0ff0f 36.8%,#f8ff07 39.5%,#fffe00 42.1%,#fff600 44.7%,#ffee00 47.4%,#ffe600 50.0%,#ffde00 52.6%,#ffd600 55.3%,#ffcd00 57.9%,#ffc500 60.5%,#ffbd00 63.2%,#ffb400 65.8%,#ffac00 68.4%,#ffa500 71.1%,#ff9d00 73.7%,#ff9500 76.3%,#ff8d00 78.9%,#ff8500 81.6%,#ff7f00 84.2%,#ff7900 86.8%,#ff7400 89.5%,#ff6e00 92.1%,#ff6900 94.7%,#ff6400 97.4%,#ff5e00 100.0%)"></i>
<i style="background:linear-gradient(90deg,#7eff81 0.0%,#86ff79 2.6%,#8eff71 5.3%,#97ff68 7.9%,#9fff60 10.5%,#a7ff58 13.2%,#afff50 15.8%,#b7ff48 18.4%,#bfff40 21.1%,#c7ff38 23.7%,#cfff30 26.3%,#d7ff28 28.9%,#dfff20 31.6%,#e7ff18 34.2%,#eeff11 36.8%,#f6ff09 39.5%,#feff01 42.1%,#fff800 44.7%,#fff000 47.4%,#ffe800 50.0%,#ffe000 52.6%,#ffd700 55.3%,#ffcf00 57.9%,#ffc700 60.5%,#ffbe00 63.2%,#ffb600 65.8%,#ffae00 68.4%,#ffa600 71.1%,#ff9f00 73.7%,#ff9700 76.3%,#ff9000 78.9%,#ff8800 81.6%,#ff8100 84.2%,#ff7c00 86.8%,#ff7700 89.5%,#ff7200 92.1%,#ff6c00 94.7%,#ff6700 97.4%,#ff6200 100.0%)"></i>
<i style="background:linear-gradient(90deg,#7bff84 0.0%,#83ff7c 2.6%,#8bff74 5.3%,#93ff6c 7.9%,#9cff63 10.5%,#a4ff5b 13.2%,#acff53 15.8%,#b4ff4b 18.4%,#bcff43 21.1%,#c4ff3b 23.7%,#ccff33 26.3%,#d5ff2a 28.9%,#ddff22 31.6%,#e5ff1a 34.2%,#ecff13 36.8%,#f4ff0b 39.5%,#fcff03 42.1%,#fffa00 44.7%,#fff200 47.4%,#ffea00 50.0%,#ffe200 52.6%,#ffd900 55.3%,#ffd100 57.9%,#ffc800 60.5%,#ffc000 63.2%,#ffb700 65.8%,#ffaf00 68.4%,#ffa800 71.1%,#ffa100 73.7%,#ff9900 76.3%,#ff9200 78.9%,#ff8a00 81.6%,#ff8400 84.2%,#ff7f00 86.8%,#ff7a00 89.5%,#ff7500 92.1%,#ff7000 94.7%,#ff6b00 97.4%,#ff6600 100.0%)"></i>
<i style="background:linear-gradient(90deg,#77ff88 0.0%,#7fff80 2.6%,#88ff77 5.3%,#90ff6f 7.9%,#98ff67 10.5%,#a1ff5e 13.2%,#a9ff56 15.8%,#b1ff4e 18.4%,#baff45 21.1%,#c2ff3d 23.7%,#caff35 26.3%,#d2ff2d 28.9%,#dbff24 31.6%,#e3ff1c 34.2%,#ebff14 36.8%,#f2ff0d 39.5%,#faff05 42.1%,#fffc00 44.7%,#fff400 47.4%,#ffec00 50.0%,#ffe300 52.6%,#ffdb00 55.3%,#ffd200 57.9%,#ffca00 60.5%,#ffc100 63.2%,#ffb800 65.8%,#ffb100 68.4%,#ffaa00 71.1%,#ffa300 73.7%,#ff9b00 76.3%,#ff9400 78.9%,#ff8d00 81.6%,#ff8700 84.2%,#ff8200 86.8%,#ff7d00 89.5%,#ff7800 92.1%,#ff7300 94.7%,#ff6e00 97.4%,#ff6900 100.0%)"></i>
<i style="background:linear-gradient(90deg,#73ff8c 0.0%,#7cff83 2.6%,#84ff7b 5.3%,#8dff72 7.9%,#95ff6a 10.5%,#9eff61 13.2%,#a6ff59 15.8%,#afff50 18.4%,#b7ff48 21.1%,#bfff40 23.7%,#c8ff37 26.3%,#d0ff2f 28.9%,#d8ff27 31.6%,#e1ff1e 34.2%,#e9ff16 36.8%,#f0ff0f 39.5%,#f8ff07 42.1%,#fffe00 44.7%,#fff600 47.4%,#ffee00 50.0%,#ffe500 52.6%,#ffdc00 55.3%,#ffd400 57.9%,#ffcb00 60.5%,#ffc200 63.2%,#ffba00 65.8%,#ffb200 68.4%,#ffab00 71.1%,#ffa400 73.7%,#ff9e00 76.3%,#ff9700 78.9%,#ff9000 81.6%,#ff8a00 84.2%,#ff8500 86.8%,#ff8000 89.5%,#ff7b00 92.1%,#ff7700 94.7%,#ff7200 97.4%,#ff6d00 100.0%)"></i>
<i style="background:linear-gradient(90deg,#70ff8f 0.0%,#78ff87 2.6%,#81ff7e 5.3%,#8aff75 7.9%,#92ff6d 10.5%,#9bff64 13.2%,#a3ff5c 15.8%,#acff53 18.4%,#b4ff4b 21.1%,#bdff42 23.7%,#c5ff3a 26.3%,#ceff31 28.9%,#d6ff29 31.6%,#dfff20 34.2%,#e7ff18 36.8%,#efff10 39.5%,#f7ff08 42.1%,#feff01 44.7%,#fff800 47.4%,#fff000 50.0%,#ffe700 52.6%,#ffde00 55.3%,#ffd500 57.9%,#ffcd00 60.5%,#ffc400 63.2%,#ffbb00 65.8%,#ffb400 68.4%,#ffad00 71.1%,#ffa600 73.7%,#ffa000 76.3%,#ff9900 78.9%,#ff9200 81.6%,#ff8c00 84.2%,#ff8800 86.8%,#ff8300 89.5%,#ff7f00 92.1%,#ff7a00 94.7%,#ff7500 97.4%,#ff7100 100.0%)"></i>
<i style="background:linear-gradient(90deg,#6cff93 0.0%,#75ff8a 2.6%,#7eff81 5.3%,#86ff79 7.9%,#8fff70 10.5%,#98ff67 13.2%,#a1ff5e 15.8%,#a9ff56 18.4%,#b2ff4d 21.1%,#baff45 23.7%,#c3ff3c 26.3%,#ccff33 28.9%,#d4ff2b 31.6%,#ddff22 34.2%,#e5ff1a 36.8%,#edff12 39.5%,#f5ff0a 42.1%,#fdff02 44.7%,#fff900 47.4%,#fff100 50.0%,#ffe900 52.6%,#ffe000 55.3%,#ffd700 57.9%,#ffce00 60.5%,#ffc500 63.2%,#ffbc00 65.8%,#ffb500 68.4%,#ffaf00 71.1%,#ffa800 73.7%,#ffa200 76.3%,#ff9b00 78.9%,#ff9500 81.6%,#ff8f00 84.2%,#ff8b00 86.8%,#ff8600 89.5%,#ff8200 92.1%,#ff7d00 94.7%,#ff7900 97.4%,#ff7400 100.0%)"></i>
<i style="background:linear-gradient(90deg,#68ff97 0.0%,#71ff8e 2.6%,#7aff85 5.3%,#83ff7c 7.9%,#8cff73 10.5%,#95ff6a 13.2%,#9eff61 15.8%,#a6ff59 18.4%,#afff50 21.1%,#b8ff47 23.7%,#c1ff3e 26.3%,#c9ff36 28.9%,#d2ff2d 31.6%,#dbff24 34.2%,#e3ff1c 36.8%,#ebff14 39.5%,#f3ff0c 42.1%,#fbff04 44.7%,#fffb00 47.4%,#fff300 50.0%,#ffea00 52.6%,#ffe100 55.3%,#ffd900 57.9%,#ffd000 60.5%,#ffc700 63.2%,#ffbe00 65.8%,#ffb700 68.4%,#ffb100 71.1%,#ffaa00 73.7%,#ffa400 76.3%,#ff9e00 78.9%,#ff9700 81.6%,#ff9200 84.2%,#ff8e00 86.8%,#ff8900 89.5%,#ff8500 92.1%,#ff8100 94.7%,#ff7c00 97.4%,#ff7800 100.0%)"></i>
<i style="background:linear-gradient(90deg,#65ff9a 0.0%,#6eff91 2.6%,#77ff88 5.3%,#80ff7f 7.9%,#89ff76 10.5%,#92ff6d 13.2%,#9bff64 15.8%,#a4ff5b 18.4%,#adff52 21.1%,#b5ff4a 23.7%,#beff41 26.3%,#c7ff38 28.9%,#d0ff2f 31.6%,#d9ff26 34.2%,#e1ff1e 36.8%,#e9ff16 39.5%,#f1ff0e 42.1%,#f9ff06 44.7%,#fffd00 47.4%,#fff500 50.0%,#ffec00 52.6%,#ffe300 55.3%,#ffda00 57.9%,#ffd100 60.5%,#ffc800 63.2%,#ffbf00 65.8%,#ffb800 68.4%,#ffb200 71.1%,#ffac00 73.7%,#ffa600 76.3%,#ffa000 78.9%,#ff9a00 81.6%,#ff9500 84.2%,#ff9000 86.8%,#ff8c00 89.5%,#ff8800 92.1%,#ff8400 94.7%,#ff8000 97.4%,#ff7c00 100.0%)"></i>
<i style="background:linear-gradient(90deg,#61ff9e 0.0%,#6aff95 2.6%,#73ff8c 5.3%,#7dff82 7.9%,#86ff79 10.5%,#8fff70 13.2%,#98ff67 15.8%,#a1ff5e 18.4%,#aaff55 21.1%,#b3ff4c 23.7%,#bcff43 26.3%,#c5ff3a 28.9%,#ceff31 31.6%,#d7ff28 34.2%,#dfff20 36.8%,#e7ff18 39.5%,#efff10 42.1%,#f7ff08 44.7%,#ffff00 47.4%,#fff700 50.0%,#ffee00 52.6%,#ffe500 55.3%,#ffdc00 57.9%,#ffd300 60.5%,#ffca00 63.2%,#ffc000 65.8%,#ffba00 68.4%,#ffb400 71.1%,#ffae00 73.7%,#ffa800 76.3%,#ffa200 78.9%,#ff9c00 81.6%,#ff9700 84.2%,#ff9300 86.8%,#ff8f00 89.5%,#ff8b00 92.1%,#ff8700 94.7%,#ff8300 97.4%,#ff7f00 100.0%)"></i>
<i style="background:linear-gradient(90deg,#5effa1 0.0%,#67ff98 2.6%,#70ff8f 5.3%,#79ff86 7.9%,#83ff7c 10.5%,#8cff73 13.2%,#95ff6a 15.8%,#9eff61 18.4%,#a7ff58 21.1%,#b1ff4e 23.7%,#baff45 26.3%,#c3ff3c 28.9%,#ccff33 31.6%,#d5ff2a 34.2%,#ddff22 36.8%,#e5ff1a 39.5%,#edff12 42.1%,#f5ff0a 44.7%,#fdff02 47.4%,#fff900 50.0%,#fff000 52.6%,#ffe600 55.3%,#ffdd00 57.9%,#ffd400 60.5%,#ffcb00 63.2%,#ffc200 65.8%,#ffbb00 68.4%,#ffb600 71.1%,#ffb000 73.7%,#ffaa00 76.3%,#ffa500 78.9%,#ff9f00 81.6%,#ff9a00 84.2%,#ff9600 86.8%,#ff9200 89.5%,#ff8f00 92.1%,#ff8b00 94.7%,#ff8700 97.4%,#ff8300 100.0%)"></i>
<i style="background:linear-gradient(90deg,#5affa5 0.0%,#63ff9c 2.6%,#6dff92 5.3%,#76ff89 7.9%,#7fff80 10.5%,#89ff76 13.2%,#92ff6d 15.8%,#9bff64 18.4%,#a5ff5a 21.1%,#aeff51 23.7%,#b7ff48 26.3%,#c1ff3e 28.9%,#caff35 31.6%,#d3ff2c 34.2%,#dbff24 36.8%,#e3ff1c 39.5%,#ebff14 42.1%,#f3ff0c 44.7%,#fbff04 47.4%,#fffb00 50.0%,#fff100 52.6%,#ffe800 55.3%,#ffdf00 57.9%,#ffd600 60.5%,#ffcc00 63.2%,#ffc300 65.8%,#ffbd00 68.4%,#ffb700 71.1%,#ffb200 73.7%,#ffac00 76.3%,#ffa700 78.9%,#ffa100 81.6%,#ff9d00 84.2%,#ff9900 86.8%,#ff9500 89.5%,#ff9200 92.1%,#ff8e00 94.7%,#ff8a00 97.4%,#ff8700 100.0%)"></i>
<i style="background:linear-gradient(90deg,#56ffa9 0.0%,#60ff9f 2.6%,#69ff96 5.3%,#73ff8c 7.9%,#7cff83 10.5%,#86ff79 13.2%,#8fff70 15.8%,#99ff66 18.4%,#a2ff5d 21.1%,#acff53 23.7%,#b5ff4a 26.3%,#beff41 28.9%,#c8ff37 31.6%,#d1ff2e 34.2%,#d9ff26 36.8%,#e1ff1e 39.5%,#e9ff16 42.1%,#f1ff0e 44.7%,#f9ff06 47.4%,#fffc00 50.0%,#fff300 52.6%,#ffea00 55.3%,#ffe100 57.9%,#ffd700 60.5%,#ffce00 63.2%,#ffc500 65.8%,#ffbe00 68.4%,#ffb900 71.1%,#ffb400 73.7%,#ffaf00 76.3%,#ffa900 78.9%,#ffa400 81.6%,#ffa000 84.2%,#ff9c00 86.8%,#ff9900 89.5%,#ff9500 92.1%,#ff9100 94.7%,#ff8e00 97.4%,#ff8a00 100.0%)"></i>
<i style="background:linear-gradient(90deg,#53ffac 0.0%,#5cffa3 2.6%,#66ff99 5.3%,#70ff8f 7.9%,#79ff86 10.5%,#83ff7c 13.2%,#8cff73 15.8%,#96ff69 18.4%,#a0ff5f 21.1%,#a9ff56 23.7%,#b3ff4c 26.3%,#bcff43 28.9%,#c6ff39 31.6%,#cfff30 34.2%,#d7ff28 36.8%,#dfff20 39.5%,#e7ff18 42.1%,#efff10 44.7%,#f7ff08 47.4%,#fffe00 50.0%,#fff500 52.6%,#ffeb00 55.3%,#ffe200 57.9%,#ffd900 60.5%,#ffcf00 63.2%,#ffc600 65.8%,#ffc000 68.4%,#ffbb00 71.1%,#ffb600 73.7%,#ffb100 76.3%,#ffac00 78.9%,#ffa700 81.6%,#ffa200 84.2%,#ff9f00 86.8%,#ff9c00 89.5%,#ff9800 92.1%,#ff9500 94.7%,#ff9200 97.4%,#ff8e00 100.0%)"></i>
<i style="background:linear-gradient(90deg,#4fffb0 0.0%,#59ffa6 2.6%,#62ff9d 5.3%,#6cff93 7.9%,#76ff89 10.5%,#80ff7f 13.2%,#8aff75 15.8%,#93ff6c 18.4%,#9dff62 21.1%,#a7ff58 23.7%,#b1ff4e 26.3%,#baff45 28.9%,#c4ff3b 31.6%,#cdff32 34.2%,#d5ff2a 36.8%,#deff21 39.5%,#e6ff19 42.1%,#eeff11 44.7%,#f6ff09 47.4%,#feff01 50.0%,#fff600 52.6%,#ffed00 55.3%,#ffe400 57.9%,#ffdb00 60.5%,#ffd100 63.2%,#ffc800 65.8%,#ffc200 68.4%,#ffbd00 71.1%,#ffb800 73.7%,#ffb300 76.3%,#ffae00 78.9%,#ffa900 81.6%,#ffa500 84.2%,#ffa200 86.8%,#ff9f00 89.5%,#ff9c00 92.1%,#ff9800 94.7%,#ff9500 97.4%,#ff9200 100.0%)"></i>
<i style="background:linear-gradient(90deg,#4bffb4 0.0%,#55ffaa 2.6%,#5fffa0 5.3%,#69ff96 7.9%,#73ff8c 10.5%,#7dff82 13.2%,#87ff78 15.8%,#91ff6e 18.4%,#9bff64 21.1%,#a5ff5a 23.7%,#afff50 26.3%,#b8ff47 28.9%,#c2ff3d 31.6%,#cbff34 34.2%,#d4ff2b 36.8%,#dcff23 39.5%,#e4ff1b 42.1%,#edff12 44.7%,#f5ff0a 47.4%,#fdff02 50.0%,#fff800 52.6%,#ffef00 55.3%,#ffe500 57.9%,#ffdc00 60.5%,#ffd300 63.2%,#ffca00 65.8%,#ffc400 68.4%,#ffbf00 71.1%,#ffbb00 73.7%,#ffb600 76.3%,#ffb100 78.9%,#ffac00 81.6%,#ffa800 84.2%,#ffa500 86.8%,#ffa200 89.5%,#ff9f00 92.1%,#ff9c00 94.7%,#ff9900 97.4%,#ff9600 100.0%)"></i>
<i style="background:linear-gradient(90deg,#47ffb8 0.0%,#51ffae 2.6%,#5bffa4 5.3%,#66ff99 7.9%,#70ff8f 10.5%,#7aff85 13.2%,#84ff7b 15.8%,#8eff71 18.4%,#98ff67 21.1%,#a2ff5d 23.7%,#acff53 26.3%,#b6ff49 28.9%,#c0ff3f 31.6%,#caff35 34.2%,#d2ff2d 36.8%,#daff25 39.5%,#e3ff1c 42.1%,#ebff14 44.7%,#f3ff0c 47.4%,#fcff03 50.0%,#fff900 52.6%,#fff000 55.3%,#ffe700 57.9%,#ffde00 60.5%,#ffd500 63.2%,#ffcc00 65.8%,#ffc600 68.4%,#ffc200 71.1%,#ffbd00 73.7%,#ffb800 76.3%,#ffb400 78.9%,#ffaf00 81.6%,#ffab00 84.2%,#ffa800 86.8%,#ffa500 89.5%,#ffa200 92.1%,#ff9f00 94.7%,#ff9c00 97.4%,#ff9900 100.0%)"></i>
<i style="background:linear-gradient(90deg,#43ffbc 0.0%,#4dffb2 2.6%,#58ffa7 5.3%,#62ff9d 7.9%,#6dff92 10.5%,#77ff88 13.2%,#82ff7d 15.8%,#8cff73 18.4%,#96ff69 21.1%,#a0ff5f 23.7%,#aaff55 26.3%,#b5ff4a 28.9%,#bfff40 31.6%,#c8ff37 34.2%,#d1ff2e 36.8%,#d9ff26 39.5%,#e1ff1e 42.1%,#eaff15 44.7%,#f2ff0d 47.4%,#fbff04 50.0%,#fffb00 52.6%,#fff200 55.3%,#ffe900 57.9%,#ffe000 60.5%,#ffd700 63.2%,#ffce00 65.8%,#ffc900 68.4%,#ffc400 71.1%,#ffbf00 73.7%,#ffbb00 76.3%,#ffb600 78.9%,#ffb200 81.6%,#ffae00 84.2%,#ffab00 86.8%,#ffa800 89.5%,#ffa500 92.1%,#ffa300 94.7%,#ffa000 97.4%,#ff9d00 100.0%)"></i>
<i style="background:linear-gradient(90deg,#3fffc0 0.0%,#4affb5 2.6%,#54ffab 5.3%,#5fffa0 7.9%,#6aff95 10.5%,#74ff8b 13.2%,#7fff80 15.8%,#89ff76 18.4%,#94ff6b 21.1%,#9eff61 23.7%,#a8ff57 26.3%,#b3ff4c 28.9%,#bdff42 31.6%,#c6ff39 34.2%,#cfff30 36.8%,#d7ff28 39.5%,#e0ff1f 42.1%,#e8ff17 44.7%,#f1ff0e 47.4%,#f9ff06 50.0%,#fffc00 52.6%,#fff300 55.3%,#ffea00 57.9%,#ffe200 60.5%,#ffd900 63.2%,#ffd000 65.8%,#ffcb00 68.4%,#ffc600 71.1%,#ffc200 73.7%,#ffbd00 76.3%,#ffb900 78.9%,#ffb400 81.6%,#ffb100 84.2%,#ffae00 86.8%,#ffab00 89.5%,#ffa900 92.1%,#ffa600 94.7%,#ffa300 97.4%,#ffa100 100.0%)"></i>
<i style="background:linear-gradient(90deg,#3bffc4 0.0%,#46ffb9 2.6%,#51ffae 5.3%,#5cffa3 7.9%,#67ff98 10.5%,#71ff8e 13.2%,#7cff83 15.8%,#87ff78 18.4%,#91ff6e 21.1%,#9cff63 23.7%,#a6ff59 26.3%,#b1ff4e 28.9%,#bbff44 31.6%,#c5ff3a 34.2%,#cdff32 36.8%,#d6ff29 39.5%,#deff21 42.1%,#e7ff18 44.7%,#efff10 47.4%,#f8ff07 50.0%,#fffd00 52.6%,#fff500 55.3%,#ffec00 57.9%,#ffe400 60.5%,#ffdb00 63.2%,#ffd200 65.8%,#ffcd00 68.4%,#ffc900 71.1%,#ffc400 73.7%,#ffc000 76.3%,#ffbc00 78.9%,#ffb700 81.6%,#ffb400 84.2%,#ffb100 86.8%,#ffaf00 89.5%,#ffac00 92.1%,#ffa900 94.7%,#ffa700 97.4%,#ffa400 100.0%)"></i>
<i style="background:linear-gradient(90deg,#37ffc8 0.0%,#42ffbd 2.6%,#4dffb2 5.3%,#58ffa7 7.9%,#64ff9b 10.5%,#6fff90 13.2%,#7aff85 15.8%,#84ff7b 18.4%,#8fff70 21.1%,#9aff65 23.7%,#a4ff5b 26.3%,#afff50 28.9%,#b9ff46 31.6%,#c3ff3c 34.2%,#ccff33 36.8%,#d4ff2b 39.5%,#ddff22 42.1%,#e5ff1a 44.7%,#eeff11 47.4%,#f7ff08 50.0%,#ffff00 52.6%,#fff600 55.3%,#ffee00 57.9%,#ffe500 60.5%,#ffdd00 63.2%,#ffd400 65.8%,#ffcf00 68.4%,#ffcb00 71.1%,#ffc700 73.7%,#ffc200 76.3%,#ffbe00 78.9%,#ffba00 81.6%,#ffb700 84.2%,#ffb400 86.8%,#ffb200 89.5%,#ffaf00 92.1%,#ffad00 94.7%,#ffaa00 97.4%,#ffa800 100.0%)"></i>
<i style="background:linear-gradient(90deg,#33ffcc 0.0%,#3fffc0 2.6%,#4affb5 5.3%,#55ffaa 7.9%,#60ff9f 10.5%,#6cff93 13.2%,#77ff88 15.8%,#82ff7d 18.4%,#8dff72 21.1%,#97ff68 23.7%,#a2ff5d 26.3%,#adff52 28.9%,#b7ff48 31.6%,#c1ff3e 34.2%,#caff35 36.8%,#d3ff2c 39.5%,#dbff24 42.1%,#e4ff1b 44.7%,#edff12 47.4%,#f5ff0a 50.0%,#feff01 52.6%,#fff800 55.3%,#fff000 57.9%,#ffe700 60.5%,#ffdf00 63.2%,#ffd600 65.8%,#ffd100 68.4%,#ffcd00 71.1%,#ffc900 73.7%,#ffc500 76.3%,#ffc100 78.9%,#ffbd00 81.6%,#ffba00 84.2%,#ffb700 86.8%,#ffb500 89.5%,#ffb300 92.1%,#ffb000 94.7%,#ffae00 97.4%,#ffac00 100.0%)"></i>
<i style="background:linear-gradient(90deg,#2fffd0 0.0%,#3bffc4 2.6%,#46ffb9 5.3%,#52ffad 7.9%,#5dffa2 10.5%,#69ff96 13.2%,#74ff8b 15.8%,#7fff80 18.4%,#8aff75 21.1%,#95ff6a 23.7%,#a0ff5f 26.3%,#abff54 28.9%,#b6ff49 31.6%,#c0ff3f 34.2%,#c8ff37 36.8%,#d1ff2e 39.5%,#daff25 42.1%,#e3ff1c 44.7%,#ebff14 47.4%,#f4ff0b 50.0%,#fcff03 52.6%,#fff900 55.3%,#fff100 57.9%,#ffe900 60.5%,#ffe100 63.2%,#ffd800 65.8%,#ffd400 68.4%,#ffd000 71.1%,#ffcc00 73.7%,#ffc800 76.3%,#ffc400 78.9%,#ffc000 81.6%,#ffbc00 84.2%,#ffba00 86.8%,#ffb800 89.5%,#ffb600 92.1%,#ffb400 94.7%,#ffb100 97.4%,#ffaf00 100.0%)"></i>
<i style="background:linear-gradient(90deg,#2cffd3 0.0%,#37ffc8 2.6%,#43ffbc 5.3%,#4fffb0 7.9%,#5affa5 10.5%,#66ff99 13.2%,#72ff8d 15.8%,#7dff82 18.4%,#88ff77 21.1%,#93ff6c 23.7%,#9eff61 26.3%,#a9ff56 28.9%,#b4ff4b 31.6%,#beff41 34.2%,#c7ff38 36.8%,#d0ff2f 39.5%,#d8ff27 42.1%,#e1ff1e 44.7%,#eaff15 47.4%,#f3ff0c 50.0%,#fbff04 52.6%,#fffb00 55.3%,#fff300 57.9%,#ffeb00 60.5%,#ffe300 63.2%,#ffdb00 65.8%,#ffd600 68.4%,#ffd200 71.1%,#ffce00 73.7%,#ffca00 76.3%,#ffc600 78.9%,#ffc200 81.6%,#ffbf00 84.2%,#ffbd00 86.8%,#ffbb00 89.5%,#ffb900 92.1%,#ffb700 94.7%,#ffb500 97.4%,#ffb300 100.0%)"></i>
<i style="background:linear-gradient(90deg,#28ffd7 0.0%,#34ffcb 2.6%,#3fffc0 5.3%,#4bffb4 7.9%,#57ffa8 10.5%,#63ff9c 13.2%,#6fff90 15.8%,#7aff85 18.4%,#86ff79 21.1%,#91ff6e 23.7%,#9cff63 26.3%,#a7ff58 28.9%,#b2ff4d 31.6%,#bcff43 34.2%,#c5ff3a 36.8%,#ceff31 39.5%,#d7ff28 42.1%,#e0ff1f 44.7%,#e9ff16 47.4%,#f2ff0d 50.0%,#f9ff06 52.6%,#fffd00 55.3%,#fff500 57.9%,#ffed00 60.5%,#ffe500 63.2%,#ffdd00 65.8%,#ffd800 68.4%,#ffd400 71.1%,#ffd000 73.7%,#ffcd00 76.3%,#ffc900 78.9%,#ffc500 81.6%,#ffc200 84.2%,#ffc000 86.8%,#ffbe00 89.5%,#ffbc00 92.1%,#ffba00 94.7%,#ffb800 97.4%,#ffb700 100.0%)"></i>
<i style="background:linear-gradient(90deg,#24ffdb 0.0%,#30ffcf 2.6%,#3cffc3 5.3%,#48ffb7 7.9%,#54ffab 10.5%,#60ff9f 13.2%,#6cff93 15.8%,#78ff87 18.4%,#83ff7c 21.1%,#8eff71 23.7%,#9aff65 26.3%,#a5ff5a 28.9%,#b0ff4f 31.6%,#bbff44 34.2%,#c4ff3b 36.8%,#cdff32 39.5%,#d5ff2a 42.1%,#deff21 44.7%,#e7ff18 47.4%,#f0ff0f 50.0%,#f8ff07 52.6%,#fffe00 55.3%,#fff600 57.9%,#ffee00 60.5%,#ffe700 63.2%,#ffdf00 65.8%,#ffda00 68.4%,#ffd600 71.1%,#ffd300 73.7%,#ffcf00 76.3%,#ffcc00 78.9%,#ffc800 81.6%,#ffc500 84.2%,#ffc300 86.8%,#ffc200 89.5%,#ffc000 92.1%,#ffbe00 94.7%,#ffbc00 97.4%,#ffba00 100.0%)"></i>
<i style="background:linear-gradient(90deg,#20ffdf 0.0%,#2cffd3 2.6%,#38ffc7 5.3%,#45ffba 7.9%,#51ffae 10.5%,#5dffa2 13.2%,#6aff95 15.8%,#75ff8a 18.4%,#81ff7e 21.1%,#8cff73 23.7%,#98ff67 26.3%,#a3ff5c 28.9%,#aeff51 31.6%,#b9ff46 34.2%,#c2ff3d 36.8%,#cbff34 39.5%,#d4ff2b 42.1%,#ddff22 44.7%,#e6ff19 47.4%,#efff10 50.0%,#f7ff08 52.6%,#feff01 55.3%,#fff800 57.9%,#fff000 60.5%,#ffe800 63.2%,#ffe100 65.8%,#ffdc00 68.4%,#ffd900 71.1%,#ffd500 73.7%,#ffd200 76.3%,#ffce00 78.9%,#ffcb00 81.6%,#ffc800 84.2%,#ffc600 86.8%,#ffc500 89.5%,#ffc300 92.1%,#ffc100 94.7%,#ffc000 97.4%,#ffbe00 100.0%)"></i>
<i style="background:linear-gradient(90deg,#1cffe3 0.0%,#28ffd7 2.6%,#35ffca 5.3%,#41ffbe 7.9%,#4effb1 10.5%,#5affa5 13.2%,#67ff98 15.8%,#73ff8c 18.4%,#7eff81 21.1%,#8aff75 23.7%,#96ff69 26.3%,#a1ff5e 28.9%,#adff52 31.6%,#b7ff48 34.2%,#c0ff3f 36.8%,#c9ff36 39.5%,#d3ff2c 42.1%,#dcff23 44.7%,#e5ff1a 47.4%,#eeff11 50.0%,#f5ff0a 52.6%,#fdff02 55.3%,#fffa00 57.9%,#fff200 60.5%,#ffea00 63.2%,#ffe300 65.8%,#ffdf00 68.4%,#ffdb00 71.1%,#ffd800 73.7%,#ffd400 76.3%,#ffd100 78.9%,#ffcd00 81.6%,#ffcb00 84.2%,#ffc900 86.8%,#ffc800 89.5%,#ffc600 92.1%,#ffc500 94.7%,#ffc300 97.4%,#ffc200 100.0%)"></i>
<i style="background:linear-gradient(90deg,#18ffe7 0.0%,#25ffda 2.6%,#31ffce 5.3%,#3effc1 7.9%,#4bffb4 10.5%,#58ffa7 13.2%,#64ff9b 15.8%,#70ff8f 18.4%,#7cff83 21.1%,#88ff77 23.7%,#93ff6c 26.3%,#9fff60 28.9%,#abff54 31.6%,#b6ff49 34.2%,#bfff40 36.8%,#c8ff37 39.5%,#d1ff2e 42.1%,#daff25 44.7%,#e3ff1c 47.4%,#ecff13 50.0%,#f4ff0b 52.6%,#fbff04 55.3%,#fffb00 57.9%,#fff400 60.5%,#ffec00 63.2%,#ffe500 65.8%,#ffe100 68.4%,#ffdd00 71.1%,#ffda00 73.7%,#ffd700 76.3%,#ffd400 78.9%,#ffd000 81.6%,#ffce00 84.2%,#ffcc00 86.8%,#ffcb00 89.5%,#ffca00 92.1%,#ffc800 94.7%,#ffc700 97.4%,#ffc500 100.0%)"></i>
<i style="background:linear-gradient(90deg,#14ffeb 0.0%,#21ffde 2.6%,#2effd1 5.3%,#3bffc4 7.9%,#48ffb7 10.5%,#55ffaa 13.2%,#62ff9d 15.8%,#6eff91 18.4%,#7aff85 21.1%,#86ff79 23.7%,#91ff6e 26.3%,#9dff62 28.9%,#a9ff56 31.6%,#b4ff4b 34.2%,#bdff42 36.8%,#c6ff39 39.5%,#d0ff2f 42.1%,#d9ff26 44.7%,#e2ff1d 47.4%,#ebff14 50.0%,#f2ff0d 52.6%,#faff05 55.3%,#fffd00 57.9%,#fff600 60.5%,#ffee00 63.2%,#ffe700 65.8%,#ffe300 68.4%,#ffe000 71.1%,#ffdd00 73.7%,#ffd900 76.3%,#ffd600 78.9%,#ffd300 81.6%,#ffd100 84.2%,#ffcf00 86.8%,#ffce00 89.5%,#ffcd00 92.1%,#ffcc00 94.7%,#ffca00 97.4%,#ffc900 100.0%)"></i>
<i style="background:linear-gradient(90deg,#10ffef 0.0%,#1dffe2 2.6%,#2affd5 5.3%,#38ffc7 7.9%,#45ffba 10.5%,#52ffad 13.2%,#5fffa0 15.8%,#6bff94 18.4%,#77ff88 21.1%,#83ff7c 23.7%,#8fff70 26.3%,#9bff64 28.9%,#a7ff58 31.6%,#b2ff4d 34.2%,#bcff43 36.8%,#c5ff3a 39.5%,#ceff31 42.1%,#d7ff28 44.7%,#e1ff1e 47.4%,#eaff15 50.0%,#f1ff0e 52.6%,#f8ff07 55.3%,#ffff00 57.9%,#fff700 60.5%,#fff000 63.2%,#ffe900 65.8%,#ffe500 68.4%,#ffe200 71.1%,#ffdf00 73.7%,#ffdc00 76.3%,#ffd900 78.9%,#ffd600 81.6%,#ffd400 84.2%,#ffd300 86.8%,#ffd100 89.5%,#ffd000 92.1%,#ffcf00 94.7%,#ffce00 97.4%,#ffcd00 100.0%)"></i>
<i style="background:linear-gradient(90deg,#0cfff3 0.0%,#1affe5 2.6%,#27ffd8 5.3%,#34ffcb 7.9%,#42ffbd 10.5%,#4fffb0 13.2%,#5cffa3 15.8%,#69ff96 18.4%,#75ff8a 21.1%,#81ff7e 23.7%,#8dff72 26.3%,#99ff66 28.9%,#a6ff59 31.6%,#b1ff4e 34.2%,#baff45 36.8%,#c3ff3c 39.5%,#cdff32 42.1%,#d6ff29 44.7%,#dfff20 47.4%,#e8ff17 50.0%,#f0ff0f 52.6%,#f7ff08 55.3%,#feff01 57.9%,#fff900 60.5%,#fff200 63.2%,#ffeb00 65.8%,#ffe700 68.4%,#ffe400 71.1%,#ffe100 73.7%,#ffde00 76.3%,#ffdc00 78.9%,#ffd900 81.6%,#ffd700 84.2%,#ffd600 86.8%,#ffd400 89.5%,#ffd300 92.1%,#ffd200 94.7%,#ffd100 97.4%,#ffd000 100.0%)"></i>
<i style="background:linear-gradient(90deg,#08fff7 0.0%,#16ffe9 2.6%,#23ffdc 5.3%,#31ffce 7.9%,#3fffc0 10.5%,#4cffb3 13.2%,#5affa5 15.8%,#66ff99 18.4%,#73ff8c 21.1%,#7fff80 23.7%,#8bff74 26.3%,#97ff68 28.9%,#a4ff5b 31.6%,#afff50 34.2%,#b8ff47 36.8%,#c2ff3d 39.5%,#cbff34 42.1%,#d5ff2a 44.7%,#deff21 47.4%,#e7ff18 50.0%,#eeff11 52.6%,#f5ff0a 55.3%,#fcff03 57.9%,#fffb00 60.5%,#fff400 63.2%,#ffed00 65.8%,#ffe900 68.4%,#ffe700 71.1%,#ffe400 73.7%,#ffe100 76.3%,#ffde00 78.9%,#ffdb00 81.6%,#ffda00 84.2%,#ffd900 86.8%,#ffd800 89.5%,#ffd700 92.1%,#ffd600 94.7%,#ffd500 97.4%,#ffd400 100.0%)"></i>
<i style="background:linear-gradient(90deg,#04fffb 0.0%,#12ffed 2.6%,#20ffdf 5.3%,#2effd1 7.9%,#3bffc4 10.5%,#49ffb6 13.2%,#57ffa8 15.8%,#64ff9b 18.4%,#70ff8f 21.1%,#7dff82 23.7%,#89ff76 26.3%,#96ff69 28.9%,#a2ff5d 31.6%,#adff52 34.2%,#b7ff48 36.8%,#c0ff3f 39.5%,#caff35 42.1%,#d3ff2c 44.7%,#ddff22 47.4%,#e6ff19 50.0%,#edff12 52.6%,#f4ff0b 55.3%,#faff05 57.9%,#fffd00 60.5%,#fff600 63.2%,#ffef00 65.8%,#ffec00 68.4%,#ffe900 71.1%,#ffe600 73.7%,#ffe400 76.3%,#ffe100 78.9%,#ffde00 81.6%,#ffdc00 84.2%,#ffdc00 86.8%,#ffdb00 89.5%,#ffda00 92.1%,#ffd900 94.7%,#ffd800 97.4%,#ffd800 100.0%)"></i>
<i style="background:linear-gradient(90deg,#01fffe 0.0%,#0efff1 2.6%,#1cffe3 5.3%,#2affd5 7.9%,#38ffc7 10.5%,#46ffb9 13.2%,#54ffab 15.8%,#61ff9e 18.4%,#6eff91 21.1%,#7aff85 23.7%,#87ff78 26.3%,#94ff6b 28.9%,#a0ff5f 31.6%,#acff53 34.2%,#b5ff4a 36.8%,#bfff40 39.5%,#c8ff37 42.1%,#d2ff2d 44.7%,#dbff24 47.4%,#e5ff1a 50.0%,#ebff14 52.6%,#f2ff0d 55.3%,#f9ff06 57.9%,#ffff00 60.5%,#fff800 63.2%,#fff100 65.8%,#ffee00 68.4%,#ffeb00 71.1%,#ffe900 73.7%,#ffe600 76.3%,#ffe400 78.9%,#ffe100 81.6%,#ffdf00 84.2%,#ffdf00 86.8%,#ffde00 89.5%,#ffdd00 92.1%,#ffdd00 94.7%,#ffdc00 97.4%,#ffdb00 100.0%)"></i>
<i style="background:linear-gradient(90deg,#00fcff 0.0%,#0bfff4 2.6%,#19ffe6 5.3%,#27ffd8 7.9%,#35ffca 10.5%,#43ffbc 13.2%,#51ffae 15.8%,#5effa1 18.4%,#6bff94 21.1%,#78ff87 23.7%,#85ff7a 26.3%,#92ff6d 28.9%,#9eff61 31.6%,#aaff55 34.2%,#b3ff4c 36.8%,#bdff42 39.5%,#c6ff39 42.1%,#d0ff2f 44.7%,#daff25 47.4%,#e3ff1c 50.0%,#eaff15 52.6%,#f0ff0f 55.3%,#f7ff08 57.9%,#feff01 60.5%,#fffa00 63.2%,#fff300 65.8%,#fff000 68.4%,#ffed00 71.1%,#ffeb00 73.7%,#ffe900 76.3%,#ffe600 78.9%,#ffe400 81.6%,#ffe300 84.2%,#ffe200 86.8%,#ffe100 89.5%,#ffe100 92.1%,#ffe000 94.7%,#ffe000 97.4%,#ffdf00 100.0%)"></i>
<i style="background:linear-gradient(90deg,#00f9ff 0.0%,#08fff7 2.6%,#16ffe9 5.3%,#24ffdb 7.9%,#32ffcd 10.5%,#40ffbf 13.2%,#4effb1 15.8%,#5bffa4 18.4%,#68ff97 21.1%,#75ff8a 23.7%,#83ff7c 26.3%,#90ff6f 28.9%,#9dff62 31.6%,#a8ff57 34.2%,#b2ff4d 36.8%,#bbff44 39.5%,#c5ff3a 42.1%,#ceff31 44.7%,#d8ff27 47.4%,#e1ff1e 50.0%,#e8ff17 52.6%,#eeff11 55.3%,#f5ff0a 57.9%,#fcff03 60.5%,#fffb00 63.2%,#fff400 65.8%,#fff100 68.4%,#ffef00 71.1%,#ffed00 73.7%,#ffeb00 76.3%,#ffe900 78.9%,#ffe700 81.6%,#ffe600 84.2%,#ffe500 86.8%,#ffe500 89.5%,#ffe400 92.1%,#ffe400 94.7%,#ffe300 97.4%,#ffe300 100.0%)"></i>
<i style="background:linear-gradient(90deg,#00f5ff 0.0%,#04fffb 2.6%,#12ffed 5.3%,#21ffde 7.9%,#2fffd0 10.5%,#3dffc2 13.2%,#4bffb4 15.8%,#59ffa6 18.4%,#66ff99 21.1%,#73ff8c 23.7%,#80ff7f 26.3%,#8eff71 28.9%,#9bff64 31.6%,#a7ff58 34.2%,#b0ff4f 36.8%,#b9ff46 39.5%,#c3ff3c 42.1%,#ccff33 44.7%,#d6ff29 47.4%,#dfff20 50.0%,#e6ff19 52.6%,#edff12 55.3%,#f4ff0b 57.9%,#faff05 60.5%,#fffd00 63.2%,#fff600 65.8%,#fff300 68.4%,#fff100 71.1%,#fff000 73.7%,#ffee00 76.3%,#ffec00 78.9%,#ffea00 81.6%,#ffe900 84.2%,#ffe900 86.8%,#ffe800 89.5%,#ffe800 92.1%,#ffe800 94.7%,#ffe700 97.4%,#ffe700 100.0%)"></i>
<i style="background:linear-gradient(90deg,#00f2ff 0.0%,#01fffe 2.6%,#0ffff0 5.3%,#1dffe2 7.9%,#2bffd4 10.5%,#3affc5 13.2%,#48ffb7 15.8%,#56ffa9 18.4%,#63ff9c 21.1%,#71ff8e 23.7%,#7eff81 26.3%,#8cff73 28.9%,#99ff66 31.6%,#a5ff5a 34.2%,#aeff51 36.8%,#b8ff47 39.5%,#c1ff3e 42.1%,#cbff34 44.7%,#d4ff2b 47.4%,#ddff22 50.0%,#e4ff1b 52.6%,#ebff14 55.3%,#f2ff0d 57.9%,#f9ff06 60.5%,#fffe00 63.2%,#fff700 65.8%,#fff500 68.4%,#fff300 71.1%,#fff200 73.7%,#fff000 76.3%,#ffef00 78.9%,#ffed00 81.6%,#ffec00 84.2%,#ffec00 86.8%,#ffec00 89.5%,#ffec00 92.1%,#ffeb00 94.7%,#ffeb00 97.4%,#ffeb00 100.0%)"></i>
<i style="background:linear-gradient(90deg,#00eeff 0.0%,#00fcff 2.6%,#0cfff3 5.3%,#1affe5 7.9%,#28ffd7 10.5%,#36ffc9 13.2%,#45ffba 15.8%,#53ffac 18.4%,#60ff9f 21.1%,#6eff91 23.7%,#7cff83 26.3%,#89ff76 28.9%,#97ff68 31.6%,#a3ff5c 34.2%,#adff52 36.8%,#b6ff49 39.5%,#bfff40 42.1%,#c9ff36 44.7%,#d2ff2d 47.4%,#dbff24 50.0%,#e2ff1d 52.6%,#e9ff16 55.3%,#f0ff0f 57.9%,#f7ff08 60.5%,#feff01 63.2%,#fff900 65.8%,#fff700 68.4%,#fff500 71.1%,#fff400 73.7%,#fff300 76.3%,#fff200 78.9%,#fff000 81.6%,#fff000 84.2%,#ffef00 86.8%,#ffef00 89.5%,#ffef00 92.1%,#ffef00 94.7%,#ffef00 97.4%,#ffef00 100.0%)"></i>
<i style="background:linear-gradient(90deg,#00ebff 0.0%,#00f9ff 2.6%,#08fff7 5.3%,#17ffe8 7.9%,#25ffda 10.5%,#33ffcc 13.2%,#42ffbd 15.8%,#50ffaf 18.4%,#5effa1 21.1%,#6cff93 23.7%,#7aff85 26.3%,#87ff78 28.9%,#95ff6a 31.6%,#a2ff5d 34.2%,#abff54 36.8%,#b4ff4b 39.5%,#beff41 42.1%,#c7ff38 44.7%,#d0ff2f 47.4%,#daff25 50.0%,#e0ff1f 52.6%,#e7ff18 55.3%,#eeff11 57.9%,#f5ff0a 60.5%,#fcff03 63.2%,#fffb00 65.8%,#fff800 68.4%,#fff700 71.1%,#fff600 73.7%,#fff500 76.3%,#fff400 78.9%,#fff300 81.6%,#fff300 84.2%,#fff300 86.8%,#fff300 89.5%,#fff300 92.1%,#fff300 94.7%,#fff300 97.4%,#fff200 100.0%)"></i>
<i style="background:linear-gradient(90deg,#00e7ff 0.0%,#00f5ff 2.6%,#05fffa 5.3%,#13ffec 7.9%,#22ffdd 10.5%,#30ffcf 13.2%,#3fffc0 15.8%,#4dffb2 18.4%,#5bffa4 21.1%,#69ff96 23.7%,#77ff88 26.3%,#85ff7a 28.9%,#94ff6b 31.6%,#a0ff5f 34.2%,#a9ff56 36.8%,#b3ff4c 39.5%,#bcff43 42.1%,#c5ff3a 44.7%,#cfff30 47.4%,#d8ff27 50.0%,#dfff20 52.6%,#e6ff19 55.3%,#edff12 57.9%,#f4ff0b 60.5%,#fbff04 63.2%,#fffc00 65.8%,#fffa00 68.4%,#fff900 71.1%,#fff900 73.7%,#fff800 76.3%,#fff700 78.9%,#fff600 81.6%,#fff600 84.2%,#fff600 86.8%,#fff600 89.5%,#fff600 92.1%,#fff600 94.7%,#fff600 97.4%,#fff600 100.0%)"></i>
<i style="background:linear-gradient(90deg,#00e4ff 0.0%,#00f2ff 2.6%,#02fffd 5.3%,#10ffef 7.9%,#1effe1 10.5%,#2dffd2 13.2%,#3bffc4 15.8%,#4affb5 18.4%,#58ffa7 21.1%,#67ff98 23.7%,#75ff8a 26.3%,#83ff7c 28.9%,#92ff6d 31.6%,#9eff61 34.2%,#a8ff57 36.8%,#b1ff4e 39.5%,#baff45 42.1%,#c3ff3c 44.7%,#cdff32 47.4%,#d6ff29 50.0%,#ddff22 52.6%,#e4ff1b 55.3%,#ebff14 57.9%,#f2ff0d 60.5%,#f9ff06 63.2%,#fffe00 65.8%,#fffc00 68.4%,#fffb00 71.1%,#fffb00 73.7%,#fffa00 76.3%,#fffa00 78.9%,#fff900 81.6%,#fff900 84.2%,#fff900 86.8%,#fffa00 89.5%,#fffa00 92.1%,#fffa00 94.7%,#fffa00 97.4%,#fffa00 100.0%)"></i>
<i style="background:linear-gradient(90deg,#00e0ff 0.0%,#00efff 2.6%,#00fdff 5.3%,#0dfff2 7.9%,#1bffe4 10.5%,#2affd5 13.2%,#38ffc7 15.8%,#47ffb8 18.4%,#56ffa9 21.1%,#64ff9b 23.7%,#73ff8c 26.3%,#81ff7e 28.9%,#90ff6f 31.6%,#9dff62 34.2%,#a6ff59 36.8%,#afff50 39.5%,#b8ff47 42.1%,#c2ff3d 44.7%,#cbff34 47.4%,#d4ff2b 50.0%,#dbff24 52.6%,#e2ff1d 55.3%,#e9ff16 57.9%,#f0ff0f 60.5%,#f8ff07 63.2%,#ffff00 65.8%,#fffe00 68.4%,#fffd00 71.1%,#fffd00 73.7%,#fffd00 76.3%,#fffd00 78.9%,#fffd00 81.6%,#fffd00 84.2%,#fffd00 86.8%,#fffd00 89.5%,#fffd00 92.1%,#fffe00 94.7%,#fffe00 97.4%,#fffe00 100.0%)"></i>
<i style="background:linear-gradient(90deg,#00ddff 0.0%,#00ebff 2.6%,#00faff 5.3%,#09fff6 7.9%,#18ffe7 10.5%,#27ffd8 13.2%,#35ffca 15.8%,#44ffbb 18.4%,#53ffac 21.1%,#62ff9d 23.7%,#71ff8e 26.3%,#7fff80 28.9%,#8eff71 31.6%,#9bff64 34.2%,#a4ff5b 36.8%,#adff52 39.5%,#b7ff48 42.1%,#c0ff3f 44.7%,#c9ff36 47.4%,#d2ff2d 50.0%,#d9ff26 52.6%,#e0ff1f 55.3%,#e8ff17 57.9%,#efff10 60.5%,#f6ff09 63.2%,#fdff02 65.8%,#ffff00 68.4%,#ffff00 71.1%,#ffff00 73.7%,#feff01 76.3%,#feff01 78.9%,#feff01 81.6%,#feff01 84.2%,#feff01 86.8%,#fdff02 89.5%,#fdff02 92.1%,#fdff02 94.7%,#fcff03 97.4%,#fcff03 100.0%)"></i>
<i style="background:linear-gradient(90deg,#00d9ff 0.0%,#00e8ff 2.6%,#00f6ff 5.3%,#06fff9 7.9%,#15ffea 10.5%,#23ffdc 13.2%,#32ffcd 15.8%,#41ffbe 18.4%,#50ffaf 21.1%,#5fffa0 23.7%,#6eff91 26.3%,#7dff82 28.9%,#8cff73 31.6%,#99ff66 34.2%,#a2ff5d 36.8%,#acff53 39.5%,#b5ff4a 42.1%,#beff41 44.7%,#c7ff38 47.4%,#d0ff2f 50.0%,#d7ff28 52.6%,#dfff20 55.3%,#e6ff19 57.9%,#edff12 60.5%,#f4ff0b 63.2%,#fcff03 65.8%,#fdff02 68.4%,#fdff02 71.1%,#fcff03 73.7%,#fcff03 76.3%,#fcff03 78.9%,#fbff04 81.6%,#fbff04 84.2%,#fbff04 86.8%,#faff05 89.5%,#faff05 92.1%,#f9ff06 94.7%,#f9ff06 97.4%,#f8ff07 100.0%)"></i>
<i style="background:linear-gradient(90deg,#00d6ff 0.0%,#00e4ff 2.6%,#00f3ff 5.3%,#03fffc 7.9%,#12ffed 10.5%,#20ffdf 13.2%,#2fffd0 15.8%,#3effc1 18.4%,#4dffb2 21.1%,#5dffa2 23.7%,#6cff93 26.3%,#7bff84 28.9%,#8bff74 31.6%,#98ff67 34.2%,#a1ff5e 36.8%,#aaff55 39.5%,#b3ff4c 42.1%,#bcff43 44.7%,#c5ff3a 47.4%,#ceff31 50.0%,#d6ff29 52.6%,#ddff22 55.3%,#e4ff1b 57.9%,#ecff13 60.5%,#f3ff0c 63.2%,#faff05 65.8%,#fbff04 68.4%,#fbff04 71.1%,#faff05 73.7%,#f9ff06 76.3%,#f9ff06 78.9%,#f8ff07 81.6%,#f8ff07 84.2%,#f7ff08 86.8%,#f7ff08 89.5%,#f6ff09 92.1%,#f5ff0a 94.7%,#f5ff0a 97.4%,#f4ff0b 100.0%)"></i>
<i style="background:linear-gradient(90deg,#00d2ff 0.0%,#00e1ff 2.6%,#00f0ff 5.3%,#00feff 7.9%,#0efff1 10.5%,#1dffe2 13.2%,#2cffd3 15.8%,#3bffc4 18.4%,#4bffb4 21.1%,#5affa5 23.7%,#6aff95 26.3%,#79ff86 28.9%,#89ff76 31.6%,#96ff69 34.2%,#9fff60 36.8%,#a8ff57 39.5%,#b1ff4e 42.1%,#baff45 44.7%,#c4ff3b 47.4%,#cdff32 50.0%,#d4ff2b 52.6%,#dbff24 55.3%,#e3ff1c 57.9%,#eaff15 60.5%,#f1ff0e 63.2%,#f9ff06 65.8%,#f9ff06 68.4%,#f9ff06 71.1%,#f8ff07 73.7%,#f7ff08 76.3%,#f6ff09 78.9%,#f5ff0a 81.6%,#f4ff0b 84.2%,#f4ff0b 86.8%,#f3ff0c 89.5%,#f2ff0d 92.1%,#f2ff0d 94.7%,#f1ff0e 97.4%,#f0ff0f 100.0%)"></i>
<i style="background:linear-gradient(90deg,#00cfff 0.0%,#00ddff 2.6%,#00ecff 5.3%,#00fbff 7.9%,#0bfff4 10.5%,#1affe5 13.2%,#29ffd6 15.8%,#38ffc7 18.4%,#48ffb7 21.1%,#58ffa7 23.7%,#68ff97 26.3%,#77ff88 28.9%,#87ff78 31.6%,#94ff6b 34.2%,#9dff62 36.8%,#a6ff59 39.5%,#b0ff4f 42.1%,#b9ff46 44.7%,#c2ff3d 47.4%,#cbff34 50.0%,#d2ff2d 52.6%,#d9ff26 55.3%,#e1ff1e 57.9%,#e8ff17 60.5%,#f0ff0f 63.2%,#f7ff08 65.8%,#f8ff07 68.4%,#f7ff08 71.1%,#f5ff0a 73.7%,#f4ff0b 76.3%,#f3ff0c 78.9%,#f2ff0d 81.6%,#f1ff0e 84.2%,#f0ff0f 86.8%,#f0ff0f 89.5%,#efff10 92.1%,#eeff11 94.7%,#edff12 97.4%,#edff12 100.0%)"></i>
<i style="background:linear-gradient(90deg,#00cbff 0.0%,#00daff 2.6%,#00e9ff 5.3%,#00f8ff 7.9%,#08fff7 10.5%,#17ffe8 13.2%,#26ffd9 15.8%,#35ffca 18.4%,#45ffba 21.1%,#55ffaa 23.7%,#65ff9a 26.3%,#75ff8a 28.9%,#85ff7a 31.6%,#93ff6c 34.2%,#9cff63 36.8%,#a5ff5a 39.5%,#aeff51 42.1%,#b7ff48 44.7%,#c0ff3f 47.4%,#c9ff36 50.0%,#d0ff2f 52.6%,#d8ff27 55.3%,#dfff20 57.9%,#e7ff18 60.5%,#eeff11 63.2%,#f5ff0a 65.8%,#f6ff09 68.4%,#f5ff0a 71.1%,#f3ff0c 73.7%,#f2ff0d 76.3%,#f0ff0f 78.9%,#efff10 81.6%,#eeff11 84.2%,#edff12 86.8%,#ecff13 89.5%,#ebff14 92.1%,#eaff15 94.7%,#eaff15 97.4%,#e9ff16 100.0%)"></i>
<i style="background:linear-gradient(90deg,#00c8ff 0.0%,#00d7ff 2.6%,#00e6ff 5.3%,#00f5ff 7.9%,#05fffa 10.5%,#14ffeb 13.2%,#23ffdc 15.8%,#32ffcd 18.4%,#43ffbc 21.1%,#53ffac 23.7%,#63ff9c 26.3%,#73ff8c 28.9%,#84ff7b 31.6%,#91ff6e 34.2%,#9aff65 36.8%,#a3ff5c 39.5%,#acff53 42.1%,#b5ff4a 44.7%,#beff41 47.4%,#c7ff38 50.0%,#ceff31 52.6%,#d6ff29 55.3%,#ddff22 57.9%,#e5ff1a 60.5%,#ecff13 63.2%,#f4ff0b 65.8%,#f4ff0b 68.4%,#f2ff0d 71.1%,#f1ff0e 73.7%,#efff10 76.3%,#eeff11 78.9%,#ecff13 81.6%,#ebff14 84.2%,#eaff15 86.8%,#e9ff16 89.5%,#e8ff17 92.1%,#e7ff18 94.7%,#e6ff19 97.4%,#e5ff1a 100.0%)"></i>
<i style="background:linear-gradient(90deg,#00c4ff 0.0%,#00d3ff 2.6%,#00e2ff 5.3%,#00f1ff 7.9%,#01fffe 10.5%,#10ffef 13.2%,#1fffe0 15.8%,#2fffd0 18.4%,#40ffbf 21.1%,#50ffaf 23.7%,#61ff9e 26.3%,#71ff8e 28.9%,#82ff7d 31.6%,#8fff70 34.2%,#98ff67 36.8%,#a1ff5e 39.5%,#aaff55 42.1%,#b3ff4c 44.7%,#bcff43 47.4%,#c5ff3a 50.0%,#cdff32 52.6%,#d4ff2b 55.3%,#dcff23 57.9%,#e3ff1c 60.5%,#ebff14 63.2%,#f2ff0d 65.8%,#f2ff0d 68.4%,#f0ff0f 71.1%,#efff10 73.7%,#edff12 76.3%,#ebff14 78.9%,#e9ff16 81.6%,#e7ff18 84.2%,#e6ff19 86.8%,#e5ff1a 89.5%,#e4ff1b 92.1%,#e3ff1c 94.7%,#e2ff1d 97.4%,#e1ff1e 100.0%)"></i>
<i style="background:linear-gradient(90deg,#00c1ff 0.0%,#00d0ff 2.6%,#00dfff 5.3%,#00eeff 7.9%,#00fdff 10.5%,#0dfff2 13.2%,#1cffe3 15.8%,#2cffd3 18.4%,#3dffc2 21.1%,#4effb1 23.7%,#5fffa0 26.3%,#6fff90 28.9%,#80ff7f 31.6%,#8eff71 34.2%,#97ff68 36.8%,#a0ff5f 39.5%,#a9ff56 42.1%,#b1ff4e 44.7%,#baff45 47.4%,#c3ff3c 50.0%,#cbff34 52.6%,#d2ff2d 55.3%,#daff25 57.9%,#e2ff1d 60.5%,#e9ff16 63.2%,#f1ff0e 65.8%,#f1ff0e 68.4%,#eeff11 71.1%,#ecff13 73.7%,#eaff15 76.3%,#e8ff17 78.9%,#e6ff19 81.6%,#e4ff1b 84.2%,#e3ff1c 86.8%,#e2ff1d 89.5%,#e1ff1e 92.1%,#dfff20 94.7%,#deff21 97.4%,#ddff22 100.0%)"></i>
<i style="background:linear-gradient(90deg,#00bdff 0.0%,#00ccff 2.6%,#00dcff 5.3%,#00ebff 7.9%,#00faff 10.5%,#0afff5 13.2%,#19ffe6 15.8%,#2affd5 18.4%,#3affc5 21.1%,#4bffb4 23.7%,#5cffa3 26.3%,#6dff92 28.9%,#7eff81 31.6%,#8cff73 34.2%,#95ff6a 36.8%,#9eff61 39.5%,#a7ff58 42.1%,#b0ff4f 44.7%,#b9ff46 47.4%,#c1ff3e 50.0%,#c9ff36 52.6%,#d1ff2e 55.3%,#d8ff27 57.9%,#e0ff1f 60.5%,#e8ff17 63.2%,#efff10 65.8%,#efff10 68.4%,#ecff13 71.1%,#eaff15 73.7%,#e8ff17 76.3%,#e5ff1a 78.9%,#e3ff1c 81.6%,#e1ff1e 84.2%,#e0ff1f 86.8%,#deff21 89.5%,#ddff22 92.1%,#dcff23 94.7%,#dbff24 97.4%,#d9ff26 100.0%)"></i>
<i style="background:linear-gradient(90deg,#00baff 0.0%,#00c9ff 2.6%,#00d8ff 5.3%,#00e7ff 7.9%,#00f7ff 10.5%,#07fff8 13.2%,#16ffe9 15.8%,#27ffd8 18.4%,#38ffc7 21.1%,#49ffb6 23.7%,#5affa5 26.3%,#6bff94 28.9%,#7cff83 31.6%,#8aff75 34.2%,#93ff6c 36.8%,#9cff63 39.5%,#a5ff5a 42.1%,#aeff51 44.7%,#b7ff48 47.4%,#c0ff3f 50.0%,#c7ff38 52.6%,#cfff30 55.3%,#d7ff28 57.9%,#deff21 60.5%,#e6ff19 63.2%,#eeff11 65.8%,#edff12 68.4%,#eaff15 71.1%,#e8ff17 73.7%,#e5ff1a 76.3%,#e2ff1d 78.9%,#e0ff1f 81.6%,#deff21 84.2%,#dcff23 86.8%,#dbff24 89.5%,#daff25 92.1%,#d8ff27 94.7%,#d7ff28 97.4%,#d5ff2a 100.0%)"></i>
<i style="background:linear-gradient(90deg,#00b6ff 0.0%,#00c6ff 2.6%,#00d5ff 5.3%,#00e4ff 7.9%,#00f3ff 10.5%,#04fffb 13.2%,#13ffec 15.8%,#24ffdb 18.4%,#35ffca 21.1%,#46ffb9 23.7%,#58ffa7 26.3%,#69ff96 28.9%,#7bff84 31.6%,#89ff76 34.2%,#91ff6e 36.8%,#9aff65 39.5%,#a3ff5c 42.1%,#acff53 44.7%,#b5ff4a 47.4%,#beff41 50.0%,#c5ff3a 52.6%,#cdff32 55.3%,#d5ff2a 57.9%,#ddff22 60.5%,#e4ff1b 63.2%,#ecff13 65.8%,#ebff14 68.4%,#e8ff17 71.1%,#e5ff1a 73.7%,#e3ff1c 76.3%,#e0ff1f 78.9%,#ddff22 81.6%,#daff25 84.2%,#d9ff26 86.8%,#d7ff28 89.5%,#d6ff29 92.1%,#d5ff2a 94.7%,#d3ff2c 97.4%,#d2ff2d 100.0%)"></i>
</div>
<div class="cb" style="left:314.1px;top:34.5px;width:9.6px;height:253.5px"></div>
<div class="cb" style="left:644.6px;top:34.9px;width:9.2px;height:253.1px"></div>
<svg width="685" height="334" viewBox="0 0 685 334">
<g fill="none" stroke="#444" stroke-width="1.1">
<!-- left frame -->
<rect x="71.3" y="34.8" width="236.9" height="253.4" stroke="#555"/>
<path d="M68 34.6H71.3M68 76.9H71.3M68 119.2H71.3M68 161.4H71.3M68 203.7H71.3M68 246H71.3M68 288.2H71.3"/>
<path d="M71.3 288.2V293.5M145.4 288.2V293.5M219.5 288.2V293.5M293.6 288.2V293.5"/>
<!-- left colorbar -->
<rect x="314.1" y="34.5" width="9.6" height="253.5" stroke="#222" stroke-width="0.8"/>
<path d="M323.7 96.3H326.9M323.7 161.3H326.9M323.7 226.3H326.9" stroke="#333"/>
<!-- right frame -->
<rect x="401.3" y="34.8" width="237.3" height="253.4" stroke="#555"/>
<path d="M398 34.6H401.3M398 76.9H401.3M398 119.2H401.3M398 161.4H401.3M398 203.7H401.3M398 246H401.3M398 288.2H401.3"/>
<path d="M401.3 288.2V293.5M475.6 288.2V293.5M549.9 288.2V293.5M624.2 288.2V293.5"/>
<rect x="644.6" y="34.9" width="9.2" height="253.1" stroke="#222" stroke-width="0.8"/>
<path d="M653.8 40.4H657.3M653.8 80.6H657.3M653.8 121H657.3M653.8 161.3H657.3M653.8 201.6H657.3M653.8 241.9H657.3M653.8 282.2H657.3" stroke="#333"/>
</g>
<!-- contours -->
<g fill="none" stroke="#1a1a1a" stroke-width="0.9">
<path d="M71.6 114.2L89.8 125.8L105 135.8L121 144.8L136.6 153"/>
<path d="M144.9 156.8L148.9 159.6"/>
<path d="M155.2 166.8L170.4 188L188.7 214.3L219.3 262.4L239.8 257.6L252.2 254.9L271.4 251.3"/>
<path d="M280.1 250.1L294 248.4"/>
<path d="M409 185.3Q428 198 442.9 220T465 265.2L473.3 288"/>
</g>
<g font-size="11" text-anchor="middle" dominant-baseline="central">
<text x="0" y="0" transform="translate(140.5 155) rotate(30) scale(0.9 1.05)">0</text>
<text x="0" y="0" transform="translate(151.8 164.3) rotate(34) scale(0.9 1.05)">0</text>
<text x="0" y="0" transform="translate(275.4 251.5) rotate(-3) scale(0.97 1.05)">0</text>
<text x="0" y="0" transform="translate(406.2 184.6) rotate(28) scale(0.9 1.05)">0</text>
</g>
<!-- texts -->
<g font-size="15">
<text x="0.1" y="11.3" font-size="16">a</text>
<text x="80.5" y="11.6" font-size="15.6">Survival: warm presses <tspan font-style="italic">vs.</tspan> baseline</text>
<text x="380.2" y="11.5" font-size="16">b</text>
<text x="435.8" y="11.6" font-size="15.6">Fitness: warm presses <tspan font-style="italic">vs.</tspan> baseline</text>
<g text-anchor="end">
<text x="63.5" y="39.8">24</text>
<text x="63.5" y="166.6">21</text>
<text x="63.5" y="293.2">18</text>
</g>
<g text-anchor="middle">
<text x="71.3" y="311">0</text>
<text x="145.4" y="311">5</text>
<text x="219.5" y="311">10</text>
<text x="293.6" y="311">15</text>
<text x="401.3" y="311">0</text>
<text x="475.6" y="311">5</text>
<text x="549.9" y="311">10</text>
<text x="624.2" y="311">15</text>
<text x="190.85" y="330" font-size="15.6">Timing (days)</text>
<text x="520" y="330" font-size="15.6">Timing (days)</text>
<text x="0" y="0" font-size="15.6" transform="translate(39.6 163.2) rotate(-90)">Intensity (°C)</text>
</g>
<text x="332.5" y="100">0.2</text>
<text x="332.5" y="165.5">0.0</text>
<text x="332.5" y="230.3">-0.2</text>
<text x="660.6" y="44.5">1.5</text>
<text x="661" y="84.7">1.0</text>
<text x="661" y="125.1">0.5</text>
<text x="661" y="165.4">0.0</text>
<text x="661.8" y="205.7">-0.5</text>
<text x="661.8" y="246">-1.0</text>
<text x="661.8" y="286.3">-1.5</text>
</g>
</svg>
</body></html>
